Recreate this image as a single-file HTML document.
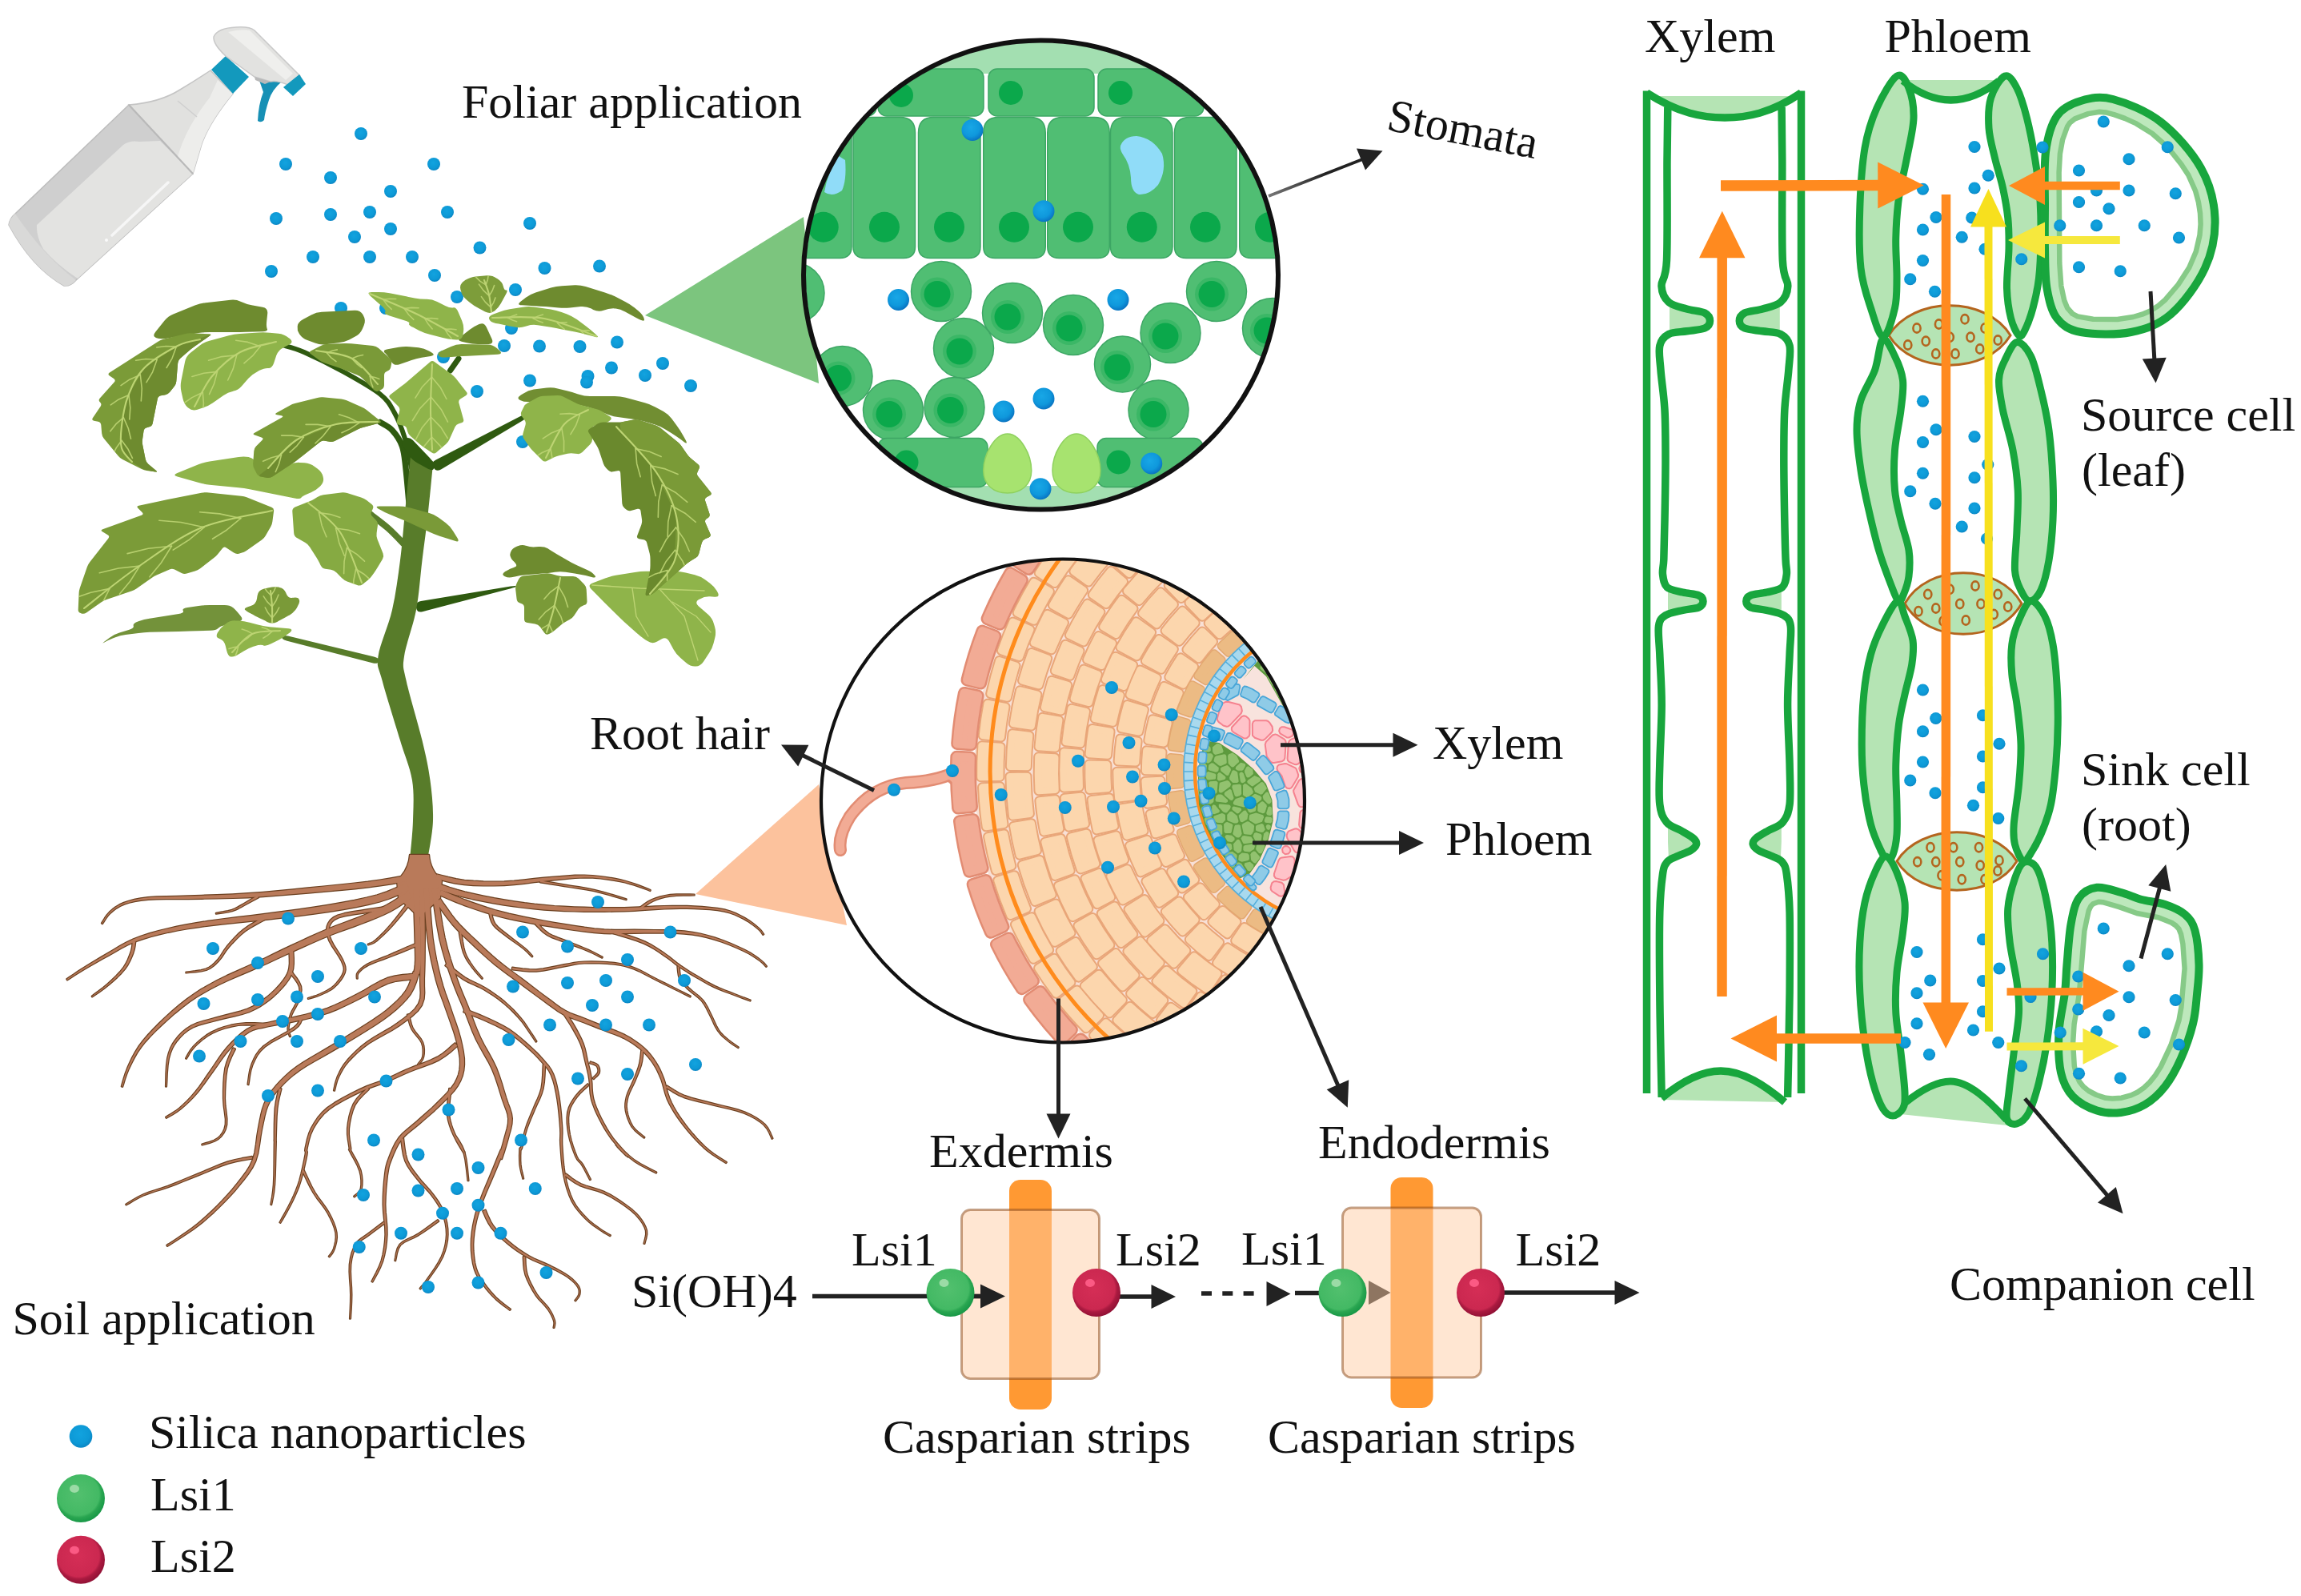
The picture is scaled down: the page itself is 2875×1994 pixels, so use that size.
<!DOCTYPE html>
<html><head><meta charset="utf-8"><title>Silica nanoparticles uptake</title>
<style>
html,body{margin:0;padding:0;background:#fff;}
body{width:2875px;height:1994px;overflow:hidden;}
svg{display:block;}
text{font-family:"Liberation Serif",serif;fill:#111;}
</style></head><body>
<svg width="2875" height="1994" viewBox="0 0 2875 1994">
<!-- defs -->
<defs>
<radialGradient id="gdot" cx="0.45" cy="0.4" r="0.6"><stop offset="0" stop-color="#12a3df"/><stop offset="0.7" stop-color="#0d99d6"/><stop offset="1" stop-color="#0b86c4"/></radialGradient>
<radialGradient id="gdotb" cx="0.42" cy="0.38" r="0.62"><stop offset="0" stop-color="#18a7e6"/><stop offset="0.65" stop-color="#0f98dc"/><stop offset="0.9" stop-color="#0b7fcb"/><stop offset="1" stop-color="#0a74c0"/></radialGradient>
<radialGradient id="ggreen" cx="0.45" cy="0.42" r="0.6"><stop offset="0" stop-color="#52c06e"/><stop offset="0.72" stop-color="#43b964"/><stop offset="0.8" stop-color="#2aa651"/><stop offset="1" stop-color="#159645"/></radialGradient>
<radialGradient id="gred" cx="0.45" cy="0.42" r="0.6"><stop offset="0" stop-color="#d52e56"/><stop offset="0.72" stop-color="#cb2850"/><stop offset="0.8" stop-color="#aa1a40"/><stop offset="1" stop-color="#8e1034"/></radialGradient>
<linearGradient id="gstom" x1="0" y1="1" x2="1" y2="0"><stop offset="0" stop-color="#777"/><stop offset="0.6" stop-color="#222"/></linearGradient>
<g id="ballg"><circle r="30" fill="url(#ggreen)"/><ellipse cx="-8" cy="-12" rx="6" ry="5" fill="#a9e0b0" opacity="0.85"/></g>
<g id="ballr"><circle r="30" fill="url(#gred)"/><ellipse cx="-8" cy="-12" rx="6" ry="5" fill="#ff5f8a" opacity="0.9"/></g>
<clipPath id="cleaf"><circle cx="1300" cy="344" r="295"/></clipPath>
<clipPath id="croot"><circle cx="1328" cy="1002" r="302"/></clipPath>
</defs>

<!-- bottle -->
<g id="bottle">
<!-- body -->
<path d="M161,131 L241,217 L95,350 Q88,358 80,357 Q40,335 11,281 Q12,273 19,267 Z" fill="#cfcfcf" stroke="#bdbdbd" stroke-width="1.5"/>
<!-- foot band -->
<path d="M19,267 Q12,273 11,281 Q40,335 80,357 Q88,358 95,350 Q55,320 19,267Z" fill="#d9d9d8"/>
<!-- lighter label/front -->
<path d="M46,281 L154,181 Q162,175 174,177 L200,176 L241,217 L97,348 Q70,330 54,311 Q45,295 46,281Z" fill="#e3e3e1"/>
<!-- neck -->
<path d="M161,131 Q200,128 225,112 Q245,100 263,88 L291,117 Q262,152 252,180 Q246,200 241,217 Z" fill="#e1e1df" stroke="#c4c4c4" stroke-width="1.5"/>
<path d="M222,196 Q232,160 262,122 L272,100 L291,117 Q262,152 252,180 Q246,200 241,217Z" fill="#ededeb"/>
<path d="M161,131 L241,217" stroke="#b9b9b9" stroke-width="2" fill="none"/>
<path d="M222,126 L246,146" stroke="#cfcfcf" stroke-width="1.5" fill="none"/>
<!-- highlight -->
<path d="M140,294 L210,228" stroke="#f6f6f6" stroke-width="3.5" stroke-linecap="round" fill="none"/>
<circle cx="133" cy="300" r="2" fill="#fafafa"/>
<!-- collar -->
<path d="M264,87 L282,70 L311,96 L291,117Z" fill="#1399bd"/>
<!-- trigger -->
<path d="M323,98 L352,102 Q340,112 336,125 Q331,140 330,150 Q326,154 322,151 Q323,130 329,115 Q326,106 323,98Z" fill="#1790b5"/>
<!-- head -->
<path d="M282,70 Q266,55 267,46 Q272,35 295,34 Q312,33 318,38 L375,95 L360,106 Q345,100 338,102 L318,96 Z" fill="#e2e2e0" stroke="#c9c9c9" stroke-width="1.5"/>
<path d="M285,40 Q300,36 312,38 L366,92 L357,100 Z" fill="#efefed"/>
<path d="M318,96 L338,102 L331,105 L319,100Z" fill="#b9b9b9"/>
<!-- nozzle -->
<path d="M374,93 L382,105 L366,120 L354,109Z" fill="#1399bd"/>
</g>

<!-- spraydots -->
<g id="spraydots">
<circle cx="451" cy="167" r="8" fill="url(#gdot)"/>
<circle cx="357" cy="205" r="8" fill="url(#gdot)"/>
<circle cx="542" cy="205" r="8" fill="url(#gdot)"/>
<circle cx="413" cy="222" r="8" fill="url(#gdot)"/>
<circle cx="488" cy="239" r="8" fill="url(#gdot)"/>
<circle cx="345" cy="273" r="8" fill="url(#gdot)"/>
<circle cx="413" cy="268" r="8" fill="url(#gdot)"/>
<circle cx="462" cy="265" r="8" fill="url(#gdot)"/>
<circle cx="559" cy="265" r="8" fill="url(#gdot)"/>
<circle cx="488" cy="286" r="8" fill="url(#gdot)"/>
<circle cx="443" cy="296" r="8" fill="url(#gdot)"/>
<circle cx="391" cy="321" r="8" fill="url(#gdot)"/>
<circle cx="462" cy="321" r="8" fill="url(#gdot)"/>
<circle cx="515" cy="321" r="8" fill="url(#gdot)"/>
<circle cx="339" cy="339" r="8" fill="url(#gdot)"/>
<circle cx="543" cy="344" r="8" fill="url(#gdot)"/>
<circle cx="426" cy="385" r="8" fill="url(#gdot)"/>
<circle cx="571" cy="371" r="8" fill="url(#gdot)"/>
<circle cx="662" cy="279" r="8" fill="url(#gdot)"/>
<circle cx="599.5" cy="309.5" r="8" fill="url(#gdot)"/>
<circle cx="680.5" cy="335" r="8" fill="url(#gdot)"/>
<circle cx="749" cy="332.5" r="8" fill="url(#gdot)"/>
<circle cx="644" cy="362" r="8" fill="url(#gdot)"/>
<circle cx="630" cy="432" r="8" fill="url(#gdot)"/>
<circle cx="674" cy="432.5" r="8" fill="url(#gdot)"/>
<circle cx="724.5" cy="433" r="8" fill="url(#gdot)"/>
<circle cx="771" cy="427.5" r="8" fill="url(#gdot)"/>
<circle cx="828" cy="454" r="8" fill="url(#gdot)"/>
<circle cx="764" cy="459.5" r="8" fill="url(#gdot)"/>
<circle cx="734.5" cy="470" r="8" fill="url(#gdot)"/>
<circle cx="733" cy="477.5" r="8" fill="url(#gdot)"/>
<circle cx="806" cy="469" r="8" fill="url(#gdot)"/>
<circle cx="662" cy="475.5" r="8" fill="url(#gdot)"/>
<circle cx="863" cy="482" r="8" fill="url(#gdot)"/>
<circle cx="596" cy="489" r="8" fill="url(#gdot)"/>
<circle cx="554" cy="446" r="8" fill="url(#gdot)"/>
<circle cx="639" cy="410" r="8" fill="url(#gdot)"/>
<circle cx="482" cy="385" r="8" fill="url(#gdot)"/>
<circle cx="653" cy="552" r="8" fill="url(#gdot)"/>
</g>
<path d="M806,394 L1004,271 L1023,479 Z" fill="#7cc57e"/>
<path d="M869,1117 L1023,980 L1058,1156 Z" fill="#fcc29d"/>

<!-- plant -->
<g id="plant">
<path d="M514.0,585.0 C512.7,578.8 509.6,559.7 506.0,548.0 C502.4,536.3 497.7,524.2 492.5,515.0 C487.3,505.8 485.4,500.8 475.0,492.5 C464.6,484.2 445.8,473.8 430.0,465.0 C414.2,456.2 392.9,445.7 380.0,440.0 C367.1,434.3 357.1,432.5 352.5,431.0" fill="none" stroke="#2f5a10" stroke-width="6" stroke-linecap="round" />
<path d="M511.0,628.0 C510.3,620.8 508.4,596.8 507.0,585.0 C505.6,573.2 505.3,565.4 502.5,557.5 C499.7,549.6 494.6,542.5 490.0,537.5 C485.4,532.5 477.5,529.2 475.0,527.5" fill="none" stroke="#2f5a10" stroke-width="7.5" stroke-linecap="round" />
<path d="M541.1,583.4 Q538.0,578.0 544.2,574.8 L649.8,520.2 Q656.0,517.0 657.4,519.2 L657.6,519.8 Q659.0,522.0 653.0,525.6 L551.0,586.4 Q545.0,590.0 541.9,584.6 Z" fill="#2f5a10" />
<path d="M562.5,463.0 L573.0,448.0" fill="none" stroke="#2f5a10" stroke-width="7" stroke-linecap="round" stroke-linejoin="round" />
<path d="M519.9,758.3 Q519.0,752.0 525.9,750.9 L638.1,732.6 Q645.0,731.5 645.0,732.4 L645.0,732.6 Q645.0,733.5 638.2,735.3 L527.8,764.2 Q521.0,766.0 520.1,759.7 Z" fill="#2f5a10" />
<path d="M473.1,825.6 Q474.0,822.0 467.2,820.4 L359.8,794.6 Q353.0,793.0 352.6,795.7 L352.4,796.3 Q352.0,799.0 358.8,800.8 L465.2,828.2 Q472.0,830.0 472.9,826.4 Z" fill="#587c2a" />
<path d="M462.0,642.0 C465.8,645.0 477.8,653.7 485.0,660.0 C492.2,666.3 501.7,676.7 505.0,680.0" fill="none" stroke="#587c2a" stroke-width="8" stroke-linecap="round" />
<path d="M513,570 C511.8,581.7 508.2,618.3 506.0,640.0 C503.8,661.7 502.7,679.7 500.0,700.0 C497.3,720.3 494.6,742.0 490.0,762.0 C485.4,782.0 474.6,805.3 472.5,820.0 C470.4,834.7 472.9,832.5 477.5,850.0 C482.1,867.5 493.8,904.2 500.0,925.0 C506.2,945.8 512.3,958.3 515.0,975.0 C517.7,991.7 516.4,1009.2 516.0,1025.0 C515.6,1040.8 513.1,1062.5 512.5,1070.0 L535,1070 C536.0,1062.5 540.6,1040.8 541.0,1025.0 C541.4,1009.2 539.8,991.7 537.5,975.0 C535.2,958.3 532.5,945.8 527.5,925.0 C522.5,904.2 511.2,867.5 507.5,850.0 C503.8,832.5 502.9,834.7 505.0,820.0 C507.1,805.3 516.2,782.0 520.0,762.0 C523.8,742.0 525.0,720.3 527.5,700.0 C530.0,679.7 532.8,660.0 535.0,640.0 C537.2,620.0 540.0,590.0 541.0,580.0Z" fill="#587c2a"/>
<path d="M503.8,557.9 Q500.0,552.0 504.9,548.9 L506.1,548.1 Q511.0,545.0 515.9,550.0 L532.6,567.5 Q537.5,572.5 540.3,575.9 L540.9,576.6 Q543.8,580.0 542.5,584.0 L542.2,585.0 Q541.0,589.0 534.8,585.7 L521.2,578.3 Q515.0,575.0 511.2,569.1 Z" fill="#2f5a10" />
<path d="M194.5,421.8 Q190.0,420.0 194.4,414.5 L205.6,400.5 Q210.0,395.0 216.5,392.4 L243.5,381.6 Q250.0,379.0 257.0,378.2 L288.0,374.8 Q295.0,374.0 300.6,376.7 L301.9,377.3 Q307.5,380.0 314.4,381.3 L328.1,383.7 Q335.0,385.0 334.2,392.0 L333.3,400.5 Q332.5,407.5 333.6,410.4 L333.9,411.1 Q335.0,414.0 328.0,414.2 L307.0,414.8 Q300.0,415.0 293.0,415.0 L262.0,415.0 Q255.0,415.0 248.1,416.1 L206.9,422.9 Q200.0,424.0 195.5,422.2 Z" fill="#6e8b2f" />
<path d="M371.8,407.0 Q372.5,402.5 378.6,399.1 L388.9,393.4 Q395.0,390.0 402.0,389.7 L443.0,387.8 Q450.0,387.5 453.4,393.1 L454.1,394.4 Q457.5,400.0 454.7,406.4 L452.8,411.1 Q450.0,417.5 443.7,420.6 L436.3,424.4 Q430.0,427.5 423.0,428.3 L407.0,430.2 Q400.0,431.0 393.5,428.5 L384.0,425.0 Q377.5,422.5 374.6,418.0 L373.9,417.0 Q371.0,412.5 371.7,408.0 Z" fill="#6e8b2f" />
<path d="M652.0,381.3 Q645.0,381.0 650.5,376.7 L657.0,371.8 Q662.5,367.5 669.2,365.4 L688.3,359.6 Q695.0,357.5 702.0,357.2 L718.0,356.3 Q725.0,356.0 731.7,358.1 L755.8,365.4 Q762.5,367.5 768.8,370.6 L781.2,376.9 Q787.5,380.0 792.9,384.5 L797.1,388.0 Q802.5,392.5 804.1,396.3 L804.4,397.2 Q806.0,401.0 803.3,400.6 L802.7,400.4 Q800.0,400.0 793.9,396.6 L781.1,389.4 Q775.0,386.0 769.4,385.6 L768.1,385.4 Q762.5,385.0 755.9,387.2 L754.1,387.8 Q747.5,390.0 741.2,386.9 L738.8,385.6 Q732.5,382.5 725.5,383.1 L712.0,384.4 Q705.0,385.0 698.0,384.4 L682.0,383.1 Q675.0,382.5 668.0,382.2 Z" fill="#6e8b2f" />
<path d="M649.5,499.8 Q645.0,497.5 650.8,493.6 L654.2,491.4 Q660.0,487.5 666.9,486.6 L683.1,484.6 Q690.0,483.8 696.8,485.4 L708.2,488.3 Q715.0,490.0 721.6,492.2 L723.4,492.8 Q730.0,495.0 737.0,495.0 L768.0,495.0 Q775.0,495.0 781.8,496.8 L805.7,503.2 Q812.5,505.0 818.6,508.4 L828.9,514.1 Q835.0,517.5 839.2,523.1 L845.8,531.9 Q850.0,537.5 853.3,543.7 L856.7,549.8 Q860.0,556.0 854.4,551.9 L850.6,549.1 Q845.0,545.0 839.1,541.3 L830.9,536.2 Q825.0,532.5 818.3,530.5 L806.7,527.0 Q800.0,525.0 793.1,524.0 L771.9,521.0 Q765.0,520.0 758.5,517.4 L746.5,512.6 Q740.0,510.0 733.2,508.3 L726.8,506.7 Q720.0,505.0 713.1,503.8 L696.9,501.2 Q690.0,500.0 683.0,500.5 L662.0,502.0 Q655.0,502.5 650.5,500.2 Z" fill="#718e32" />
<path d="M630.0,719.8 Q626.0,717.5 631.2,714.1 L632.3,713.4 Q637.5,710.0 642.0,708.9 L643.0,708.6 Q647.5,707.5 642.8,702.3 L640.7,700.2 Q636.0,695.0 637.8,690.5 L638.2,689.5 Q640.0,685.0 645.6,682.8 L646.9,682.2 Q652.5,680.0 657.0,681.7 L658.0,682.1 Q662.5,683.8 669.5,683.3 L673.0,683.0 Q680.0,682.5 684.5,685.3 L685.5,685.9 Q690.0,688.8 696.0,692.4 L709.0,700.1 Q715.0,703.8 721.4,706.6 L733.6,712.1 Q740.0,715.0 742.7,718.4 L743.3,719.1 Q746.0,722.5 739.2,720.9 L731.8,719.1 Q725.0,717.5 718.1,716.5 L706.9,714.8 Q700.0,713.8 693.2,714.8 L691.8,715.0 Q685.0,716.0 678.0,716.5 L657.0,718.2 Q650.0,718.8 643.2,720.4 L641.8,720.8 Q635.0,722.5 631.0,720.2 Z" fill="#6e8b2f" />
<path d="M480.9,440.9 Q477.5,437.5 484.4,436.2 L498.1,433.8 Q505.0,432.5 512.0,433.2 L523.0,434.3 Q530.0,435.0 536.0,438.5 L539.0,440.2 Q545.0,443.8 538.1,444.9 L526.9,446.8 Q520.0,448.0 513.4,450.3 L499.1,455.2 Q492.5,457.5 489.1,451.9 L488.4,450.6 Q485.0,445.0 481.6,441.6 Z" fill="#6e8b2f" />
<path d="M576.8,426.7 Q570.0,425.0 575.5,420.7 L587.0,411.8 Q592.5,407.5 598.1,405.2 L599.4,404.8 Q605.0,402.5 607.9,408.9 L614.6,423.6 Q617.5,430.0 610.5,430.0 L597.0,430.0 Q590.0,430.0 583.2,428.3 Z" fill="#6e8b2f" />
<path d="M130.1,802.8 Q126.0,805.0 131.6,800.8 L136.9,796.7 Q142.5,792.5 149.2,790.5 L160.8,787.0 Q167.5,785.0 166.8,782.2 L166.7,781.6 Q166.0,778.8 172.3,776.5 L173.7,776.0 Q180.0,773.8 186.9,772.7 L223.1,767.1 Q230.0,766.0 228.9,763.3 L228.6,762.7 Q227.5,760.0 234.4,759.0 L248.1,757.0 Q255.0,756.0 262.0,756.0 L280.5,756.0 Q287.5,756.0 290.9,758.9 L291.6,759.6 Q295.0,762.5 299.4,768.0 L300.6,769.5 Q305.0,775.0 298.2,776.7 L281.8,780.8 Q275.0,782.5 272.8,784.8 L272.2,785.2 Q270.0,787.5 263.0,787.7 L237.0,788.5 Q230.0,788.8 223.0,788.9 L187.0,789.8 Q180.0,790.0 173.1,790.9 L156.9,792.9 Q150.0,793.8 143.5,796.4 L141.5,797.3 Q135.0,800.0 130.9,802.2 Z" fill="#73923a" />
<path d="M221.7,595.6 Q215.0,593.8 221.5,591.1 L248.5,580.1 Q255.0,577.5 261.9,576.5 L298.1,571.0 Q305.0,570.0 310.6,571.1 L311.9,571.4 Q317.5,572.5 320.6,578.8 L326.9,591.2 Q330.0,597.5 336.2,594.2 L361.3,580.8 Q367.5,577.5 374.5,577.9 L380.5,578.3 Q387.5,578.8 393.1,583.0 L396.9,585.8 Q402.5,590.0 403.6,595.6 L403.9,596.9 Q405.0,602.5 400.5,607.0 L399.5,608.0 Q395.0,612.5 388.6,615.3 L383.9,617.2 Q377.5,620.0 376.4,621.7 L376.1,622.1 Q375.0,623.8 368.1,622.4 L311.9,611.3 Q305.0,610.0 298.0,609.3 L262.0,605.7 Q255.0,605.0 248.3,603.1 Z" fill="#8fb44a" />
<path d="M262.1,419.5 Q265.0,417.5 261.5,417.3 L238.5,416.2 Q235.0,416.0 231.6,416.9 L203.4,424.1 Q200.0,425.0 197.1,426.9 L136.9,465.6 Q134.0,467.5 136.9,469.5 L142.1,473.0 Q145.0,475.0 142.7,477.6 L124.8,497.4 Q122.5,500.0 124.8,502.2 L125.2,502.8 Q127.5,505.0 125.5,507.9 L116.0,522.1 Q114.0,525.0 117.4,525.7 L122.6,526.8 Q126.0,527.5 126.3,531.0 L127.2,541.5 Q127.5,545.0 129.7,547.7 L147.8,569.8 Q150.0,572.5 153.1,574.1 L176.9,585.9 Q180.0,587.5 183.5,588.0 L194.0,589.5 Q197.5,590.0 194.8,587.8 L185.2,579.7 Q182.5,577.5 181.8,574.1 L178.2,555.9 Q177.5,552.5 178.0,549.0 L179.5,538.5 Q180.0,535.0 183.4,534.2 L186.6,533.3 Q190.0,532.5 190.7,529.1 L196.8,498.4 Q197.5,495.0 200.9,494.3 L206.6,493.2 Q210.0,492.5 212.2,489.8 L217.8,482.7 Q220.0,480.0 220.3,476.5 L222.2,453.5 Q222.5,450.0 225.2,447.7 L237.3,437.3 Q240.0,435.0 242.9,433.0 Z" fill="#7b9b38" />
<path d="M261.7,418.6 Q265.0,417.5 262.1,419.5 L242.9,433.0 Q240.0,435.0 237.3,437.3 L225.2,447.7 Q222.5,450.0 222.2,453.5 L220.3,476.5 Q220.0,480.0 217.8,482.7 L212.2,489.8 Q210.0,492.5 206.6,493.2 L200.9,494.3 Q197.5,495.0 196.8,498.4 L190.7,529.1 Q190.0,532.5 186.6,533.3 L183.4,534.2 Q180.0,535.0 179.5,538.5 L178.0,549.0 Q177.5,552.5 178.2,555.9 L181.8,574.1 Q182.5,577.5 185.2,579.7 L194.8,587.8 Q197.5,590.0 194.1,589.4 L183.4,587.6 Q180.0,587.0 177.1,585.1 L167.9,578.9 Q165.0,577.0 162.9,574.2 L154.1,562.8 Q152.0,560.0 152.0,556.5 L152.0,535.5 Q152.0,532.0 152.7,528.6 L159.3,498.4 Q160.0,495.0 161.7,492.0 L178.3,463.0 Q180.0,460.0 182.9,458.1 L219.1,433.9 Q222.0,432.0 225.3,430.9 Z" fill="#6e8b2f" />
<clipPath id="lc1"><path d="M262.1,419.5 Q265.0,417.5 261.5,417.3 L238.5,416.2 Q235.0,416.0 231.6,416.9 L203.4,424.1 Q200.0,425.0 197.1,426.9 L136.9,465.6 Q134.0,467.5 136.9,469.5 L142.1,473.0 Q145.0,475.0 142.7,477.6 L124.8,497.4 Q122.5,500.0 124.8,502.2 L125.2,502.8 Q127.5,505.0 125.5,507.9 L116.0,522.1 Q114.0,525.0 117.4,525.7 L122.6,526.8 Q126.0,527.5 126.3,531.0 L127.2,541.5 Q127.5,545.0 129.7,547.7 L147.8,569.8 Q150.0,572.5 153.1,574.1 L176.9,585.9 Q180.0,587.5 183.5,588.0 L194.0,589.5 Q197.5,590.0 194.8,587.8 L185.2,579.7 Q182.5,577.5 181.8,574.1 L178.2,555.9 Q177.5,552.5 178.0,549.0 L179.5,538.5 Q180.0,535.0 183.4,534.2 L186.6,533.3 Q190.0,532.5 190.7,529.1 L196.8,498.4 Q197.5,495.0 200.9,494.3 L206.6,493.2 Q210.0,492.5 212.2,489.8 L217.8,482.7 Q220.0,480.0 220.3,476.5 L222.2,453.5 Q222.5,450.0 225.2,447.7 L237.3,437.3 Q240.0,435.0 242.9,433.0 Z"/></clipPath><g clip-path="url(#lc1)"><path d="M250.0,424.0 C245.3,425.3 233.7,426.0 222.0,432.0 C210.3,438.0 190.3,449.5 180.0,460.0 C169.7,470.5 164.7,483.0 160.0,495.0 C155.3,507.0 153.3,521.2 152.0,532.0 C150.7,542.8 149.8,552.5 152.0,560.0 C154.2,567.5 162.8,574.2 165.0,577.0" fill="none" stroke="#bdd473" stroke-width="2.1" stroke-linecap="round" />
<path d="M220.4,433.1 L207.3,432.5 L195.7,434.0" fill="none" stroke="#bdd473" stroke-width="1.6" stroke-linecap="round" stroke-linejoin="round" opacity="0.9"/>
<path d="M220.4,433.1 L215.1,447.6 L208.1,459.5" fill="none" stroke="#bdd473" stroke-width="1.6" stroke-linecap="round" stroke-linejoin="round" opacity="0.9"/>
<path d="M196.2,449.2 L182.2,448.5 L169.6,450.2" fill="none" stroke="#bdd473" stroke-width="1.6" stroke-linecap="round" stroke-linejoin="round" opacity="0.9"/>
<path d="M196.2,449.2 L190.6,464.8 L183.0,477.7" fill="none" stroke="#bdd473" stroke-width="1.6" stroke-linecap="round" stroke-linejoin="round" opacity="0.9"/>
<path d="M175.3,468.2 L161.9,474.2 L151.0,481.6" fill="none" stroke="#bdd473" stroke-width="1.6" stroke-linecap="round" stroke-linejoin="round" opacity="0.9"/>
<path d="M175.3,468.2 L177.3,485.5 L176.3,501.0" fill="none" stroke="#bdd473" stroke-width="1.6" stroke-linecap="round" stroke-linejoin="round" opacity="0.9"/>
<path d="M160.9,493.4 L148.4,498.9 L138.3,505.8" fill="none" stroke="#bdd473" stroke-width="1.6" stroke-linecap="round" stroke-linejoin="round" opacity="0.9"/>
<path d="M160.9,493.4 L162.8,509.4 L161.8,523.9" fill="none" stroke="#bdd473" stroke-width="1.6" stroke-linecap="round" stroke-linejoin="round" opacity="0.9"/>
<path d="M154.3,521.6 L144.8,529.9 L137.8,538.8" fill="none" stroke="#bdd473" stroke-width="1.6" stroke-linecap="round" stroke-linejoin="round" opacity="0.9"/>
<path d="M154.3,521.6 L160.3,535.2 L163.5,548.1" fill="none" stroke="#bdd473" stroke-width="1.6" stroke-linecap="round" stroke-linejoin="round" opacity="0.9"/>
<path d="M152.0,550.3 L145.2,559.6 L140.6,569.0" fill="none" stroke="#bdd473" stroke-width="1.6" stroke-linecap="round" stroke-linejoin="round" opacity="0.9"/>
<path d="M152.0,550.3 L160.1,561.3 L165.5,572.4" fill="none" stroke="#bdd473" stroke-width="1.6" stroke-linecap="round" stroke-linejoin="round" opacity="0.9"/></g>
<path d="M361.2,430.6 Q367.5,427.5 362.0,423.1 L360.5,421.9 Q355.0,417.5 348.0,416.8 L337.0,415.7 Q330.0,415.0 323.0,415.5 L299.5,417.0 Q292.5,417.5 285.7,419.3 L261.8,425.7 Q255.0,427.5 249.5,431.8 L238.0,440.7 Q232.5,445.0 231.1,451.9 L226.4,475.6 Q225.0,482.5 226.5,489.3 L228.5,498.2 Q230.0,505.0 234.5,508.9 L235.5,509.8 Q240.0,513.8 246.7,511.7 L253.3,509.6 Q260.0,507.5 265.7,503.5 L279.3,494.0 Q285.0,490.0 290.6,488.9 L291.9,488.6 Q297.5,487.5 302.1,482.2 L310.4,472.8 Q315.0,467.5 321.3,464.4 L323.7,463.1 Q330.0,460.0 334.5,460.0 L335.5,460.0 Q340.0,460.0 342.2,453.4 L345.3,444.1 Q347.5,437.5 353.8,434.4 Z" fill="#8fb44a" />
<clipPath id="lc2"><path d="M361.2,430.6 Q367.5,427.5 362.0,423.1 L360.5,421.9 Q355.0,417.5 348.0,416.8 L337.0,415.7 Q330.0,415.0 323.0,415.5 L299.5,417.0 Q292.5,417.5 285.7,419.3 L261.8,425.7 Q255.0,427.5 249.5,431.8 L238.0,440.7 Q232.5,445.0 231.1,451.9 L226.4,475.6 Q225.0,482.5 226.5,489.3 L228.5,498.2 Q230.0,505.0 234.5,508.9 L235.5,509.8 Q240.0,513.8 246.7,511.7 L253.3,509.6 Q260.0,507.5 265.7,503.5 L279.3,494.0 Q285.0,490.0 290.6,488.9 L291.9,488.6 Q297.5,487.5 302.1,482.2 L310.4,472.8 Q315.0,467.5 321.3,464.4 L323.7,463.1 Q330.0,460.0 334.5,460.0 L335.5,460.0 Q340.0,460.0 342.2,453.4 L345.3,444.1 Q347.5,437.5 353.8,434.4 Z"/></clipPath><g clip-path="url(#lc2)"><path d="M345.0,427.0 C337.5,429.2 313.3,432.8 300.0,440.0 C286.7,447.2 274.5,458.7 265.0,470.0 C255.5,481.3 246.7,501.7 243.0,508.0" fill="none" stroke="#bdd473" stroke-width="2.1" stroke-linecap="round" />
<path d="M325.3,432.7 L309.5,427.4 L294.6,425.2" fill="none" stroke="#bdd473" stroke-width="1.6" stroke-linecap="round" stroke-linejoin="round" opacity="0.9"/>
<path d="M325.3,432.7 L315.5,444.7 L304.9,453.8" fill="none" stroke="#bdd473" stroke-width="1.6" stroke-linecap="round" stroke-linejoin="round" opacity="0.9"/>
<path d="M295.7,443.7 L277.0,445.6 L260.6,450.3" fill="none" stroke="#bdd473" stroke-width="1.6" stroke-linecap="round" stroke-linejoin="round" opacity="0.9"/>
<path d="M295.7,443.7 L291.3,460.6 L284.7,475.0" fill="none" stroke="#bdd473" stroke-width="1.6" stroke-linecap="round" stroke-linejoin="round" opacity="0.9"/>
<path d="M271.5,464.4 L254.6,466.2 L239.9,470.4" fill="none" stroke="#bdd473" stroke-width="1.6" stroke-linecap="round" stroke-linejoin="round" opacity="0.9"/>
<path d="M271.5,464.4 L267.5,479.7 L261.5,492.6" fill="none" stroke="#bdd473" stroke-width="1.6" stroke-linecap="round" stroke-linejoin="round" opacity="0.9"/>
<path d="M253.3,490.2 L240.0,496.6 L229.1,504.2" fill="none" stroke="#bdd473" stroke-width="1.6" stroke-linecap="round" stroke-linejoin="round" opacity="0.9"/>
<path d="M253.3,490.2 L254.4,503.9 L253.2,516.2" fill="none" stroke="#bdd473" stroke-width="1.6" stroke-linecap="round" stroke-linejoin="round" opacity="0.9"/></g>
<path d="M388.3,442.3 Q385.0,440.0 388.6,438.2 L401.4,431.8 Q405.0,430.0 409.0,429.8 L431.0,428.9 Q435.0,428.8 439.0,429.2 L466.0,432.1 Q470.0,432.5 473.0,435.1 L487.0,447.4 Q490.0,450.0 489.2,453.9 L488.3,458.6 Q487.5,462.5 484.1,463.6 L483.4,463.9 Q480.0,465.0 480.0,469.0 L480.0,481.0 Q480.0,485.0 476.4,486.8 L473.6,488.2 Q470.0,490.0 467.2,487.2 L452.8,472.8 Q450.0,470.0 446.3,468.5 L428.7,461.5 Q425.0,460.0 421.2,458.7 L406.3,453.8 Q402.5,452.5 399.2,450.2 Z" fill="#7a9a38" />
<clipPath id="lc3"><path d="M388.3,442.3 Q385.0,440.0 388.6,438.2 L401.4,431.8 Q405.0,430.0 409.0,429.8 L431.0,428.9 Q435.0,428.8 439.0,429.2 L466.0,432.1 Q470.0,432.5 473.0,435.1 L487.0,447.4 Q490.0,450.0 489.2,453.9 L488.3,458.6 Q487.5,462.5 484.1,463.6 L483.4,463.9 Q480.0,465.0 480.0,469.0 L480.0,481.0 Q480.0,485.0 476.4,486.8 L473.6,488.2 Q470.0,490.0 467.2,487.2 L452.8,472.8 Q450.0,470.0 446.3,468.5 L428.7,461.5 Q425.0,460.0 421.2,458.7 L406.3,453.8 Q402.5,452.5 399.2,450.2 Z"/></clipPath><g clip-path="url(#lc3)"><path d="M395.0,438.0 C402.5,439.7 427.2,441.0 440.0,448.0 C452.8,455.0 466.7,474.7 472.0,480.0" fill="none" stroke="#bdd473" stroke-width="2.1" stroke-linecap="round" />
<path d="M408.4,441.0 L414.0,447.1 L420.0,451.6" fill="none" stroke="#bdd473" stroke-width="1.6" stroke-linecap="round" stroke-linejoin="round" opacity="0.9"/>
<path d="M408.4,441.0 L415.0,438.3 L421.3,436.9" fill="none" stroke="#bdd473" stroke-width="1.6" stroke-linecap="round" stroke-linejoin="round" opacity="0.9"/>
<path d="M439.6,447.9 L445.7,454.5 L452.2,459.5" fill="none" stroke="#bdd473" stroke-width="1.6" stroke-linecap="round" stroke-linejoin="round" opacity="0.9"/>
<path d="M439.6,447.9 L446.8,445.0 L453.6,443.5" fill="none" stroke="#bdd473" stroke-width="1.6" stroke-linecap="round" stroke-linejoin="round" opacity="0.9"/>
<path d="M462.3,470.3 L463.6,477.6 L465.9,483.8" fill="none" stroke="#bdd473" stroke-width="1.6" stroke-linecap="round" stroke-linejoin="round" opacity="0.9"/>
<path d="M462.3,470.3 L468.5,471.5 L473.9,473.4" fill="none" stroke="#bdd473" stroke-width="1.6" stroke-linecap="round" stroke-linejoin="round" opacity="0.9"/></g>
<path d="M462.7,369.7 Q457.5,365.0 464.5,365.0 L473.0,365.0 Q480.0,365.0 486.9,366.3 L518.1,372.4 Q525.0,373.8 531.8,373.8 L533.2,373.8 Q540.0,373.8 546.3,376.9 L556.2,381.9 Q562.5,385.0 565.9,384.4 L566.6,384.3 Q570.0,383.8 572.7,390.2 L577.3,401.0 Q580.0,407.5 579.0,414.4 L578.5,418.1 Q577.5,425.0 570.5,424.5 L567.0,424.2 Q560.0,423.8 553.2,422.0 L536.8,417.8 Q530.0,416.0 523.7,412.9 L516.3,409.1 Q510.0,406.0 511.1,404.4 L511.4,404.1 Q512.5,402.5 505.8,400.4 L486.7,394.6 Q480.0,392.5 481.1,390.2 L481.4,389.8 Q482.5,387.5 477.3,382.8 Z" fill="#8fb44a" />
<clipPath id="lc4"><path d="M462.7,369.7 Q457.5,365.0 464.5,365.0 L473.0,365.0 Q480.0,365.0 486.9,366.3 L518.1,372.4 Q525.0,373.8 531.8,373.8 L533.2,373.8 Q540.0,373.8 546.3,376.9 L556.2,381.9 Q562.5,385.0 565.9,384.4 L566.6,384.3 Q570.0,383.8 572.7,390.2 L577.3,401.0 Q580.0,407.5 579.0,414.4 L578.5,418.1 Q577.5,425.0 570.5,424.5 L567.0,424.2 Q560.0,423.8 553.2,422.0 L536.8,417.8 Q530.0,416.0 523.7,412.9 L516.3,409.1 Q510.0,406.0 511.1,404.4 L511.4,404.1 Q512.5,402.5 505.8,400.4 L486.7,394.6 Q480.0,392.5 481.1,390.2 L481.4,389.8 Q482.5,387.5 477.3,382.8 Z"/></clipPath><g clip-path="url(#lc4)"><path d="M462.0,367.0 C471.7,371.2 501.7,383.2 520.0,392.0 C538.3,400.8 563.3,415.3 572.0,420.0" fill="none" stroke="#bdd473" stroke-width="2.1" stroke-linecap="round" />
<path d="M478.8,374.3 L483.8,381.0 L489.2,386.4" fill="none" stroke="#bdd473" stroke-width="1.6" stroke-linecap="round" stroke-linejoin="round" opacity="0.9"/>
<path d="M478.8,374.3 L487.2,373.3 L494.8,373.5" fill="none" stroke="#bdd473" stroke-width="1.6" stroke-linecap="round" stroke-linejoin="round" opacity="0.9"/>
<path d="M505.0,385.5 L510.7,393.2 L516.8,399.3" fill="none" stroke="#bdd473" stroke-width="1.6" stroke-linecap="round" stroke-linejoin="round" opacity="0.9"/>
<path d="M505.0,385.5 L514.5,384.4 L523.1,384.7" fill="none" stroke="#bdd473" stroke-width="1.6" stroke-linecap="round" stroke-linejoin="round" opacity="0.9"/>
<path d="M530.7,397.8 L535.2,405.1 L540.2,411.0" fill="none" stroke="#bdd473" stroke-width="1.6" stroke-linecap="round" stroke-linejoin="round" opacity="0.9"/>
<path d="M530.7,397.8 L539.3,397.5 L547.0,398.4" fill="none" stroke="#bdd473" stroke-width="1.6" stroke-linecap="round" stroke-linejoin="round" opacity="0.9"/>
<path d="M555.9,411.3 L559.7,417.6 L564.1,422.8" fill="none" stroke="#bdd473" stroke-width="1.6" stroke-linecap="round" stroke-linejoin="round" opacity="0.9"/>
<path d="M555.9,411.3 L563.3,411.1 L570.0,411.8" fill="none" stroke="#bdd473" stroke-width="1.6" stroke-linecap="round" stroke-linejoin="round" opacity="0.9"/></g>
<path d="M611.1,398.4 Q610.0,395.0 616.6,392.5 L623.4,390.0 Q630.0,387.5 636.9,386.3 L653.1,383.7 Q660.0,382.5 666.9,383.5 L688.1,386.5 Q695.0,387.5 701.6,390.0 L708.4,392.5 Q715.0,395.0 720.7,399.1 L726.8,403.4 Q732.5,407.5 737.8,412.1 L744.7,417.9 Q750.0,422.5 743.2,420.7 L731.8,417.8 Q725.0,416.0 718.1,414.6 L701.9,411.4 Q695.0,410.0 688.1,408.8 L671.9,406.2 Q665.0,405.0 658.4,407.2 L656.6,407.8 Q650.0,410.0 643.1,408.6 L636.9,407.4 Q630.0,406.0 623.1,404.6 L619.4,403.9 Q612.5,402.5 611.4,399.1 Z" fill="#8fb44a" />
<clipPath id="lc5"><path d="M611.1,398.4 Q610.0,395.0 616.6,392.5 L623.4,390.0 Q630.0,387.5 636.9,386.3 L653.1,383.7 Q660.0,382.5 666.9,383.5 L688.1,386.5 Q695.0,387.5 701.6,390.0 L708.4,392.5 Q715.0,395.0 720.7,399.1 L726.8,403.4 Q732.5,407.5 737.8,412.1 L744.7,417.9 Q750.0,422.5 743.2,420.7 L731.8,417.8 Q725.0,416.0 718.1,414.6 L701.9,411.4 Q695.0,410.0 688.1,408.8 L671.9,406.2 Q665.0,405.0 658.4,407.2 L656.6,407.8 Q650.0,410.0 643.1,408.6 L636.9,407.4 Q630.0,406.0 623.1,404.6 L619.4,403.9 Q612.5,402.5 611.4,399.1 Z"/></clipPath><g clip-path="url(#lc5)"><path d="M615.0,397.0 C625.8,397.2 658.3,394.2 680.0,398.0 C701.7,401.8 734.2,416.3 745.0,420.0" fill="none" stroke="#bdd473" stroke-width="2.1" stroke-linecap="round" />
<path d="M635.0,397.3 L640.4,400.0 L645.6,401.8" fill="none" stroke="#bdd473" stroke-width="1.6" stroke-linecap="round" stroke-linejoin="round" opacity="0.9"/>
<path d="M635.0,397.3 L640.5,394.8 L645.7,393.1" fill="none" stroke="#bdd473" stroke-width="1.6" stroke-linecap="round" stroke-linejoin="round" opacity="0.9"/>
<path d="M666.2,397.8 L672.3,400.9 L678.2,402.9" fill="none" stroke="#bdd473" stroke-width="1.6" stroke-linecap="round" stroke-linejoin="round" opacity="0.9"/>
<path d="M666.2,397.8 L672.4,394.9 L678.4,393.0" fill="none" stroke="#bdd473" stroke-width="1.6" stroke-linecap="round" stroke-linejoin="round" opacity="0.9"/>
<path d="M696.5,403.6 L700.9,407.9 L705.3,411.3" fill="none" stroke="#bdd473" stroke-width="1.6" stroke-linecap="round" stroke-linejoin="round" opacity="0.9"/>
<path d="M696.5,403.6 L702.6,402.8 L708.2,402.8" fill="none" stroke="#bdd473" stroke-width="1.6" stroke-linecap="round" stroke-linejoin="round" opacity="0.9"/>
<path d="M726.0,413.6 L729.8,417.3 L733.7,420.3" fill="none" stroke="#bdd473" stroke-width="1.6" stroke-linecap="round" stroke-linejoin="round" opacity="0.9"/>
<path d="M726.0,413.6 L731.3,412.9 L736.2,412.9" fill="none" stroke="#bdd473" stroke-width="1.6" stroke-linecap="round" stroke-linejoin="round" opacity="0.9"/></g>
<path d="M575.4,361.8 Q573.8,355.0 579.6,351.2 L581.6,349.8 Q587.5,346.0 594.5,345.4 L608.0,344.3 Q615.0,343.8 620.6,347.7 L621.9,348.6 Q627.5,352.5 628.6,357.0 L628.9,358.0 Q630.0,362.5 632.2,362.5 L632.8,362.5 Q635.0,362.5 631.6,368.6 L625.9,378.9 Q622.5,385.0 618.0,388.4 L617.0,389.1 Q612.5,392.5 606.2,389.4 L598.8,385.6 Q592.5,382.5 587.1,378.0 L582.9,374.5 Q577.5,370.0 575.8,363.2 Z" fill="#7d9d3a" />
<clipPath id="lc6"><path d="M575.4,361.8 Q573.8,355.0 579.6,351.2 L581.6,349.8 Q587.5,346.0 594.5,345.4 L608.0,344.3 Q615.0,343.8 620.6,347.7 L621.9,348.6 Q627.5,352.5 628.6,357.0 L628.9,358.0 Q630.0,362.5 632.2,362.5 L632.8,362.5 Q635.0,362.5 631.6,368.6 L625.9,378.9 Q622.5,385.0 618.0,388.4 L617.0,389.1 Q612.5,392.5 606.2,389.4 L598.8,385.6 Q592.5,382.5 587.1,378.0 L582.9,374.5 Q577.5,370.0 575.8,363.2 Z"/></clipPath><g clip-path="url(#lc6)"><path d="M614.0,390.0 C613.5,386.3 612.5,374.7 611.0,368.0 C609.5,361.3 606.0,353.0 605.0,350.0" fill="none" stroke="#bdd473" stroke-width="2.1" stroke-linecap="round" />
<path d="M613.2,383.9 L606.3,377.4 L601.4,370.6" fill="none" stroke="#bdd473" stroke-width="1.6" stroke-linecap="round" stroke-linejoin="round" opacity="0.9"/>
<path d="M613.2,383.9 L616.8,377.8 L619.0,371.9" fill="none" stroke="#bdd473" stroke-width="1.6" stroke-linecap="round" stroke-linejoin="round" opacity="0.9"/>
<path d="M611.2,369.6 L603.8,362.6 L598.4,355.1" fill="none" stroke="#bdd473" stroke-width="1.6" stroke-linecap="round" stroke-linejoin="round" opacity="0.9"/>
<path d="M611.2,369.6 L615.2,363.0 L617.6,356.6" fill="none" stroke="#bdd473" stroke-width="1.6" stroke-linecap="round" stroke-linejoin="round" opacity="0.9"/>
<path d="M607.0,355.9 L599.9,351.4 L594.5,346.2" fill="none" stroke="#bdd473" stroke-width="1.6" stroke-linecap="round" stroke-linejoin="round" opacity="0.9"/>
<path d="M607.0,355.9 L609.2,350.0 L610.1,344.5" fill="none" stroke="#bdd473" stroke-width="1.6" stroke-linecap="round" stroke-linejoin="round" opacity="0.9"/></g>
<path d="M547.8,443.7 Q546.0,441.0 552.4,438.1 L563.6,432.9 Q570.0,430.0 577.0,430.1 L609.0,430.4 Q616.0,430.5 621.1,435.2 L623.9,437.8 Q629.0,442.5 622.0,442.8 L584.5,444.7 Q577.5,445.0 570.5,445.5 L557.0,446.5 Q550.0,447.0 548.2,444.3 Z" fill="#7d9d3a" />
<path d="M537.3,452.3 Q540.0,450.0 542.8,452.1 L564.7,467.9 Q567.5,470.0 569.6,472.8 L582.9,489.7 Q585.0,492.5 582.0,494.3 L575.5,498.2 Q572.5,500.0 573.4,503.4 L579.1,524.1 Q580.0,527.5 576.6,528.3 L573.4,529.2 Q570.0,530.0 568.6,533.2 L561.4,549.3 Q560.0,552.5 557.3,554.8 L545.2,565.2 Q542.5,567.5 539.6,565.6 L530.4,559.4 Q527.5,557.5 524.8,555.2 L512.7,544.8 Q510.0,542.5 509.2,539.1 L508.3,535.9 Q507.5,532.5 504.1,531.8 L498.4,530.7 Q495.0,530.0 495.8,526.6 L499.2,513.4 Q500.0,510.0 497.5,507.5 L487.5,497.5 Q485.0,495.0 487.8,492.9 L502.2,482.1 Q505.0,480.0 507.7,477.7 Z" fill="#8fb44a" />
<clipPath id="lc7"><path d="M537.3,452.3 Q540.0,450.0 542.8,452.1 L564.7,467.9 Q567.5,470.0 569.6,472.8 L582.9,489.7 Q585.0,492.5 582.0,494.3 L575.5,498.2 Q572.5,500.0 573.4,503.4 L579.1,524.1 Q580.0,527.5 576.6,528.3 L573.4,529.2 Q570.0,530.0 568.6,533.2 L561.4,549.3 Q560.0,552.5 557.3,554.8 L545.2,565.2 Q542.5,567.5 539.6,565.6 L530.4,559.4 Q527.5,557.5 524.8,555.2 L512.7,544.8 Q510.0,542.5 509.2,539.1 L508.3,535.9 Q507.5,532.5 504.1,531.8 L498.4,530.7 Q495.0,530.0 495.8,526.6 L499.2,513.4 Q500.0,510.0 497.5,507.5 L487.5,497.5 Q485.0,495.0 487.8,492.9 L502.2,482.1 Q505.0,480.0 507.7,477.7 Z"/></clipPath><g clip-path="url(#lc7)"><path d="M540.0,455.0 C539.7,464.2 538.0,492.2 538.0,510.0 C538.0,527.8 539.7,553.3 540.0,562.0" fill="none" stroke="#bdd473" stroke-width="2.1" stroke-linecap="round" />
<path d="M539.4,471.1 L550.6,484.6 L557.9,498.5" fill="none" stroke="#bdd473" stroke-width="1.6" stroke-linecap="round" stroke-linejoin="round" opacity="0.9"/>
<path d="M539.4,471.1 L527.2,483.8 L518.9,497.1" fill="none" stroke="#bdd473" stroke-width="1.6" stroke-linecap="round" stroke-linejoin="round" opacity="0.9"/>
<path d="M538.5,496.0 L551.2,511.4 L559.5,527.1" fill="none" stroke="#bdd473" stroke-width="1.6" stroke-linecap="round" stroke-linejoin="round" opacity="0.9"/>
<path d="M538.5,496.0 L524.7,510.4 L515.3,525.5" fill="none" stroke="#bdd473" stroke-width="1.6" stroke-linecap="round" stroke-linejoin="round" opacity="0.9"/>
<path d="M538.4,521.0 L550.9,533.9 L559.3,547.5" fill="none" stroke="#bdd473" stroke-width="1.6" stroke-linecap="round" stroke-linejoin="round" opacity="0.9"/>
<path d="M538.4,521.0 L527.0,534.8 L519.6,549.0" fill="none" stroke="#bdd473" stroke-width="1.6" stroke-linecap="round" stroke-linejoin="round" opacity="0.9"/>
<path d="M539.4,546.0 L550.2,557.2 L557.6,569.0" fill="none" stroke="#bdd473" stroke-width="1.6" stroke-linecap="round" stroke-linejoin="round" opacity="0.9"/>
<path d="M539.4,546.0 L529.5,558.0 L523.0,570.3" fill="none" stroke="#bdd473" stroke-width="1.6" stroke-linecap="round" stroke-linejoin="round" opacity="0.9"/></g>
<path d="M474.1,528.4 Q477.5,527.5 474.7,525.4 L457.8,512.1 Q455.0,510.0 451.8,508.6 L433.2,500.2 Q430.0,498.8 426.5,498.4 L403.5,496.3 Q400.0,496.0 396.6,496.9 L368.4,504.1 Q365.0,505.0 361.9,506.7 L345.6,515.8 Q342.5,517.5 345.9,518.2 L351.6,519.3 Q355.0,520.0 351.9,521.7 L318.1,540.8 Q315.0,542.5 318.3,543.6 L326.7,546.4 Q330.0,547.5 327.5,550.0 L320.0,557.5 Q317.5,560.0 317.3,563.5 L316.2,579.0 Q316.0,582.5 317.6,585.6 L320.9,591.9 Q322.5,595.0 326.0,595.6 L334.0,596.9 Q337.5,597.5 340.4,595.6 L364.6,579.4 Q367.5,577.5 370.3,575.4 L374.7,572.1 Q377.5,570.0 380.2,567.8 L399.8,552.2 Q402.5,550.0 405.9,550.7 L411.6,551.8 Q415.0,552.5 418.1,550.9 L446.9,536.6 Q450.0,535.0 453.4,534.1 Z" fill="#7b9b38" />
<path d="M474.0,527.7 Q477.5,527.5 474.1,528.4 L453.4,534.1 Q450.0,535.0 446.9,536.6 L418.1,550.9 Q415.0,552.5 411.6,551.8 L405.9,550.7 Q402.5,550.0 399.8,552.2 L380.2,567.8 Q377.5,570.0 374.7,572.1 L370.3,575.4 Q367.5,577.5 364.6,579.4 L340.4,595.6 Q337.5,597.5 334.0,596.9 L326.0,595.6 Q322.5,595.0 325.2,592.8 L332.3,587.2 Q335.0,585.0 337.5,582.5 L367.5,552.5 Q370.0,550.0 373.2,548.7 L416.8,531.3 Q420.0,530.0 423.5,529.8 Z" fill="#6e8b2f" />
<clipPath id="lc8"><path d="M474.1,528.4 Q477.5,527.5 474.7,525.4 L457.8,512.1 Q455.0,510.0 451.8,508.6 L433.2,500.2 Q430.0,498.8 426.5,498.4 L403.5,496.3 Q400.0,496.0 396.6,496.9 L368.4,504.1 Q365.0,505.0 361.9,506.7 L345.6,515.8 Q342.5,517.5 345.9,518.2 L351.6,519.3 Q355.0,520.0 351.9,521.7 L318.1,540.8 Q315.0,542.5 318.3,543.6 L326.7,546.4 Q330.0,547.5 327.5,550.0 L320.0,557.5 Q317.5,560.0 317.3,563.5 L316.2,579.0 Q316.0,582.5 317.6,585.6 L320.9,591.9 Q322.5,595.0 326.0,595.6 L334.0,596.9 Q337.5,597.5 340.4,595.6 L364.6,579.4 Q367.5,577.5 370.3,575.4 L374.7,572.1 Q377.5,570.0 380.2,567.8 L399.8,552.2 Q402.5,550.0 405.9,550.7 L411.6,551.8 Q415.0,552.5 418.1,550.9 L446.9,536.6 Q450.0,535.0 453.4,534.1 Z"/></clipPath><g clip-path="url(#lc8)"><path d="M472.0,527.0 C463.3,527.5 437.0,526.2 420.0,530.0 C403.0,533.8 384.2,540.8 370.0,550.0 C355.8,559.2 340.8,579.2 335.0,585.0" fill="none" stroke="#bdd473" stroke-width="2.1" stroke-linecap="round" />
<path d="M448.7,528.3 L435.9,521.8 L423.5,517.7" fill="none" stroke="#bdd473" stroke-width="1.6" stroke-linecap="round" stroke-linejoin="round" opacity="0.9"/>
<path d="M448.7,528.3 L437.7,535.6 L426.9,540.7" fill="none" stroke="#bdd473" stroke-width="1.6" stroke-linecap="round" stroke-linejoin="round" opacity="0.9"/>
<path d="M413.0,532.8 L396.9,530.4 L382.1,530.4" fill="none" stroke="#bdd473" stroke-width="1.6" stroke-linecap="round" stroke-linejoin="round" opacity="0.9"/>
<path d="M413.0,532.8 L403.8,544.5 L394.0,553.9" fill="none" stroke="#bdd473" stroke-width="1.6" stroke-linecap="round" stroke-linejoin="round" opacity="0.9"/>
<path d="M379.4,546.3 L364.9,544.1 L351.6,544.1" fill="none" stroke="#bdd473" stroke-width="1.6" stroke-linecap="round" stroke-linejoin="round" opacity="0.9"/>
<path d="M379.4,546.3 L371.1,556.8 L362.2,565.2" fill="none" stroke="#bdd473" stroke-width="1.6" stroke-linecap="round" stroke-linejoin="round" opacity="0.9"/>
<path d="M351.5,568.5 L339.2,571.8 L328.6,576.3" fill="none" stroke="#bdd473" stroke-width="1.6" stroke-linecap="round" stroke-linejoin="round" opacity="0.9"/>
<path d="M351.5,568.5 L348.5,579.8 L344.3,589.5" fill="none" stroke="#bdd473" stroke-width="1.6" stroke-linecap="round" stroke-linejoin="round" opacity="0.9"/></g>
<path d="M342.1,638.5 Q342.5,635.0 339.3,633.7 L308.2,621.3 Q305.0,620.0 301.5,619.7 L258.5,615.3 Q255.0,615.0 251.6,615.7 L208.4,624.3 Q205.0,625.0 201.6,625.7 L173.4,631.8 Q170.0,632.5 172.5,635.0 L177.5,640.0 Q180.0,642.5 176.7,643.7 L128.3,661.3 Q125.0,662.5 128.0,664.3 L134.5,668.2 Q137.5,670.0 135.3,672.8 L112.2,702.2 Q110.0,705.0 108.9,708.3 L99.9,734.2 Q98.8,737.5 98.6,741.0 L97.7,761.5 Q97.5,765.0 100.8,766.1 L101.7,766.4 Q105.0,767.5 107.9,765.5 L127.1,752.0 Q130.0,750.0 133.3,748.9 L164.2,738.6 Q167.5,737.5 170.4,735.5 L189.6,722.0 Q192.5,720.0 195.7,718.6 L211.8,711.4 Q215.0,710.0 218.1,711.6 L226.9,715.9 Q230.0,717.5 233.4,716.5 L243.6,713.5 Q247.0,712.5 249.8,710.4 L267.2,697.1 Q270.0,695.0 272.2,692.3 L277.8,685.2 Q280.0,682.5 282.9,684.4 L292.1,690.6 Q295.0,692.5 298.4,691.7 L301.6,690.8 Q305.0,690.0 307.9,688.0 L327.1,674.5 Q330.0,672.5 331.7,669.5 L338.3,658.0 Q340.0,655.0 340.4,651.5 Z" fill="#7b9b38" />
<clipPath id="lc9"><path d="M342.1,638.5 Q342.5,635.0 339.3,633.7 L308.2,621.3 Q305.0,620.0 301.5,619.7 L258.5,615.3 Q255.0,615.0 251.6,615.7 L208.4,624.3 Q205.0,625.0 201.6,625.7 L173.4,631.8 Q170.0,632.5 172.5,635.0 L177.5,640.0 Q180.0,642.5 176.7,643.7 L128.3,661.3 Q125.0,662.5 128.0,664.3 L134.5,668.2 Q137.5,670.0 135.3,672.8 L112.2,702.2 Q110.0,705.0 108.9,708.3 L99.9,734.2 Q98.8,737.5 98.6,741.0 L97.7,761.5 Q97.5,765.0 100.8,766.1 L101.7,766.4 Q105.0,767.5 107.9,765.5 L127.1,752.0 Q130.0,750.0 133.3,748.9 L164.2,738.6 Q167.5,737.5 170.4,735.5 L189.6,722.0 Q192.5,720.0 195.7,718.6 L211.8,711.4 Q215.0,710.0 218.1,711.6 L226.9,715.9 Q230.0,717.5 233.4,716.5 L243.6,713.5 Q247.0,712.5 249.8,710.4 L267.2,697.1 Q270.0,695.0 272.2,692.3 L277.8,685.2 Q280.0,682.5 282.9,684.4 L292.1,690.6 Q295.0,692.5 298.4,691.7 L301.6,690.8 Q305.0,690.0 307.9,688.0 L327.1,674.5 Q330.0,672.5 331.7,669.5 L338.3,658.0 Q340.0,655.0 340.4,651.5 Z"/></clipPath><g clip-path="url(#lc9)"><path d="M340.0,638.0 C325.0,641.7 278.3,648.0 250.0,660.0 C221.7,672.0 194.2,693.3 170.0,710.0 C145.8,726.7 115.8,751.7 105.0,760.0" fill="none" stroke="#bdd473" stroke-width="2.1" stroke-linecap="round" />
<path d="M300.8,647.6 L274.3,641.9 L249.6,639.8" fill="none" stroke="#bdd473" stroke-width="1.6" stroke-linecap="round" stroke-linejoin="round" opacity="0.9"/>
<path d="M300.8,647.6 L283.2,662.2 L265.5,673.3" fill="none" stroke="#bdd473" stroke-width="1.6" stroke-linecap="round" stroke-linejoin="round" opacity="0.9"/>
<path d="M255.1,658.8 L225.9,652.5 L198.8,650.2" fill="none" stroke="#bdd473" stroke-width="1.6" stroke-linecap="round" stroke-linejoin="round" opacity="0.9"/>
<path d="M255.1,658.8 L235.7,674.8 L216.2,687.1" fill="none" stroke="#bdd473" stroke-width="1.6" stroke-linecap="round" stroke-linejoin="round" opacity="0.9"/>
<path d="M214.5,682.2 L185.3,685.3 L159.1,691.6" fill="none" stroke="#bdd473" stroke-width="1.6" stroke-linecap="round" stroke-linejoin="round" opacity="0.9"/>
<path d="M214.5,682.2 L201.3,703.2 L186.9,720.8" fill="none" stroke="#bdd473" stroke-width="1.6" stroke-linecap="round" stroke-linejoin="round" opacity="0.9"/>
<path d="M174.6,707.1 L148.0,710.0 L124.3,715.7" fill="none" stroke="#bdd473" stroke-width="1.6" stroke-linecap="round" stroke-linejoin="round" opacity="0.9"/>
<path d="M174.6,707.1 L162.6,726.2 L149.5,742.1" fill="none" stroke="#bdd473" stroke-width="1.6" stroke-linecap="round" stroke-linejoin="round" opacity="0.9"/>
<path d="M137.0,735.4 L113.5,740.3 L92.7,747.4" fill="none" stroke="#bdd473" stroke-width="1.6" stroke-linecap="round" stroke-linejoin="round" opacity="0.9"/>
<path d="M137.0,735.4 L127.9,753.5 L117.6,768.9" fill="none" stroke="#bdd473" stroke-width="1.6" stroke-linecap="round" stroke-linejoin="round" opacity="0.9"/></g>
<path d="M365.3,639.0 Q365.0,635.0 368.7,633.5 L386.3,626.5 Q390.0,625.0 393.4,622.9 L396.6,620.9 Q400.0,618.8 404.0,618.3 L426.0,615.5 Q430.0,615.0 433.8,616.1 L451.2,621.4 Q455.0,622.5 458.1,625.0 L464.4,630.0 Q467.5,632.5 465.7,636.1 L464.3,638.9 Q462.5,642.5 465.3,645.3 L469.7,649.7 Q472.5,652.5 471.9,656.5 L470.6,666.0 Q470.0,670.0 471.5,673.7 L478.5,691.3 Q480.0,695.0 478.0,698.4 L472.0,708.6 Q470.0,712.0 467.7,715.3 L464.8,719.2 Q462.5,722.5 459.4,725.0 L453.1,730.0 Q450.0,732.5 446.3,731.1 L433.7,726.4 Q430.0,725.0 427.2,722.2 L420.3,715.3 Q417.5,712.5 413.6,711.8 L406.4,710.7 Q402.5,710.0 400.7,706.4 L399.3,703.6 Q397.5,700.0 395.4,696.6 L387.1,683.4 Q385.0,680.0 381.5,678.0 L371.0,672.0 Q367.5,670.0 367.2,666.0 Z" fill="#86aa42" />
<clipPath id="lc10"><path d="M365.3,639.0 Q365.0,635.0 368.7,633.5 L386.3,626.5 Q390.0,625.0 393.4,622.9 L396.6,620.9 Q400.0,618.8 404.0,618.3 L426.0,615.5 Q430.0,615.0 433.8,616.1 L451.2,621.4 Q455.0,622.5 458.1,625.0 L464.4,630.0 Q467.5,632.5 465.7,636.1 L464.3,638.9 Q462.5,642.5 465.3,645.3 L469.7,649.7 Q472.5,652.5 471.9,656.5 L470.6,666.0 Q470.0,670.0 471.5,673.7 L478.5,691.3 Q480.0,695.0 478.0,698.4 L472.0,708.6 Q470.0,712.0 467.7,715.3 L464.8,719.2 Q462.5,722.5 459.4,725.0 L453.1,730.0 Q450.0,732.5 446.3,731.1 L433.7,726.4 Q430.0,725.0 427.2,722.2 L420.3,715.3 Q417.5,712.5 413.6,711.8 L406.4,710.7 Q402.5,710.0 400.7,706.4 L399.3,703.6 Q397.5,700.0 395.4,696.6 L387.1,683.4 Q385.0,680.0 381.5,678.0 L371.0,672.0 Q367.5,670.0 367.2,666.0 Z"/></clipPath><g clip-path="url(#lc10)"><path d="M385.0,628.0 C391.7,634.2 413.8,648.3 425.0,665.0 C436.2,681.7 447.5,717.5 452.0,728.0" fill="none" stroke="#bdd473" stroke-width="2.1" stroke-linecap="round" />
<path d="M398.5,640.5 L402.2,656.8 L407.9,670.7" fill="none" stroke="#bdd473" stroke-width="1.6" stroke-linecap="round" stroke-linejoin="round" opacity="0.9"/>
<path d="M398.5,640.5 L412.7,642.6 L424.9,646.5" fill="none" stroke="#bdd473" stroke-width="1.6" stroke-linecap="round" stroke-linejoin="round" opacity="0.9"/>
<path d="M419.6,660.0 L423.8,678.4 L430.3,694.2" fill="none" stroke="#bdd473" stroke-width="1.6" stroke-linecap="round" stroke-linejoin="round" opacity="0.9"/>
<path d="M419.6,660.0 L435.6,662.3 L449.5,666.8" fill="none" stroke="#bdd473" stroke-width="1.6" stroke-linecap="round" stroke-linejoin="round" opacity="0.9"/>
<path d="M433.4,684.7 L430.1,701.3 L429.6,716.6" fill="none" stroke="#bdd473" stroke-width="1.6" stroke-linecap="round" stroke-linejoin="round" opacity="0.9"/>
<path d="M433.4,684.7 L445.7,692.4 L455.5,701.2" fill="none" stroke="#bdd473" stroke-width="1.6" stroke-linecap="round" stroke-linejoin="round" opacity="0.9"/>
<path d="M444.7,711.0 L441.8,725.5 L441.4,738.8" fill="none" stroke="#bdd473" stroke-width="1.6" stroke-linecap="round" stroke-linejoin="round" opacity="0.9"/>
<path d="M444.7,711.0 L455.4,717.8 L463.9,725.4" fill="none" stroke="#bdd473" stroke-width="1.6" stroke-linecap="round" stroke-linejoin="round" opacity="0.9"/></g>
<path d="M473.1,635.9 Q467.5,632.5 474.5,632.5 L498.0,632.5 Q505.0,632.5 511.8,634.3 L535.7,640.7 Q542.5,642.5 548.1,646.7 L556.9,653.3 Q562.5,657.5 566.1,663.5 L571.4,672.0 Q575.0,678.0 568.3,675.8 L549.2,669.7 Q542.5,667.5 536.2,664.5 L511.3,653.0 Q505.0,650.0 498.5,647.4 L486.5,642.6 Q480.0,640.0 474.4,636.6 Z" fill="#7a9a38" />
<path d="M654.5,508.2 Q656.0,505.0 659.1,503.4 L671.9,496.6 Q675.0,495.0 678.5,494.8 L696.5,493.9 Q700.0,493.8 703.1,495.3 L719.4,503.4 Q722.5,505.0 725.9,505.9 L746.6,511.6 Q750.0,512.5 752.9,514.4 L762.1,520.6 Q765.0,522.5 762.8,524.8 L762.2,525.2 Q760.0,527.5 756.6,528.3 L743.4,531.7 Q740.0,532.5 740.0,536.0 L740.0,549.0 Q740.0,552.5 737.5,555.0 L727.5,565.0 Q725.0,567.5 721.5,567.1 L716.0,566.4 Q712.5,566.0 709.1,566.8 L698.4,569.2 Q695.0,570.0 691.9,571.6 L683.1,575.9 Q680.0,577.5 677.5,575.0 L665.0,562.5 Q662.5,560.0 660.6,557.1 L654.4,547.9 Q652.5,545.0 653.5,541.6 L656.5,530.9 Q657.5,527.5 655.4,524.7 L652.1,520.3 Q650.0,517.5 651.5,514.3 Z" fill="#8fb44a" />
<clipPath id="lc11"><path d="M654.5,508.2 Q656.0,505.0 659.1,503.4 L671.9,496.6 Q675.0,495.0 678.5,494.8 L696.5,493.9 Q700.0,493.8 703.1,495.3 L719.4,503.4 Q722.5,505.0 725.9,505.9 L746.6,511.6 Q750.0,512.5 752.9,514.4 L762.1,520.6 Q765.0,522.5 762.8,524.8 L762.2,525.2 Q760.0,527.5 756.6,528.3 L743.4,531.7 Q740.0,532.5 740.0,536.0 L740.0,549.0 Q740.0,552.5 737.5,555.0 L727.5,565.0 Q725.0,567.5 721.5,567.1 L716.0,566.4 Q712.5,566.0 709.1,566.8 L698.4,569.2 Q695.0,570.0 691.9,571.6 L683.1,575.9 Q680.0,577.5 677.5,575.0 L665.0,562.5 Q662.5,560.0 660.6,557.1 L654.4,547.9 Q652.5,545.0 653.5,541.6 L656.5,530.9 Q657.5,527.5 655.4,524.7 L652.1,520.3 Q650.0,517.5 651.5,514.3 Z"/></clipPath><g clip-path="url(#lc11)"><path d="M735.0,512.0 C730.0,515.0 713.8,520.0 705.0,530.0 C696.2,540.0 685.8,565.0 682.0,572.0" fill="none" stroke="#bdd473" stroke-width="2.1" stroke-linecap="round" />
<path d="M724.3,518.4 L711.5,516.6 L699.9,517.2" fill="none" stroke="#bdd473" stroke-width="1.6" stroke-linecap="round" stroke-linejoin="round" opacity="0.9"/>
<path d="M724.3,518.4 L719.5,531.7 L712.9,542.6" fill="none" stroke="#bdd473" stroke-width="1.6" stroke-linecap="round" stroke-linejoin="round" opacity="0.9"/>
<path d="M701.9,535.7 L688.9,541.0 L678.3,547.9" fill="none" stroke="#bdd473" stroke-width="1.6" stroke-linecap="round" stroke-linejoin="round" opacity="0.9"/>
<path d="M701.9,535.7 L704.6,550.8 L704.5,564.5" fill="none" stroke="#bdd473" stroke-width="1.6" stroke-linecap="round" stroke-linejoin="round" opacity="0.9"/>
<path d="M688.0,561.1 L677.3,565.5 L668.7,571.1" fill="none" stroke="#bdd473" stroke-width="1.6" stroke-linecap="round" stroke-linejoin="round" opacity="0.9"/>
<path d="M688.0,561.1 L690.2,573.4 L690.1,584.7" fill="none" stroke="#bdd473" stroke-width="1.6" stroke-linecap="round" stroke-linejoin="round" opacity="0.9"/></g>
<path d="M738.7,736.0 Q733.8,731.0 740.3,728.5 L756.0,722.5 Q762.5,720.0 769.4,718.8 L793.1,714.9 Q800.0,713.8 807.0,713.8 L843.0,713.8 Q850.0,713.8 856.8,715.4 L868.2,718.3 Q875.0,720.0 880.7,724.1 L886.8,728.4 Q892.5,732.5 895.9,738.6 L896.6,739.9 Q900.0,746.0 893.0,745.7 L887.0,745.3 Q880.0,745.0 874.4,748.4 L873.1,749.1 Q867.5,752.5 872.7,757.2 L884.8,767.8 Q890.0,772.5 891.9,779.2 L893.1,783.3 Q895.0,790.0 893.3,796.8 L891.7,803.2 Q890.0,810.0 886.1,815.8 L878.9,826.7 Q875.0,832.5 869.4,832.5 L868.1,832.5 Q862.5,832.5 857.2,827.9 L850.3,822.1 Q845.0,817.5 841.6,811.4 L835.9,801.1 Q832.5,795.0 826.4,798.5 L821.1,801.5 Q815.0,805.0 809.2,801.1 L805.8,798.9 Q800.0,795.0 794.8,790.3 L780.2,777.2 Q775.0,772.5 770.1,767.6 L754.9,752.4 Q750.0,747.5 745.1,742.5 Z" fill="#8fb44a" />
<path d="M740.0,731.0 L800.0,735.0 L880.0,738.0" fill="none" stroke="#bdd473" stroke-width="1.6" stroke-linecap="round" stroke-linejoin="round" />
<path d="M790.0,735.0 L795.0,770.0 L810.0,795.0" fill="none" stroke="#bdd473" stroke-width="1.4" stroke-linecap="round" stroke-linejoin="round" />
<path d="M825.0,737.0 L855.0,770.0 L872.0,825.0" fill="none" stroke="#bdd473" stroke-width="1.4" stroke-linecap="round" stroke-linejoin="round" />
<path d="M840.0,752.0 L870.0,770.0 L888.0,790.0" fill="none" stroke="#bdd473" stroke-width="1.2" stroke-linecap="round" stroke-linejoin="round" />
<path d="M735.6,540.5 Q733.8,537.5 736.7,535.7 L747.0,529.3 Q750.0,527.5 753.5,527.5 L771.5,527.5 Q775.0,527.5 778.4,526.9 L791.6,524.4 Q795.0,523.8 798.3,524.8 L819.2,531.4 Q822.5,532.5 825.2,534.7 L847.3,552.8 Q850.0,555.0 851.9,557.9 L858.1,567.1 Q860.0,570.0 862.7,572.2 L872.3,580.3 Q875.0,582.5 873.4,585.6 L871.6,589.4 Q870.0,592.5 872.2,595.2 L887.8,614.8 Q890.0,617.5 886.9,619.1 L883.1,620.9 Q880.0,622.5 881.1,625.8 L886.4,641.7 Q887.5,645.0 884.6,646.9 L882.9,648.1 Q880.0,650.0 881.4,653.2 L887.3,666.8 Q888.8,670.0 885.6,671.4 L880.7,673.6 Q877.5,675.0 876.7,678.4 L873.3,691.6 Q872.5,695.0 869.5,696.8 L863.0,700.7 Q860.0,702.5 857.4,704.8 L840.1,720.2 Q837.5,722.5 834.9,724.8 L817.6,740.2 Q815.0,742.5 811.6,743.4 L809.4,744.1 Q806.0,745.0 806.6,741.6 L811.9,713.4 Q812.5,710.0 812.5,706.5 L812.5,698.5 Q812.5,695.0 811.7,691.6 L808.3,678.4 Q807.5,675.0 804.1,674.3 L798.4,673.2 Q795.0,672.5 796.2,669.2 L801.3,655.8 Q802.5,652.5 802.0,649.0 L800.5,638.5 Q800.0,635.0 796.6,635.8 L788.4,637.9 Q785.0,638.8 782.3,636.5 L780.2,634.7 Q777.5,632.5 777.3,629.0 L775.2,591.0 Q775.0,587.5 771.6,588.2 L765.9,589.3 Q762.5,590.0 760.0,587.5 L757.5,585.0 Q755.0,582.5 753.9,579.2 L748.6,563.3 Q747.5,560.0 745.7,557.0 Z" fill="#6a892d" />
<path d="M775.0,531.0 Q775.0,527.5 778.4,526.9 L791.6,524.4 Q795.0,523.8 798.3,524.8 L819.2,531.4 Q822.5,532.5 825.2,534.7 L847.3,552.8 Q850.0,555.0 851.9,557.9 L858.1,567.1 Q860.0,570.0 862.7,572.2 L872.3,580.3 Q875.0,582.5 873.4,585.6 L871.6,589.4 Q870.0,592.5 872.2,595.2 L887.8,614.8 Q890.0,617.5 886.9,619.1 L883.1,620.9 Q880.0,622.5 881.1,625.8 L886.4,641.7 Q887.5,645.0 884.6,646.9 L882.9,648.1 Q880.0,650.0 881.4,653.2 L887.3,666.8 Q888.8,670.0 885.6,671.4 L880.7,673.6 Q877.5,675.0 876.7,678.4 L873.3,691.6 Q872.5,695.0 869.5,696.8 L863.0,700.7 Q860.0,702.5 857.4,704.8 L840.1,720.2 Q837.5,722.5 834.9,724.8 L817.6,740.2 Q815.0,742.5 813.6,742.3 L813.4,742.2 Q812.0,742.0 814.1,739.2 L840.9,702.8 Q843.0,700.0 843.1,696.5 L844.9,648.5 Q845.0,645.0 843.6,641.8 L821.4,593.2 Q820.0,590.0 817.7,587.3 L777.3,539.7 Q775.0,537.0 775.0,533.5 Z" fill="#7a9a37" />
<clipPath id="lc12"><path d="M735.6,540.5 Q733.8,537.5 736.7,535.7 L747.0,529.3 Q750.0,527.5 753.5,527.5 L771.5,527.5 Q775.0,527.5 778.4,526.9 L791.6,524.4 Q795.0,523.8 798.3,524.8 L819.2,531.4 Q822.5,532.5 825.2,534.7 L847.3,552.8 Q850.0,555.0 851.9,557.9 L858.1,567.1 Q860.0,570.0 862.7,572.2 L872.3,580.3 Q875.0,582.5 873.4,585.6 L871.6,589.4 Q870.0,592.5 872.2,595.2 L887.8,614.8 Q890.0,617.5 886.9,619.1 L883.1,620.9 Q880.0,622.5 881.1,625.8 L886.4,641.7 Q887.5,645.0 884.6,646.9 L882.9,648.1 Q880.0,650.0 881.4,653.2 L887.3,666.8 Q888.8,670.0 885.6,671.4 L880.7,673.6 Q877.5,675.0 876.7,678.4 L873.3,691.6 Q872.5,695.0 869.5,696.8 L863.0,700.7 Q860.0,702.5 857.4,704.8 L840.1,720.2 Q837.5,722.5 834.9,724.8 L817.6,740.2 Q815.0,742.5 811.6,743.4 L809.4,744.1 Q806.0,745.0 806.6,741.6 L811.9,713.4 Q812.5,710.0 812.5,706.5 L812.5,698.5 Q812.5,695.0 811.7,691.6 L808.3,678.4 Q807.5,675.0 804.1,674.3 L798.4,673.2 Q795.0,672.5 796.2,669.2 L801.3,655.8 Q802.5,652.5 802.0,649.0 L800.5,638.5 Q800.0,635.0 796.6,635.8 L788.4,637.9 Q785.0,638.8 782.3,636.5 L780.2,634.7 Q777.5,632.5 777.3,629.0 L775.2,591.0 Q775.0,587.5 771.6,588.2 L765.9,589.3 Q762.5,590.0 760.0,587.5 L757.5,585.0 Q755.0,582.5 753.9,579.2 L748.6,563.3 Q747.5,560.0 745.7,557.0 Z"/></clipPath><g clip-path="url(#lc12)"><path d="M770.0,533.0 C778.3,542.5 807.5,571.3 820.0,590.0 C832.5,608.7 841.2,626.7 845.0,645.0 C848.8,663.3 848.5,683.8 843.0,700.0 C837.5,716.2 817.2,735.0 812.0,742.0" fill="none" stroke="#bdd473" stroke-width="2.1" stroke-linecap="round" />
<path d="M794.1,560.5 L811.5,564.3 L826.2,570.4" fill="none" stroke="#bdd473" stroke-width="1.6" stroke-linecap="round" stroke-linejoin="round" opacity="0.9"/>
<path d="M794.1,560.5 L795.7,579.4 L800.2,595.8" fill="none" stroke="#bdd473" stroke-width="1.6" stroke-linecap="round" stroke-linejoin="round" opacity="0.9"/>
<path d="M812.8,581.8 L831.3,585.9 L847.1,592.5" fill="none" stroke="#bdd473" stroke-width="1.6" stroke-linecap="round" stroke-linejoin="round" opacity="0.9"/>
<path d="M812.8,581.8 L814.6,602.0 L819.3,619.5" fill="none" stroke="#bdd473" stroke-width="1.6" stroke-linecap="round" stroke-linejoin="round" opacity="0.9"/>
<path d="M827.2,605.9 L844.8,615.8 L858.8,627.3" fill="none" stroke="#bdd473" stroke-width="1.6" stroke-linecap="round" stroke-linejoin="round" opacity="0.9"/>
<path d="M827.2,605.9 L822.8,627.0 L822.3,646.3" fill="none" stroke="#bdd473" stroke-width="1.6" stroke-linecap="round" stroke-linejoin="round" opacity="0.9"/>
<path d="M839.0,631.8 L855.9,641.2 L869.3,652.3" fill="none" stroke="#bdd473" stroke-width="1.6" stroke-linecap="round" stroke-linejoin="round" opacity="0.9"/>
<path d="M839.0,631.8 L834.8,652.0 L834.2,670.5" fill="none" stroke="#bdd473" stroke-width="1.6" stroke-linecap="round" stroke-linejoin="round" opacity="0.9"/>
<path d="M844.5,658.9 L854.7,673.9 L861.3,688.8" fill="none" stroke="#bdd473" stroke-width="1.6" stroke-linecap="round" stroke-linejoin="round" opacity="0.9"/>
<path d="M844.5,658.9 L832.5,674.0 L824.3,689.4" fill="none" stroke="#bdd473" stroke-width="1.6" stroke-linecap="round" stroke-linejoin="round" opacity="0.9"/>
<path d="M843.5,687.3 L853.0,701.3 L859.2,715.2" fill="none" stroke="#bdd473" stroke-width="1.6" stroke-linecap="round" stroke-linejoin="round" opacity="0.9"/>
<path d="M843.5,687.3 L832.2,701.4 L824.6,715.8" fill="none" stroke="#bdd473" stroke-width="1.6" stroke-linecap="round" stroke-linejoin="round" opacity="0.9"/>
<path d="M833.7,712.6 L833.7,728.4 L831.1,742.3" fill="none" stroke="#bdd473" stroke-width="1.6" stroke-linecap="round" stroke-linejoin="round" opacity="0.9"/>
<path d="M833.7,712.6 L817.6,717.6 L804.2,724.6" fill="none" stroke="#bdd473" stroke-width="1.6" stroke-linecap="round" stroke-linejoin="round" opacity="0.9"/></g>
<path d="M644.2,736.5 Q643.8,732.5 645.5,728.9 L648.2,723.6 Q650.0,720.0 654.0,719.5 L681.0,716.5 Q685.0,716.0 688.9,717.0 L696.1,719.0 Q700.0,720.0 704.0,720.0 L716.0,720.0 Q720.0,720.0 722.8,722.8 L729.7,729.7 Q732.5,732.5 732.7,736.5 L733.5,751.0 Q733.8,755.0 729.9,756.1 L728.8,756.4 Q725.0,757.5 722.8,760.8 L717.2,769.2 Q715.0,772.5 711.4,774.3 L708.6,775.7 Q705.0,777.5 701.9,780.1 L693.1,787.4 Q690.0,790.0 686.6,791.7 L685.9,792.1 Q682.5,793.8 680.1,790.5 L674.9,783.2 Q672.5,780.0 668.5,779.4 L659.0,778.1 Q655.0,777.5 655.0,773.5 L655.0,759.0 Q655.0,755.0 651.1,753.9 L649.9,753.6 Q646.0,752.5 645.6,748.5 Z" fill="#7a9a38" />
<clipPath id="lc13"><path d="M644.2,736.5 Q643.8,732.5 645.5,728.9 L648.2,723.6 Q650.0,720.0 654.0,719.5 L681.0,716.5 Q685.0,716.0 688.9,717.0 L696.1,719.0 Q700.0,720.0 704.0,720.0 L716.0,720.0 Q720.0,720.0 722.8,722.8 L729.7,729.7 Q732.5,732.5 732.7,736.5 L733.5,751.0 Q733.8,755.0 729.9,756.1 L728.8,756.4 Q725.0,757.5 722.8,760.8 L717.2,769.2 Q715.0,772.5 711.4,774.3 L708.6,775.7 Q705.0,777.5 701.9,780.1 L693.1,787.4 Q690.0,790.0 686.6,791.7 L685.9,792.1 Q682.5,793.8 680.1,790.5 L674.9,783.2 Q672.5,780.0 668.5,779.4 L659.0,778.1 Q655.0,777.5 655.0,773.5 L655.0,759.0 Q655.0,755.0 651.1,753.9 L649.9,753.6 Q646.0,752.5 645.6,748.5 Z"/></clipPath><g clip-path="url(#lc13)"><path d="M700.0,722.0 C698.7,728.3 694.8,748.7 692.0,760.0 C689.2,771.3 684.5,785.0 683.0,790.0" fill="none" stroke="#bdd473" stroke-width="2.1" stroke-linecap="round" />
<path d="M697.8,732.3 L705.4,745.6 L709.6,758.5" fill="none" stroke="#bdd473" stroke-width="1.6" stroke-linecap="round" stroke-linejoin="round" opacity="0.9"/>
<path d="M697.8,732.3 L687.4,740.0 L679.8,748.5" fill="none" stroke="#bdd473" stroke-width="1.6" stroke-linecap="round" stroke-linejoin="round" opacity="0.9"/>
<path d="M692.8,756.3 L701.0,770.7 L705.5,784.7" fill="none" stroke="#bdd473" stroke-width="1.6" stroke-linecap="round" stroke-linejoin="round" opacity="0.9"/>
<path d="M692.8,756.3 L681.5,764.7 L673.2,774.0" fill="none" stroke="#bdd473" stroke-width="1.6" stroke-linecap="round" stroke-linejoin="round" opacity="0.9"/>
<path d="M686.0,779.9 L691.7,792.2 L694.5,803.9" fill="none" stroke="#bdd473" stroke-width="1.6" stroke-linecap="round" stroke-linejoin="round" opacity="0.9"/>
<path d="M686.0,779.9 L676.3,785.9 L668.9,792.9" fill="none" stroke="#bdd473" stroke-width="1.6" stroke-linecap="round" stroke-linejoin="round" opacity="0.9"/></g>
<path d="M306.6,762.2 Q303.8,760.0 310.4,757.9 L313.3,757.1 Q320.0,755.0 321.0,748.1 L321.5,744.4 Q322.5,737.5 329.3,735.8 L335.7,734.2 Q342.5,732.5 348.1,733.6 L349.4,733.9 Q355.0,735.0 357.2,740.6 L357.8,741.9 Q360.0,747.5 365.6,746.8 L366.9,746.7 Q372.5,746.0 373.6,748.9 L373.9,749.6 Q375.0,752.5 371.6,758.1 L370.9,759.4 Q367.5,765.0 361.9,768.4 L360.6,769.1 Q355.0,772.5 348.7,775.6 L346.3,776.9 Q340.0,780.0 333.7,776.9 L331.3,775.6 Q325.0,772.5 318.7,769.4 L316.3,768.1 Q310.0,765.0 307.2,762.8 Z" fill="#7a9a38" />
<clipPath id="lc14"><path d="M306.6,762.2 Q303.8,760.0 310.4,757.9 L313.3,757.1 Q320.0,755.0 321.0,748.1 L321.5,744.4 Q322.5,737.5 329.3,735.8 L335.7,734.2 Q342.5,732.5 348.1,733.6 L349.4,733.9 Q355.0,735.0 357.2,740.6 L357.8,741.9 Q360.0,747.5 365.6,746.8 L366.9,746.7 Q372.5,746.0 373.6,748.9 L373.9,749.6 Q375.0,752.5 371.6,758.1 L370.9,759.4 Q367.5,765.0 361.9,768.4 L360.6,769.1 Q355.0,772.5 348.7,775.6 L346.3,776.9 Q340.0,780.0 333.7,776.9 L331.3,775.6 Q325.0,772.5 318.7,769.4 L316.3,768.1 Q310.0,765.0 307.2,762.8 Z"/></clipPath><g clip-path="url(#lc14)"><path d="M340.0,778.0 C340.0,774.7 340.3,764.7 340.0,758.0 C339.7,751.3 338.3,741.3 338.0,738.0" fill="none" stroke="#bdd473" stroke-width="2.1" stroke-linecap="round" />
<path d="M340.0,772.0 L334.8,765.6 L331.3,759.0" fill="none" stroke="#bdd473" stroke-width="1.6" stroke-linecap="round" stroke-linejoin="round" opacity="0.9"/>
<path d="M340.0,772.0 L345.2,765.6 L348.7,759.0" fill="none" stroke="#bdd473" stroke-width="1.6" stroke-linecap="round" stroke-linejoin="round" opacity="0.9"/>
<path d="M340.0,758.0 L333.7,751.6 L329.2,744.9" fill="none" stroke="#bdd473" stroke-width="1.6" stroke-linecap="round" stroke-linejoin="round" opacity="0.9"/>
<path d="M340.0,758.0 L344.9,750.5 L348.0,743.0" fill="none" stroke="#bdd473" stroke-width="1.6" stroke-linecap="round" stroke-linejoin="round" opacity="0.9"/>
<path d="M338.6,744.0 L333.5,738.8 L329.8,733.3" fill="none" stroke="#bdd473" stroke-width="1.6" stroke-linecap="round" stroke-linejoin="round" opacity="0.9"/>
<path d="M338.6,744.0 L342.6,737.9 L345.1,731.8" fill="none" stroke="#bdd473" stroke-width="1.6" stroke-linecap="round" stroke-linejoin="round" opacity="0.9"/></g>
<path d="M273.8,797.8 Q268.8,796.0 271.6,791.0 L272.2,790.0 Q275.0,785.0 280.5,780.6 L282.0,779.4 Q287.5,775.0 294.5,775.4 L298.0,775.6 Q305.0,776.0 311.8,777.8 L323.2,780.7 Q330.0,782.5 337.0,783.2 L360.5,785.3 Q367.5,786.0 362.0,790.4 L360.5,791.6 Q355.0,796.0 348.8,799.2 L338.7,804.3 Q332.5,807.5 329.1,806.4 L328.4,806.1 Q325.0,805.0 318.4,807.2 L316.6,807.8 Q310.0,810.0 304.1,813.7 L298.4,817.3 Q292.5,821.0 289.1,820.5 L288.4,820.5 Q285.0,820.0 283.3,813.2 L281.7,806.8 Q280.0,800.0 274.9,798.2 Z" fill="#8fb44a" />
<clipPath id="lc15"><path d="M273.8,797.8 Q268.8,796.0 271.6,791.0 L272.2,790.0 Q275.0,785.0 280.5,780.6 L282.0,779.4 Q287.5,775.0 294.5,775.4 L298.0,775.6 Q305.0,776.0 311.8,777.8 L323.2,780.7 Q330.0,782.5 337.0,783.2 L360.5,785.3 Q367.5,786.0 362.0,790.4 L360.5,791.6 Q355.0,796.0 348.8,799.2 L338.7,804.3 Q332.5,807.5 329.1,806.4 L328.4,806.1 Q325.0,805.0 318.4,807.2 L316.6,807.8 Q310.0,810.0 304.1,813.7 L298.4,817.3 Q292.5,821.0 289.1,820.5 L288.4,820.5 Q285.0,820.0 283.3,813.2 L281.7,806.8 Q280.0,800.0 274.9,798.2 Z"/></clipPath><g clip-path="url(#lc15)"><path d="M350.0,788.0 C344.2,788.7 325.0,787.5 315.0,792.0 C305.0,796.5 294.2,811.2 290.0,815.0" fill="none" stroke="#bdd473" stroke-width="2.1" stroke-linecap="round" />
<path d="M339.7,789.2 L333.4,785.8 L327.3,783.8" fill="none" stroke="#bdd473" stroke-width="1.6" stroke-linecap="round" stroke-linejoin="round" opacity="0.9"/>
<path d="M339.7,789.2 L334.3,793.9 L328.8,797.2" fill="none" stroke="#bdd473" stroke-width="1.6" stroke-linecap="round" stroke-linejoin="round" opacity="0.9"/>
<path d="M315.6,791.9 L308.8,788.3 L302.2,786.1" fill="none" stroke="#bdd473" stroke-width="1.6" stroke-linecap="round" stroke-linejoin="round" opacity="0.9"/>
<path d="M315.6,791.9 L309.8,797.0 L303.8,800.7" fill="none" stroke="#bdd473" stroke-width="1.6" stroke-linecap="round" stroke-linejoin="round" opacity="0.9"/>
<path d="M297.6,808.0 L291.4,808.9 L286.0,810.6" fill="none" stroke="#bdd473" stroke-width="1.6" stroke-linecap="round" stroke-linejoin="round" opacity="0.9"/>
<path d="M297.6,808.0 L296.2,814.1 L294.0,819.4" fill="none" stroke="#bdd473" stroke-width="1.6" stroke-linecap="round" stroke-linejoin="round" opacity="0.9"/></g>
</g>

<!-- roots -->
<g id="roots">
<defs><g id="rootshape">
<path d="M512,1068 L536,1068 C537,1082 543,1092 552,1100 L550,1122 L524,1146 L498,1122 L496,1100 C505,1092 511,1082 512,1068Z"/>
<path d="M506.9,1094.0 L499.0,1095.4 L487.9,1097.4 L474.4,1099.6 L459.6,1101.7 L442.8,1103.6 L423.9,1105.6 L404.1,1107.6 L384.7,1109.5 L366.0,1111.4 L347.3,1113.2 L328.6,1114.9 L309.9,1116.3 L290.6,1117.4 L270.9,1118.2 L251.9,1118.9 L235.0,1119.5 L220.3,1119.9 L207.2,1120.2 L195.5,1120.5 L184.9,1121.3 L175.6,1122.5 L167.7,1124.0 L160.9,1125.8 L154.7,1127.9 L149.2,1130.4 L144.6,1133.2 L140.6,1136.3 L137.0,1139.5 L133.7,1143.2 L130.9,1147.3 L128.7,1150.9 L127.1,1153.5 L127.9,1154.0 L129.6,1151.5 L131.9,1147.9 L134.7,1144.0 L138.0,1140.5 L141.5,1137.5 L145.4,1134.6 L150.0,1131.9 L155.3,1129.6 L161.4,1127.7 L168.2,1126.0 L176.0,1124.7 L185.1,1123.7 L195.6,1123.2 L207.2,1123.1 L220.3,1123.1 L235.0,1123.0 L252.0,1122.7 L271.0,1122.4 L290.8,1121.9 L310.1,1121.2 L328.9,1120.0 L347.7,1118.6 L366.5,1117.1 L385.3,1115.5 L404.7,1113.8 L424.5,1112.0 L443.5,1110.2 L460.4,1108.3 L475.4,1106.3 L489.0,1104.2 L500.2,1102.3 L508.1,1101.0Z"/>
<path d="M321.9,1118.9 L318.7,1120.8 L314.1,1123.6 L309.1,1126.6 L304.6,1129.2 L300.8,1131.4 L297.3,1133.4 L293.7,1135.3 L289.8,1136.9 L284.8,1138.2 L279.0,1139.3 L273.6,1140.2 L269.9,1140.9 L270.1,1141.6 L273.8,1141.1 L279.1,1140.4 L285.0,1139.4 L290.2,1138.1 L294.3,1136.6 L298.0,1134.8 L301.6,1132.9 L305.4,1130.8 L310.1,1128.3 L315.2,1125.5 L319.9,1122.9 L323.1,1121.1Z"/>
<path d="M508.2,1103.4 L502.0,1106.2 L493.4,1110.1 L483.0,1114.4 L471.3,1118.3 L458.0,1121.6 L442.8,1124.9 L426.4,1128.0 L409.4,1131.0 L391.6,1133.8 L372.8,1136.5 L353.6,1139.0 L334.6,1141.5 L315.3,1144.0 L295.6,1146.3 L276.6,1148.6 L259.6,1151.0 L245.2,1153.2 L232.5,1155.4 L220.9,1157.7 L209.5,1160.3 L198.1,1163.1 L187.1,1166.2 L176.6,1169.6 L166.8,1173.3 L157.9,1177.5 L149.7,1182.1 L142.0,1186.7 L134.3,1191.3 L126.5,1195.9 L118.7,1200.5 L111.3,1205.0 L104.5,1209.2 L98.1,1213.3 L92.1,1217.4 L87.0,1220.8 L83.4,1223.2 L84.1,1224.3 L87.7,1221.9 L92.9,1218.6 L99.0,1214.7 L105.5,1210.8 L112.4,1206.8 L119.9,1202.5 L127.7,1198.0 L135.7,1193.7 L143.5,1189.3 L151.2,1184.8 L159.4,1180.5 L168.2,1176.7 L177.9,1173.3 L188.2,1170.2 L199.1,1167.3 L210.5,1164.7 L221.9,1162.4 L233.4,1160.4 L246.0,1158.5 L260.4,1156.5 L277.3,1154.6 L296.3,1152.6 L316.0,1150.6 L335.4,1148.5 L354.5,1146.3 L373.8,1144.0 L392.7,1141.6 L410.6,1139.0 L427.8,1136.2 L444.4,1133.2 L459.9,1130.1 L473.7,1126.7 L486.0,1122.7 L496.9,1118.3 L505.7,1114.3 L511.8,1111.6Z"/>
<path d="M165.8,1176.0 L165.5,1178.4 L165.3,1181.6 L164.7,1185.4 L163.6,1189.5 L161.9,1194.0 L159.9,1199.0 L157.3,1204.2 L154.1,1209.3 L149.9,1214.4 L145.0,1219.6 L139.7,1224.7 L134.5,1229.4 L129.1,1233.9 L123.4,1238.3 L118.3,1242.0 L114.8,1244.7 L115.2,1245.3 L118.9,1242.8 L124.1,1239.2 L129.9,1235.0 L135.5,1230.6 L140.8,1226.0 L146.3,1221.0 L151.5,1215.8 L155.9,1210.7 L159.5,1205.5 L162.3,1200.2 L164.6,1195.1 L166.4,1190.5 L167.7,1186.2 L168.5,1182.1 L168.9,1178.8 L169.2,1176.5Z"/>
<path d="M329.1,1146.0 L324.6,1148.6 L318.0,1152.4 L310.7,1156.8 L304.2,1161.4 L298.6,1166.2 L293.3,1171.5 L288.5,1176.8 L284.2,1181.8 L280.6,1186.6 L277.6,1191.3 L274.9,1195.6 L271.9,1199.4 L268.6,1202.9 L265.3,1205.9 L261.7,1208.5 L257.3,1210.6 L251.3,1212.2 L244.0,1213.3 L237.2,1214.1 L232.5,1214.6 L232.5,1215.4 L237.3,1214.9 L244.1,1214.3 L251.5,1213.4 L257.7,1211.9 L262.4,1209.7 L266.2,1207.1 L269.7,1204.0 L273.1,1200.6 L276.4,1196.6 L279.2,1192.3 L282.2,1187.8 L285.8,1183.2 L290.2,1178.3 L295.1,1173.2 L300.3,1168.2 L305.8,1163.6 L312.3,1159.3 L319.5,1155.1 L326.2,1151.5 L330.9,1149.0Z"/>
<path d="M510.0,1113.8 L505.2,1117.0 L498.5,1121.6 L490.7,1126.6 L482.9,1131.1 L475.1,1134.9 L466.6,1138.6 L457.7,1142.3 L448.5,1146.0 L439.0,1149.7 L429.2,1153.3 L419.0,1157.1 L408.5,1161.3 L397.5,1166.1 L386.1,1171.2 L374.6,1176.5 L363.5,1181.7 L352.9,1186.7 L342.6,1191.7 L332.2,1196.8 L321.2,1202.0 L309.0,1207.6 L296.0,1213.4 L283.1,1219.2 L271.3,1225.1 L260.9,1230.7 L251.5,1236.1 L242.6,1241.9 L233.7,1248.2 L224.5,1255.4 L215.4,1263.2 L206.7,1271.1 L198.8,1278.7 L191.7,1285.9 L185.1,1292.9 L179.2,1299.8 L173.9,1306.7 L169.4,1313.9 L165.4,1321.1 L162.1,1328.0 L159.2,1334.6 L156.7,1341.2 L154.6,1347.8 L153.0,1353.4 L151.9,1357.3 L153.1,1357.7 L154.3,1353.8 L156.0,1348.2 L158.2,1341.8 L160.8,1335.4 L163.9,1328.9 L167.4,1322.1 L171.4,1315.1 L176.1,1308.3 L181.4,1301.6 L187.4,1294.9 L194.0,1288.2 L201.2,1281.3 L209.3,1273.9 L218.0,1266.2 L227.2,1258.7 L236.3,1251.8 L245.2,1245.8 L254.1,1240.4 L263.4,1235.2 L273.7,1229.9 L285.5,1224.4 L298.4,1218.8 L311.5,1213.3 L323.8,1208.0 L335.0,1202.9 L345.5,1198.0 L355.9,1193.2 L366.5,1188.3 L377.7,1183.3 L389.2,1178.2 L400.6,1173.2 L411.5,1168.7 L421.9,1164.7 L432.0,1161.1 L441.9,1157.6 L451.5,1154.0 L460.9,1150.3 L470.0,1146.7 L478.7,1142.9 L487.1,1138.9 L495.4,1134.2 L503.4,1129.1 L510.3,1124.4 L515.0,1121.2Z"/>
<path d="M482.3,1133.0 L478.6,1133.5 L473.4,1134.2 L466.9,1135.1 L459.7,1136.2 L450.8,1137.7 L440.4,1139.3 L430.1,1141.3 L422.0,1143.6 L416.5,1146.4 L412.7,1149.7 L410.3,1153.3 L408.7,1157.1 L408.0,1161.3 L408.3,1165.7 L409.5,1170.3 L411.4,1175.5 L414.7,1181.5 L419.1,1188.2 L423.5,1194.8 L426.7,1200.4 L428.5,1204.7 L429.6,1208.1 L429.9,1211.3 L429.2,1214.7 L427.4,1219.0 L424.4,1223.6 L420.8,1228.1 L417.1,1232.0 L413.1,1235.1 L408.6,1237.8 L404.1,1240.0 L399.8,1242.0 L395.6,1243.8 L391.3,1245.2 L387.5,1246.3 L384.9,1247.1 L385.1,1247.9 L387.8,1247.1 L391.5,1246.1 L395.9,1244.7 L400.2,1243.0 L404.6,1241.0 L409.2,1238.8 L413.8,1236.2 L417.9,1233.0 L421.9,1229.1 L425.6,1224.5 L428.7,1219.8 L430.8,1215.3 L431.6,1211.4 L431.3,1207.8 L430.2,1204.1 L428.3,1199.6 L425.2,1193.8 L420.9,1187.1 L416.6,1180.4 L413.6,1174.5 L411.8,1169.6 L410.8,1165.3 L410.5,1161.4 L411.3,1157.9 L412.7,1154.5 L414.8,1151.5 L418.0,1148.8 L423.0,1146.4 L430.8,1144.3 L440.9,1142.5 L451.3,1141.0 L460.3,1139.8 L467.5,1138.7 L473.8,1137.9 L479.0,1137.4 L482.7,1137.0Z"/>
<path d="M361.3,1186.4 L361.5,1190.8 L361.8,1197.1 L361.9,1203.8 L361.3,1209.6 L360.2,1214.0 L358.5,1217.9 L356.2,1221.8 L353.1,1226.1 L349.2,1230.9 L344.4,1236.0 L339.1,1241.1 L333.6,1245.8 L328.1,1250.0 L322.5,1253.8 L316.3,1257.4 L309.3,1260.6 L300.9,1263.5 L291.3,1266.0 L281.4,1268.4 L272.1,1270.9 L263.3,1273.3 L254.7,1275.6 L246.6,1278.1 L239.4,1281.3 L233.2,1285.2 L227.8,1289.6 L223.2,1294.3 L219.1,1299.4 L215.7,1304.5 L213.0,1309.8 L210.9,1315.6 L209.2,1322.3 L208.1,1331.1 L207.5,1341.4 L207.3,1350.9 L207.1,1357.5 L207.9,1357.5 L208.3,1350.9 L208.7,1341.4 L209.5,1331.3 L210.8,1322.7 L212.6,1316.1 L214.8,1310.5 L217.5,1305.5 L220.9,1300.6 L224.9,1295.9 L229.4,1291.4 L234.6,1287.3 L240.6,1283.7 L247.6,1280.8 L255.6,1278.5 L264.1,1276.4 L272.9,1274.1 L282.2,1271.8 L292.2,1269.6 L301.9,1267.2 L310.7,1264.4 L318.2,1261.0 L324.7,1257.4 L330.6,1253.5 L336.4,1249.2 L342.1,1244.5 L347.6,1239.3 L352.6,1234.0 L356.9,1228.9 L360.2,1224.4 L362.8,1220.1 L364.7,1215.6 L366.2,1210.4 L366.8,1204.0 L366.8,1197.0 L366.4,1190.5 L366.2,1186.1Z"/>
<path d="M362.7,1215.7 L365.1,1218.9 L368.6,1223.3 L372.0,1228.2 L374.0,1232.8 L374.5,1236.9 L374.1,1241.1 L373.0,1245.4 L371.7,1249.7 L369.9,1254.0 L367.6,1258.4 L365.1,1262.8 L363.1,1267.3 L361.7,1271.9 L360.6,1276.6 L359.9,1281.1 L359.5,1285.0 L359.8,1288.3 L360.6,1291.2 L361.5,1293.5 L362.1,1295.1 L362.9,1294.9 L362.3,1293.2 L361.4,1291.0 L360.7,1288.2 L360.5,1285.0 L360.9,1281.2 L361.7,1276.8 L362.9,1272.2 L364.4,1267.7 L366.4,1263.4 L368.9,1259.1 L371.3,1254.7 L373.3,1250.3 L374.7,1245.9 L375.9,1241.4 L376.5,1236.9 L376.0,1232.2 L373.8,1227.2 L370.5,1222.0 L367.0,1217.4 L364.8,1214.3Z"/>
<path d="M508.6,1128.9 L505.1,1133.6 L500.1,1140.4 L494.5,1147.7 L489.2,1154.3 L484.1,1160.0 L478.8,1165.7 L473.8,1170.7 L469.6,1174.5 L466.3,1177.0 L463.6,1178.3 L461.4,1179.0 L459.9,1179.6 L460.1,1180.4 L461.7,1179.9 L463.9,1179.2 L466.8,1177.9 L470.4,1175.5 L474.8,1171.7 L480.0,1166.8 L485.5,1161.4 L490.8,1155.7 L496.4,1149.3 L502.4,1142.1 L507.7,1135.6 L511.4,1131.1Z"/>
<path d="M521.3,1177.9 L520.6,1178.2 L519.7,1178.6 L517.9,1179.5 L514.4,1181.0 L508.4,1183.6 L500.6,1187.1 L492.2,1190.7 L484.6,1194.0 L477.8,1196.7 L471.1,1199.3 L464.9,1201.8 L459.7,1204.4 L455.4,1207.0 L451.9,1209.7 L449.2,1212.3 L447.1,1214.7 L445.9,1217.1 L445.7,1219.4 L445.8,1221.2 L445.9,1222.5 L446.6,1222.5 L446.6,1221.2 L446.5,1219.4 L446.8,1217.4 L447.9,1215.3 L449.9,1213.1 L452.6,1210.6 L456.1,1208.1 L460.3,1205.6 L465.6,1203.3 L471.7,1201.0 L478.5,1198.6 L485.4,1196.0 L493.2,1193.0 L501.7,1189.6 L509.6,1186.4 L515.6,1184.0 L519.2,1182.6 L521.1,1181.8 L522.0,1181.4 L522.7,1181.1Z"/>
<path d="M517.2,1216.8 L511.5,1217.3 L503.2,1218.0 L493.6,1219.4 L483.9,1222.0 L474.6,1226.2 L465.0,1231.5 L455.5,1237.2 L446.1,1242.3 L436.8,1247.1 L427.5,1251.8 L418.2,1256.1 L409.0,1259.9 L399.8,1263.0 L390.6,1265.5 L381.3,1267.8 L372.0,1270.0 L362.3,1272.1 L352.5,1274.1 L343.0,1275.9 L334.5,1277.8 L327.4,1279.4 L321.2,1280.7 L315.2,1282.6 L309.0,1285.8 L302.4,1290.4 L295.9,1296.1 L289.6,1302.4 L283.7,1308.8 L278.3,1315.5 L273.4,1322.5 L268.6,1329.6 L263.8,1336.7 L258.9,1343.8 L254.0,1351.0 L249.1,1357.9 L244.1,1364.3 L239.2,1370.0 L234.2,1375.3 L229.2,1380.1 L224.5,1384.4 L219.6,1388.1 L214.6,1391.3 L210.3,1393.9 L207.2,1395.7 L207.8,1396.8 L210.9,1395.0 L215.4,1392.5 L220.5,1389.3 L225.5,1385.6 L230.4,1381.4 L235.5,1376.7 L240.7,1371.4 L245.9,1365.7 L250.9,1359.4 L256.0,1352.5 L261.1,1345.3 L266.2,1338.3 L271.1,1331.4 L276.0,1324.4 L281.0,1317.5 L286.3,1311.2 L292.2,1304.9 L298.5,1298.9 L304.8,1293.5 L311.0,1289.2 L316.7,1286.5 L322.2,1284.9 L328.3,1283.7 L335.5,1282.2 L344.0,1280.5 L353.4,1278.8 L363.3,1277.0 L373.0,1275.0 L382.5,1272.9 L391.9,1270.7 L401.4,1268.2 L411.0,1265.1 L420.5,1261.3 L430.0,1257.0 L439.4,1252.4 L448.9,1247.7 L458.5,1242.5 L468.1,1236.9 L477.4,1231.8 L486.1,1228.0 L494.9,1225.7 L504.0,1224.5 L512.1,1223.8 L517.8,1223.2Z"/>
<path d="M335.0,1278.8 L328.2,1278.6 L318.3,1278.3 L307.4,1278.3 L297.4,1279.1 L288.6,1280.8 L280.1,1283.1 L272.0,1286.0 L264.7,1289.4 L258.0,1293.4 L252.0,1298.0 L246.6,1302.7 L242.1,1307.1 L238.5,1311.5 L235.7,1315.9 L233.6,1319.7 L232.2,1322.3 L232.8,1322.7 L234.4,1320.1 L236.5,1316.3 L239.3,1312.1 L242.9,1307.9 L247.4,1303.5 L252.7,1298.9 L258.7,1294.5 L265.3,1290.6 L272.6,1287.4 L280.6,1284.7 L289.0,1282.5 L297.6,1280.9 L307.4,1280.3 L318.3,1280.5 L328.1,1280.9 L335.0,1281.2Z"/>
<path d="M291.1,1309.4 L289.2,1313.6 L286.4,1319.6 L283.5,1326.9 L281.3,1334.7 L280.1,1343.5 L279.4,1353.2 L279.1,1363.2 L279.1,1372.5 L279.7,1381.4 L280.9,1390.1 L281.9,1398.1 L281.8,1404.9 L280.5,1410.4 L278.4,1415.0 L275.6,1418.8 L272.2,1422.1 L267.5,1424.8 L261.7,1426.9 L256.2,1428.5 L252.4,1429.6 L252.6,1430.4 L256.4,1429.3 L262.0,1427.8 L267.9,1425.7 L272.8,1422.9 L276.4,1419.6 L279.4,1415.6 L281.7,1410.9 L283.2,1405.1 L283.4,1398.0 L282.5,1389.9 L281.4,1381.2 L280.9,1372.5 L281.1,1363.2 L281.6,1353.3 L282.4,1343.7 L283.7,1335.3 L286.0,1327.7 L288.9,1320.7 L291.8,1314.8 L293.9,1310.6Z"/>
<path d="M375.1,1272.5 L374.2,1274.4 L373.2,1277.0 L371.1,1280.2 L366.8,1284.1 L359.1,1289.0 L348.7,1294.8 L338.0,1300.9 L329.5,1306.9 L323.9,1312.6 L319.9,1318.2 L317.0,1323.9 L314.5,1329.8 L312.4,1336.5 L311.1,1343.8 L310.2,1350.4 L309.6,1354.9 L310.4,1355.1 L311.1,1350.5 L312.0,1344.0 L313.4,1336.8 L315.5,1330.2 L318.1,1324.5 L321.0,1318.9 L325.0,1313.5 L330.5,1308.1 L338.9,1302.3 L349.6,1296.4 L360.1,1290.8 L368.2,1285.9 L372.8,1281.8 L375.3,1278.2 L376.5,1275.4 L377.4,1273.5Z"/>
<path d="M516.7,1213.9 L515.2,1218.4 L513.3,1224.8 L510.6,1231.7 L507.1,1238.1 L502.5,1244.0 L496.8,1250.1 L490.2,1256.2 L482.9,1262.4 L474.6,1268.6 L465.2,1274.9 L455.4,1281.2 L445.8,1287.3 L436.5,1293.1 L427.2,1298.7 L417.8,1304.3 L408.5,1309.9 L398.9,1315.6 L389.0,1321.3 L379.5,1327.0 L370.9,1332.8 L363.4,1338.5 L356.8,1344.3 L350.9,1350.1 L345.6,1355.8 L340.9,1361.4 L336.9,1366.9 L333.4,1372.7 L330.3,1379.1 L327.9,1386.1 L326.1,1393.4 L324.5,1401.2 L322.9,1409.6 L321.3,1419.2 L320.0,1429.7 L318.4,1440.0 L315.7,1449.3 L311.9,1457.4 L307.2,1464.8 L301.8,1471.9 L296.3,1479.0 L290.4,1486.2 L284.2,1493.2 L277.9,1500.1 L271.6,1506.6 L265.4,1512.7 L259.2,1518.5 L253.0,1524.0 L246.9,1529.2 L240.4,1534.2 L233.8,1538.9 L227.5,1543.2 L222.1,1546.9 L217.6,1549.9 L213.7,1552.4 L210.6,1554.4 L208.4,1555.7 L209.1,1556.8 L211.3,1555.4 L214.4,1553.5 L218.3,1551.1 L222.9,1548.1 L228.4,1544.5 L234.8,1540.3 L241.5,1535.7 L248.1,1530.8 L254.5,1525.7 L260.8,1520.2 L267.1,1514.5 L273.4,1508.4 L279.9,1502.0 L286.4,1495.2 L292.8,1488.2 L298.7,1481.0 L304.5,1473.9 L310.0,1466.8 L315.1,1459.1 L319.3,1450.7 L322.2,1440.9 L324.0,1430.3 L325.5,1419.8 L327.1,1410.4 L328.9,1402.1 L330.5,1394.4 L332.3,1387.4 L334.7,1380.9 L337.6,1375.0 L340.9,1369.7 L344.8,1364.5 L349.4,1359.2 L354.6,1353.7 L360.4,1348.2 L366.8,1342.7 L374.1,1337.2 L382.5,1331.8 L391.9,1326.2 L401.8,1320.7 L411.5,1315.1 L420.9,1309.6 L430.3,1304.1 L439.8,1298.5 L449.2,1292.7 L458.9,1286.7 L468.8,1280.4 L478.4,1274.0 L487.1,1267.6 L494.7,1261.3 L501.6,1254.9 L507.7,1248.5 L512.9,1241.9 L516.9,1234.6 L519.9,1227.1 L521.9,1220.5 L523.3,1216.1Z"/>
<path d="M314.8,1445.0 L309.6,1446.0 L302.1,1447.3 L293.5,1449.1 L284.7,1451.5 L275.8,1454.7 L266.3,1458.6 L256.7,1462.7 L247.2,1466.7 L237.6,1470.6 L228.0,1474.6 L218.6,1478.4 L209.8,1481.9 L201.6,1484.7 L193.9,1487.1 L186.6,1489.4 L179.8,1492.0 L173.1,1495.3 L166.6,1499.0 L161.2,1502.3 L157.3,1504.7 L157.7,1505.3 L161.6,1503.1 L167.1,1499.8 L173.5,1496.2 L180.2,1493.0 L187.0,1490.5 L194.2,1488.2 L202.0,1485.9 L210.2,1483.1 L219.1,1479.8 L228.6,1476.0 L238.3,1472.1 L247.8,1468.3 L257.4,1464.4 L267.1,1460.3 L276.5,1456.6 L285.3,1453.5 L294.0,1451.3 L302.6,1449.6 L310.0,1448.4 L315.2,1447.5Z"/>
<path d="M348.5,1359.7 L347.6,1363.9 L346.2,1369.9 L344.8,1377.1 L343.7,1384.9 L343.2,1394.1 L342.9,1404.8 L342.8,1414.9 L342.8,1422.5 L342.7,1425.5 L342.8,1425.8 L342.9,1425.8 L342.8,1430.0 L342.7,1440.1 L342.6,1453.9 L342.4,1468.2 L341.9,1480.0 L341.1,1488.5 L340.1,1495.5 L339.1,1501.0 L338.4,1504.9 L339.1,1505.1 L339.9,1501.2 L341.0,1495.7 L342.2,1488.7 L343.1,1480.0 L343.7,1468.3 L344.1,1453.9 L344.4,1440.1 L344.7,1430.0 L344.8,1425.8 L344.7,1425.2 L344.7,1425.5 L344.7,1422.5 L344.9,1415.0 L345.2,1404.9 L345.6,1394.3 L346.3,1385.1 L347.4,1377.5 L348.9,1370.5 L350.4,1364.5 L351.5,1360.3Z"/>
<path d="M524.0,1110.1 L524.2,1121.6 L524.6,1138.2 L525.0,1156.3 L525.2,1172.5 L525.4,1186.3 L525.4,1199.4 L525.3,1211.5 L525.1,1222.5 L525.3,1232.1 L525.7,1240.3 L525.3,1247.4 L523.1,1254.0 L518.6,1260.5 L512.2,1266.6 L504.5,1272.6 L496.5,1278.5 L487.7,1284.4 L477.8,1290.1 L468.0,1295.7 L459.3,1301.4 L451.8,1307.2 L445.2,1313.1 L439.4,1318.8 L434.3,1324.4 L430.1,1329.7 L426.8,1334.9 L424.2,1339.9 L421.9,1344.7 L420.1,1349.8 L418.7,1354.9 L417.8,1359.3 L417.1,1362.4 L417.9,1362.6 L418.7,1359.5 L419.7,1355.1 L421.1,1350.1 L423.1,1345.3 L425.4,1340.6 L428.2,1335.7 L431.5,1330.7 L435.7,1325.6 L440.8,1320.3 L446.7,1314.7 L453.3,1309.1 L460.7,1303.6 L469.5,1298.2 L479.4,1292.8 L489.4,1287.2 L498.5,1281.5 L506.8,1275.6 L514.7,1269.6 L521.7,1263.2 L526.9,1256.0 L529.6,1248.2 L530.2,1240.3 L529.9,1232.0 L529.9,1222.5 L530.3,1211.6 L530.6,1199.4 L530.7,1186.3 L530.8,1172.5 L530.7,1156.3 L530.5,1138.1 L530.2,1121.5 L530.0,1109.9Z"/>
<path d="M509.0,1267.7 L509.8,1270.9 L510.8,1275.4 L512.3,1280.5 L514.3,1285.4 L517.2,1289.8 L520.9,1294.2 L524.4,1298.5 L526.9,1302.7 L528.2,1307.2 L528.7,1311.7 L528.7,1316.1 L528.3,1319.9 L527.2,1323.1 L525.3,1325.8 L523.5,1328.1 L522.2,1329.7 L522.8,1330.3 L524.1,1328.6 L526.1,1326.4 L528.0,1323.5 L529.2,1320.1 L529.8,1316.2 L529.9,1311.7 L529.4,1306.9 L528.1,1302.3 L525.5,1297.7 L522.0,1293.3 L518.5,1288.9 L515.7,1284.6 L513.9,1279.9 L512.6,1274.9 L511.7,1270.4 L511.0,1267.3Z"/>
<path d="M568.5,1303.3 L564.9,1306.5 L559.7,1311.2 L553.5,1316.2 L546.5,1320.7 L538.2,1324.6 L528.4,1328.5 L518.4,1332.2 L509.3,1335.8 L501.8,1339.2 L495.2,1342.3 L488.8,1345.4 L481.9,1348.5 L474.3,1351.4 L466.5,1354.1 L458.2,1357.2 L449.4,1361.2 L439.4,1366.1 L428.6,1371.8 L418.1,1377.9 L409.2,1384.0 L402.4,1390.2 L397.0,1396.6 L392.7,1403.1 L389.0,1409.5 L386.1,1416.3 L384.0,1423.3 L382.6,1429.8 L381.5,1434.8 L381.2,1437.5 L381.6,1438.6 L381.9,1439.3 L381.6,1442.3 L380.3,1448.9 L378.5,1457.5 L376.4,1466.6 L374.3,1474.8 L372.1,1481.5 L369.8,1487.5 L367.3,1493.5 L364.4,1499.7 L360.7,1507.1 L356.4,1515.0 L352.4,1522.2 L349.6,1527.3 L350.4,1527.7 L353.3,1522.8 L357.4,1515.6 L361.8,1507.6 L365.6,1500.3 L368.5,1494.0 L371.1,1488.1 L373.5,1482.0 L375.7,1475.2 L378.0,1467.0 L380.2,1457.8 L382.1,1449.2 L383.4,1442.7 L383.8,1439.3 L383.4,1437.9 L383.1,1437.5 L383.5,1435.2 L384.5,1430.2 L386.0,1423.9 L388.1,1417.0 L391.0,1410.5 L394.6,1404.3 L398.9,1398.1 L404.2,1391.9 L410.8,1386.0 L419.5,1380.1 L429.9,1374.2 L440.7,1368.6 L450.6,1363.8 L459.3,1360.1 L467.6,1357.1 L475.5,1354.4 L483.1,1351.5 L490.2,1348.5 L496.7,1345.5 L503.3,1342.4 L510.7,1339.2 L519.7,1335.7 L529.7,1332.1 L539.7,1328.3 L548.5,1324.3 L555.9,1319.6 L562.5,1314.5 L567.8,1309.9 L571.5,1306.7Z"/>
<path d="M459.1,1359.1 L455.8,1362.5 L450.9,1367.3 L445.7,1373.1 L441.6,1379.5 L438.7,1386.6 L436.5,1394.5 L435.0,1402.5 L434.1,1409.9 L434.1,1417.2 L435.0,1424.3 L436.0,1430.6 L436.7,1435.1 L436.7,1436.3 L437.5,1435.8 L436.0,1436.2 L436.9,1437.8 L439.4,1442.6 L443.1,1449.1 L446.8,1456.2 L449.4,1462.7 L450.8,1468.7 L451.4,1474.7 L451.4,1480.3 L450.8,1484.9 L449.2,1488.4 L446.7,1491.1 L444.0,1493.2 L442.2,1494.7 L442.8,1495.3 L444.6,1493.8 L447.2,1491.7 L449.9,1488.9 L451.7,1485.1 L452.4,1480.3 L452.5,1474.7 L451.9,1468.5 L450.6,1462.3 L447.9,1455.6 L444.3,1448.4 L440.6,1441.9 L438.1,1437.2 L437.3,1435.5 L436.3,1436.7 L438.1,1437.0 L438.3,1434.9 L437.6,1430.3 L436.6,1424.1 L435.8,1417.1 L435.9,1410.1 L436.9,1402.8 L438.5,1394.9 L440.7,1387.2 L443.4,1380.5 L447.5,1374.5 L452.6,1368.9 L457.5,1364.2 L460.9,1360.9Z"/>
<path d="M377.8,1462.9 L380.3,1467.9 L383.7,1475.1 L387.7,1483.1 L391.8,1490.4 L396.1,1496.9 L400.9,1503.1 L405.5,1509.2 L409.4,1515.3 L412.7,1521.6 L415.7,1528.0 L418.0,1534.3 L419.5,1540.1 L419.8,1545.6 L419.3,1550.9 L418.2,1555.7 L417.1,1559.9 L415.7,1563.2 L413.9,1566.0 L412.1,1568.2 L410.9,1569.8 L411.6,1570.2 L412.8,1568.7 L414.6,1566.5 L416.4,1563.6 L417.9,1560.1 L419.1,1555.9 L420.3,1551.0 L420.9,1545.6 L420.5,1539.9 L419.1,1533.9 L416.8,1527.6 L413.9,1521.1 L410.6,1514.7 L406.6,1508.4 L402.1,1502.2 L397.4,1496.0 L393.2,1489.6 L389.2,1482.3 L385.4,1474.3 L382.0,1467.1 L379.7,1462.1Z"/>
<path d="M516.5,1110.1 L516.9,1122.2 L517.5,1139.6 L518.1,1158.0 L518.5,1172.6 L518.8,1182.2 L519.0,1189.2 L519.1,1194.7 L519.1,1199.9 L518.8,1204.9 L518.3,1209.4 L517.7,1213.1 L517.4,1215.8 L524.1,1216.7 L524.5,1214.1 L525.0,1210.3 L525.6,1205.5 L525.9,1200.1 L526.0,1194.7 L525.9,1189.1 L525.7,1182.0 L525.5,1172.4 L525.0,1157.8 L524.5,1139.4 L523.9,1121.9 L523.5,1109.9Z"/>
<path d="M529.3,1110.2 L530.0,1121.7 L531.2,1138.4 L532.6,1156.6 L534.4,1172.9 L536.5,1186.7 L539.0,1199.7 L541.8,1211.9 L544.6,1223.3 L547.6,1233.6 L550.8,1243.0 L554.1,1251.9 L557.3,1260.9 L560.7,1270.4 L564.1,1280.0 L567.3,1289.3 L569.9,1298.2 L572.0,1306.7 L573.7,1315.0 L574.8,1322.7 L575.0,1329.9 L574.4,1336.4 L573.1,1342.3 L571.0,1347.9 L568.0,1353.7 L563.7,1359.8 L558.2,1366.1 L552.1,1372.3 L546.0,1378.4 L539.9,1384.3 L533.6,1390.0 L527.3,1395.5 L521.2,1401.0 L515.2,1406.0 L509.2,1410.9 L503.5,1415.8 L498.5,1421.4 L494.4,1427.6 L491.1,1434.2 L488.3,1440.8 L485.9,1446.9 L484.1,1451.9 L482.8,1456.3 L481.8,1461.1 L481.0,1467.3 L480.1,1475.5 L479.3,1485.1 L478.8,1495.2 L478.7,1505.0 L479.2,1514.6 L480.2,1524.2 L481.2,1533.5 L481.5,1542.5 L481.0,1551.0 L480.0,1559.3 L478.6,1567.2 L476.7,1574.8 L473.9,1582.3 L470.3,1589.8 L466.9,1596.4 L464.5,1601.0 L465.5,1601.5 L468.0,1597.0 L471.6,1590.5 L475.3,1582.9 L478.3,1575.2 L480.3,1567.6 L481.9,1559.6 L482.9,1551.2 L483.5,1542.5 L483.4,1533.4 L482.6,1523.9 L481.7,1514.4 L481.3,1505.0 L481.6,1495.3 L482.2,1485.3 L483.1,1475.8 L484.0,1467.7 L485.0,1461.7 L485.9,1457.1 L487.2,1453.0 L489.1,1448.1 L491.5,1442.1 L494.3,1435.8 L497.6,1429.4 L501.5,1423.6 L506.2,1418.6 L511.7,1413.8 L517.7,1409.1 L523.8,1404.0 L530.0,1398.7 L536.4,1393.2 L542.8,1387.5 L549.0,1381.6 L555.3,1375.5 L561.5,1369.2 L567.3,1362.8 L572.0,1356.3 L575.4,1349.9 L577.8,1343.7 L579.3,1337.2 L580.0,1330.1 L579.9,1322.3 L578.8,1314.1 L577.1,1305.6 L575.1,1296.8 L572.5,1287.7 L569.3,1278.2 L565.9,1268.6 L562.7,1259.1 L559.5,1250.0 L556.3,1241.1 L553.3,1231.9 L550.4,1221.7 L547.7,1210.5 L545.0,1198.4 L542.7,1185.6 L540.6,1172.1 L539.0,1156.0 L537.6,1137.9 L536.5,1121.3 L535.7,1109.8Z"/>
<path d="M539.3,1110.5 L541.0,1122.0 L543.4,1138.6 L546.3,1156.8 L549.4,1173.2 L552.9,1187.0 L556.7,1200.0 L560.7,1212.1 L564.7,1223.5 L568.5,1233.8 L572.3,1243.2 L576.1,1252.0 L579.8,1261.1 L583.5,1270.4 L587.1,1279.8 L590.8,1289.2 L595.0,1298.7 L600.0,1308.2 L605.3,1317.6 L610.6,1326.8 L615.1,1336.0 L618.9,1345.5 L622.2,1355.3 L625.1,1364.7 L627.7,1373.2 L630.3,1380.4 L632.6,1386.5 L634.4,1392.1 L635.2,1397.6 L635.0,1403.5 L633.8,1409.5 L632.1,1415.7 L630.4,1421.9 L628.5,1429.0 L626.3,1436.6 L624.3,1443.1 L623.1,1446.9 L627.2,1447.1 L628.5,1442.7 L629.6,1438.4 L625.8,1436.6 L623.7,1441.4 L620.5,1449.3 L616.8,1458.4 L613.4,1466.8 L610.2,1474.4 L607.0,1482.0 L603.8,1489.6 L601.0,1496.9 L598.5,1504.0 L596.1,1510.8 L594.1,1517.6 L592.4,1524.7 L590.9,1532.1 L589.8,1539.7 L589.0,1547.3 L588.8,1555.0 L589.0,1562.8 L589.8,1570.8 L591.0,1578.4 L592.7,1585.3 L595.0,1591.2 L597.8,1596.3 L601.0,1600.9 L604.3,1605.5 L607.7,1610.2 L611.5,1614.7 L615.4,1619.0 L619.5,1623.0 L624.2,1627.1 L629.3,1631.0 L633.9,1634.4 L637.1,1636.7 L637.9,1635.8 L634.7,1633.4 L630.1,1629.9 L625.1,1626.0 L620.5,1622.0 L616.6,1617.9 L612.7,1613.6 L609.1,1609.1 L605.7,1604.5 L602.5,1599.9 L599.5,1595.3 L596.9,1590.3 L594.8,1584.7 L593.2,1578.0 L592.1,1570.5 L591.4,1562.7 L591.2,1555.0 L591.6,1547.5 L592.4,1540.0 L593.6,1532.6 L595.1,1525.3 L596.9,1518.4 L599.0,1511.7 L601.4,1505.0 L604.0,1498.1 L606.9,1490.8 L610.1,1483.3 L613.4,1475.7 L616.6,1468.2 L620.2,1459.8 L623.9,1450.7 L627.2,1442.9 L629.2,1438.4 L625.8,1437.6 L624.7,1441.6 L623.4,1446.0 L626.9,1448.1 L628.2,1444.3 L630.3,1437.8 L632.6,1430.2 L634.6,1423.1 L636.3,1416.8 L638.1,1410.5 L639.4,1404.0 L639.8,1397.4 L638.9,1391.0 L637.0,1385.0 L634.7,1378.8 L632.3,1371.8 L629.7,1363.3 L626.9,1353.8 L623.6,1343.8 L619.9,1334.0 L615.2,1324.4 L610.0,1314.9 L604.7,1305.6 L600.0,1296.3 L596.0,1287.1 L592.3,1277.7 L588.8,1268.4 L585.2,1258.9 L581.4,1249.8 L577.7,1240.9 L574.0,1231.7 L570.3,1221.5 L566.5,1210.2 L562.6,1198.1 L558.9,1185.4 L555.6,1171.8 L552.6,1155.7 L549.7,1137.6 L547.4,1121.1 L545.7,1109.5Z"/>
<path d="M561.3,1359.9 L560.6,1365.9 L559.6,1374.6 L558.9,1384.1 L558.9,1392.6 L560.1,1399.6 L561.9,1405.9 L564.1,1412.0 L566.7,1417.9 L570.1,1424.8 L574.3,1432.1 L577.8,1438.0 L580.7,1439.7 L578.7,1436.1 L574.4,1428.4 L570.1,1420.7 L568.1,1417.3 L568.5,1420.0 L572.1,1425.5 L576.3,1432.7 L579.5,1440.2 L581.4,1448.8 L582.8,1459.0 L583.9,1468.5 L584.6,1475.0 L585.4,1475.0 L584.7,1468.4 L583.8,1458.8 L582.4,1448.6 L580.5,1439.8 L577.4,1432.2 L573.2,1424.8 L569.6,1419.3 L566.9,1417.7 L568.8,1421.4 L573.1,1429.1 L577.4,1436.9 L579.3,1440.3 L579.2,1437.2 L575.7,1431.3 L571.6,1423.9 L568.3,1417.1 L565.9,1411.3 L563.8,1405.3 L562.1,1399.1 L561.1,1392.4 L561.1,1384.2 L561.9,1374.8 L563.0,1366.2 L563.7,1360.1Z"/>
<path d="M501.0,1422.7 L501.7,1427.7 L502.7,1435.1 L504.1,1443.1 L506.3,1450.5 L509.4,1456.7 L513.2,1462.4 L517.4,1467.9 L521.6,1473.2 L525.9,1478.4 L530.5,1483.3 L535.0,1488.1 L539.2,1493.1 L543.1,1498.4 L546.8,1503.8 L550.2,1509.4 L552.9,1515.3 L555.0,1521.8 L556.7,1528.6 L557.7,1535.6 L558.0,1542.5 L557.5,1549.3 L556.4,1556.1 L554.5,1562.9 L551.9,1569.7 L548.2,1576.9 L543.5,1584.4 L538.7,1591.4 L534.6,1597.2 L531.4,1601.7 L528.6,1605.2 L526.3,1607.8 L524.7,1609.7 L525.3,1610.3 L526.9,1608.4 L529.2,1605.7 L532.1,1602.2 L535.4,1597.8 L539.5,1592.0 L544.4,1585.0 L549.3,1577.5 L553.1,1570.3 L555.7,1563.3 L557.7,1556.4 L559.0,1549.5 L559.5,1542.5 L559.3,1535.4 L558.3,1528.3 L556.7,1521.3 L554.6,1514.7 L551.8,1508.5 L548.5,1502.8 L544.7,1497.3 L540.8,1491.9 L536.6,1486.7 L532.1,1481.7 L527.6,1476.9 L523.4,1471.8 L519.3,1466.4 L515.2,1461.0 L511.6,1455.4 L508.7,1449.5 L506.8,1442.5 L505.5,1434.6 L504.6,1427.4 L504.0,1422.3Z"/>
<path d="M546.9,1524.2 L542.4,1527.5 L535.9,1532.3 L528.7,1537.4 L522.1,1541.9 L516.0,1545.2 L509.8,1548.0 L504.1,1551.0 L499.6,1554.6 L496.7,1559.7 L495.0,1565.7 L494.1,1571.2 L493.4,1574.9 L494.1,1575.1 L494.9,1571.3 L495.9,1565.9 L497.6,1560.1 L500.4,1555.4 L504.7,1552.0 L510.4,1549.2 L516.6,1546.4 L522.9,1543.1 L529.6,1538.7 L536.9,1533.7 L543.5,1529.0 L548.1,1525.8Z"/>
<path d="M479.4,1526.7 L475.7,1529.5 L470.4,1533.5 L464.6,1537.9 L459.5,1541.8 L455.2,1544.8 L451.2,1547.5 L447.5,1550.5 L444.3,1554.6 L441.7,1559.8 L439.5,1565.7 L437.9,1572.4 L436.8,1579.9 L436.6,1588.7 L437.1,1598.5 L437.9,1608.4 L438.2,1617.5 L438.1,1626.2 L437.8,1634.8 L437.4,1642.3 L437.1,1647.5 L437.9,1647.5 L438.2,1642.3 L438.7,1634.9 L439.1,1626.2 L439.3,1617.5 L439.0,1608.3 L438.3,1598.4 L437.9,1588.7 L438.2,1580.1 L439.3,1572.7 L440.9,1566.2 L443.1,1560.4 L445.7,1555.4 L448.7,1551.6 L452.2,1548.8 L456.2,1546.2 L460.5,1543.2 L465.7,1539.3 L471.5,1535.0 L476.9,1531.0 L480.6,1528.3Z"/>
<path d="M603.4,1513.2 L605.0,1516.8 L607.2,1521.9 L610.2,1527.8 L613.8,1533.4 L618.1,1538.5 L623.1,1543.7 L628.5,1548.7 L634.2,1553.5 L640.1,1558.2 L646.3,1562.7 L652.8,1567.0 L659.5,1570.9 L666.4,1574.4 L673.5,1577.4 L680.6,1580.3 L687.1,1583.3 L693.3,1586.3 L699.3,1589.4 L704.8,1592.5 L709.6,1595.5 L713.7,1598.7 L717.2,1601.8 L720.0,1604.9 L722.0,1607.8 L723.3,1610.4 L723.7,1612.9 L723.7,1615.2 L723.3,1617.4 L722.4,1619.5 L721.0,1621.6 L719.5,1623.4 L718.4,1624.7 L719.1,1625.3 L720.1,1624.0 L721.7,1622.1 L723.2,1619.9 L724.2,1617.6 L724.6,1615.3 L724.7,1612.8 L724.2,1610.1 L723.0,1607.2 L720.8,1604.2 L718.0,1601.0 L714.5,1597.7 L710.4,1594.5 L705.6,1591.3 L700.0,1588.1 L694.1,1584.9 L687.9,1581.7 L681.3,1578.7 L674.3,1575.7 L667.2,1572.6 L660.5,1569.1 L654.1,1565.1 L647.7,1560.7 L641.6,1556.2 L635.8,1551.5 L630.3,1546.7 L625.1,1541.6 L620.3,1536.6 L616.2,1531.6 L613.0,1526.3 L610.3,1520.6 L608.1,1515.4 L606.6,1511.8Z"/>
<path d="M653.8,1570.1 L654.0,1574.0 L654.3,1579.8 L655.0,1586.3 L656.5,1592.8 L659.0,1599.1 L662.2,1605.7 L665.7,1612.1 L669.3,1617.9 L673.2,1622.9 L677.3,1627.3 L681.2,1631.4 L684.5,1635.4 L687.1,1639.4 L689.2,1643.3 L690.9,1646.9 L692.0,1650.1 L692.5,1652.9 L692.3,1655.3 L691.9,1657.2 L691.6,1658.7 L692.4,1658.8 L692.7,1657.4 L693.1,1655.4 L693.4,1652.8 L693.0,1649.9 L691.8,1646.6 L690.2,1642.8 L688.1,1638.8 L685.5,1634.6 L682.2,1630.6 L678.3,1626.4 L674.3,1622.0 L670.7,1617.1 L667.2,1611.3 L663.8,1604.9 L660.8,1598.4 L658.5,1592.2 L657.2,1586.0 L656.6,1579.6 L656.4,1573.9 L656.2,1569.9Z"/>
<path d="M544.3,1097.7 L550.3,1099.2 L558.7,1101.3 L568.9,1103.5 L579.7,1105.1 L591.3,1106.0 L604.0,1106.4 L617.2,1106.4 L630.1,1106.1 L642.7,1105.1 L655.2,1103.7 L667.7,1102.1 L680.2,1100.7 L693.0,1099.3 L705.9,1098.0 L718.5,1096.9 L730.0,1096.4 L740.5,1096.6 L750.2,1097.4 L759.1,1098.5 L767.3,1099.7 L774.6,1101.0 L780.9,1102.4 L786.7,1104.0 L792.3,1105.6 L798.1,1107.5 L803.9,1109.6 L808.9,1111.5 L812.4,1112.9 L812.6,1112.1 L809.2,1110.7 L804.2,1108.7 L798.5,1106.4 L792.7,1104.4 L787.1,1102.6 L781.3,1100.8 L774.9,1099.2 L767.7,1097.8 L759.5,1096.4 L750.4,1095.1 L740.6,1094.1 L730.0,1093.6 L718.3,1093.8 L705.6,1094.7 L692.6,1095.8 L679.8,1096.8 L667.3,1098.0 L654.8,1099.4 L642.3,1100.7 L629.9,1101.4 L617.1,1101.6 L604.1,1101.4 L591.6,1100.8 L580.3,1099.9 L569.9,1098.2 L560.0,1096.0 L551.6,1093.8 L545.7,1092.3Z"/>
<path d="M674.8,1102.2 L680.1,1103.1 L687.5,1104.3 L696.1,1105.6 L704.9,1107.1 L713.7,1108.4 L723.0,1109.7 L732.7,1111.2 L742.4,1113.1 L753.1,1115.8 L764.7,1119.0 L775.1,1122.0 L782.4,1124.1 L782.6,1123.4 L775.4,1121.2 L765.0,1118.0 L753.4,1114.7 L742.6,1111.9 L732.9,1109.9 L723.2,1108.3 L713.9,1106.9 L705.1,1105.4 L696.4,1103.9 L687.8,1102.5 L680.4,1101.2 L675.2,1100.3Z"/>
<path d="M546.5,1110.6 L551.9,1112.4 L559.6,1115.0 L569.0,1117.9 L579.2,1120.6 L590.6,1123.2 L603.3,1125.8 L616.5,1128.3 L629.5,1130.5 L642.1,1132.3 L654.6,1133.9 L667.2,1135.3 L679.8,1136.5 L692.3,1137.3 L704.9,1138.0 L717.4,1138.4 L729.9,1138.7 L742.5,1138.8 L755.0,1138.8 L767.5,1138.6 L780.1,1138.3 L792.9,1137.7 L805.9,1136.8 L818.5,1136.0 L830.1,1135.4 L840.3,1135.0 L849.5,1134.8 L858.4,1134.8 L867.4,1135.1 L877.1,1135.5 L886.9,1136.1 L896.4,1137.1 L904.8,1138.5 L912.0,1140.4 L918.4,1142.7 L924.2,1145.4 L929.7,1148.1 L934.8,1151.1 L939.6,1154.4 L943.8,1157.6 L947.2,1160.4 L949.7,1162.7 L951.4,1164.8 L952.5,1166.5 L953.4,1167.7 L954.1,1167.3 L953.2,1166.0 L952.1,1164.3 L950.3,1162.1 L947.8,1159.6 L944.4,1156.7 L940.3,1153.4 L935.5,1150.0 L930.3,1146.9 L924.9,1144.0 L919.1,1141.2 L912.6,1138.6 L905.2,1136.5 L896.6,1135.0 L887.1,1133.9 L877.2,1133.0 L867.6,1132.4 L858.4,1132.0 L849.5,1131.9 L840.2,1131.9 L829.9,1132.1 L818.3,1132.5 L805.7,1133.2 L792.7,1133.8 L779.9,1134.2 L767.5,1134.3 L755.0,1134.3 L742.5,1134.2 L730.1,1133.8 L717.6,1133.4 L705.1,1132.8 L692.7,1132.1 L680.2,1131.0 L667.8,1129.8 L655.4,1128.3 L642.9,1126.5 L630.5,1124.5 L617.6,1122.3 L604.5,1119.7 L591.9,1117.0 L580.8,1114.4 L570.8,1111.7 L561.6,1108.8 L554.0,1106.2 L548.5,1104.4Z"/>
<path d="M800.7,1136.0 L803.2,1134.1 L806.8,1131.3 L810.9,1128.4 L815.4,1125.9 L820.2,1123.9 L825.6,1122.1 L831.3,1120.6 L837.6,1119.5 L845.2,1118.8 L853.9,1118.5 L861.9,1118.5 L867.5,1118.4 L867.5,1117.6 L861.9,1117.5 L853.9,1117.4 L845.1,1117.5 L837.4,1118.0 L831.0,1119.1 L825.1,1120.5 L819.6,1122.2 L814.6,1124.1 L809.8,1126.6 L805.4,1129.5 L801.8,1132.2 L799.3,1134.0Z"/>
<path d="M548.7,1118.0 L553.9,1120.2 L561.4,1123.4 L570.1,1127.1 L578.9,1130.5 L587.8,1133.7 L597.3,1136.9 L607.0,1140.1 L616.7,1142.9 L625.8,1145.4 L634.8,1147.5 L644.1,1149.5 L654.4,1151.6 L666.1,1153.8 L678.7,1156.0 L691.8,1158.1 L704.6,1160.1 L717.1,1161.9 L729.7,1163.6 L742.3,1165.0 L754.9,1166.0 L767.5,1166.3 L780.0,1166.1 L792.5,1165.8 L805.0,1165.6 L817.8,1165.6 L830.8,1165.6 L843.3,1165.8 L854.9,1166.5 L865.1,1167.6 L874.3,1169.1 L883.1,1171.1 L892.2,1173.6 L901.9,1176.7 L912.0,1180.5 L921.5,1184.5 L929.7,1188.2 L936.2,1191.5 L941.5,1194.7 L946.0,1197.7 L949.7,1200.4 L952.6,1202.7 L954.7,1204.8 L956.1,1206.5 L957.2,1207.8 L957.8,1207.2 L956.8,1206.0 L955.3,1204.2 L953.2,1202.1 L950.3,1199.6 L946.6,1196.8 L942.2,1193.7 L936.9,1190.3 L930.3,1186.8 L922.2,1183.0 L912.7,1178.8 L902.6,1174.8 L892.8,1171.4 L883.7,1168.8 L874.8,1166.6 L865.5,1164.9 L855.1,1163.5 L843.4,1162.7 L830.8,1162.2 L817.8,1162.1 L805.0,1161.9 L792.5,1161.8 L780.0,1162.0 L767.5,1162.0 L755.1,1161.5 L742.7,1160.4 L730.3,1158.8 L717.9,1156.9 L705.4,1154.9 L692.6,1152.9 L679.7,1150.6 L667.1,1148.2 L655.6,1145.9 L645.4,1143.8 L636.1,1141.7 L627.3,1139.5 L618.3,1137.1 L608.9,1134.2 L599.3,1131.0 L589.9,1127.7 L581.1,1124.5 L572.5,1121.1 L563.9,1117.5 L556.5,1114.3 L551.3,1112.0Z"/>
<path d="M611.0,1140.3 L611.7,1143.0 L612.6,1146.9 L614.1,1151.4 L616.5,1155.7 L620.1,1159.6 L624.6,1163.3 L629.5,1167.0 L634.4,1170.7 L639.6,1174.5 L645.0,1178.4 L650.3,1182.1 L654.6,1185.4 L658.1,1188.5 L660.9,1191.3 L663.1,1193.6 L664.7,1195.3 L665.3,1194.7 L663.8,1193.0 L661.6,1190.6 L658.8,1187.7 L655.4,1184.6 L651.0,1181.1 L645.9,1177.2 L640.6,1173.2 L635.6,1169.3 L630.8,1165.5 L626.0,1161.7 L621.7,1157.9 L618.5,1154.3 L616.5,1150.4 L615.2,1146.2 L614.5,1142.4 L614.0,1139.7Z"/>
<path d="M668.9,1154.8 L671.4,1157.3 L675.0,1161.0 L679.4,1165.0 L684.4,1168.5 L690.1,1171.3 L696.5,1173.7 L703.2,1176.0 L709.7,1178.3 L716.1,1180.8 L722.7,1183.3 L729.0,1185.7 L734.8,1188.1 L740.1,1190.5 L745.1,1192.9 L749.3,1195.1 L752.3,1196.6 L752.7,1195.9 L749.7,1194.3 L745.5,1192.1 L740.6,1189.5 L735.2,1186.9 L729.5,1184.5 L723.2,1181.9 L716.7,1179.3 L710.3,1176.7 L703.9,1174.2 L697.2,1171.7 L691.0,1169.2 L685.6,1166.5 L681.0,1163.0 L676.9,1159.0 L673.5,1155.3 L671.1,1152.7Z"/>
<path d="M767.1,1166.4 L774.1,1168.6 L784.3,1171.6 L795.2,1175.1 L804.5,1178.6 L811.7,1182.1 L818.0,1185.8 L823.8,1189.6 L829.4,1193.4 L834.7,1197.1 L839.7,1200.9 L844.5,1204.7 L849.5,1208.3 L854.5,1211.5 L859.4,1214.6 L864.4,1217.6 L869.6,1220.7 L875.0,1223.8 L880.6,1227.0 L886.3,1230.2 L892.2,1233.1 L898.5,1235.8 L904.9,1238.4 L911.3,1240.7 L917.3,1243.0 L923.2,1245.2 L928.9,1247.3 L933.9,1249.1 L937.4,1250.4 L937.6,1249.6 L934.2,1248.3 L929.2,1246.5 L923.5,1244.3 L917.7,1242.0 L911.7,1239.7 L905.4,1237.3 L898.9,1234.7 L892.8,1231.9 L887.0,1228.9 L881.3,1225.8 L875.8,1222.5 L870.4,1219.3 L865.2,1216.2 L860.3,1213.2 L855.4,1210.1 L850.5,1206.7 L845.7,1203.2 L840.9,1199.4 L836.0,1195.5 L830.6,1191.6 L825.0,1187.8 L819.2,1183.9 L812.8,1180.0 L805.5,1176.4 L796.1,1172.7 L785.1,1169.0 L775.0,1165.8 L767.9,1163.6Z"/>
<path d="M846.5,1207.6 L846.8,1210.3 L847.2,1214.3 L847.9,1218.8 L849.2,1222.9 L851.0,1226.2 L853.4,1229.3 L856.2,1232.3 L859.4,1235.6 L863.5,1239.1 L868.3,1242.8 L873.0,1246.6 L877.0,1250.5 L879.9,1254.5 L882.4,1258.8 L884.6,1263.2 L886.9,1267.8 L889.4,1272.8 L891.8,1278.1 L894.3,1283.2 L897.1,1287.8 L900.1,1291.6 L903.2,1294.8 L906.5,1297.7 L909.7,1300.4 L913.2,1303.0 L916.8,1305.5 L920.0,1307.6 L922.3,1309.1 L922.7,1308.4 L920.5,1306.9 L917.3,1304.8 L913.7,1302.3 L910.3,1299.6 L907.1,1297.0 L903.9,1294.1 L900.8,1290.9 L897.9,1287.2 L895.3,1282.7 L892.9,1277.6 L890.5,1272.2 L888.1,1267.2 L885.8,1262.6 L883.6,1258.1 L881.1,1253.8 L878.0,1249.5 L874.0,1245.5 L869.2,1241.6 L864.5,1237.9 L860.6,1234.4 L857.4,1231.2 L854.7,1228.2 L852.5,1225.3 L850.8,1222.1 L849.7,1218.4 L849.1,1214.1 L848.8,1210.2 L848.5,1207.4Z"/>
<path d="M544.8,1126.9 L548.3,1131.8 L553.3,1139.1 L559.1,1147.1 L565.1,1154.6 L571.0,1161.1 L577.3,1167.4 L583.8,1173.6 L590.4,1179.8 L597.0,1186.1 L603.9,1192.4 L610.9,1198.7 L618.1,1204.8 L625.5,1210.6 L633.1,1216.2 L640.7,1221.7 L648.3,1227.3 L655.9,1233.0 L663.7,1238.7 L671.2,1244.4 L678.4,1249.6 L685.0,1254.5 L691.3,1259.1 L697.5,1263.4 L703.8,1267.2 L710.3,1270.3 L716.7,1272.7 L722.9,1274.9 L729.2,1277.2 L735.4,1279.6 L741.7,1282.1 L747.9,1284.6 L754.2,1287.0 L760.6,1289.4 L766.9,1291.7 L773.1,1294.0 L779.1,1296.8 L785.0,1300.0 L790.8,1303.6 L796.3,1307.5 L801.3,1311.4 L805.6,1315.4 L809.4,1319.6 L812.9,1323.9 L816.1,1328.4 L819.0,1333.0 L821.5,1337.7 L823.8,1342.7 L826.1,1348.0 L828.0,1353.9 L829.7,1360.2 L831.5,1366.7 L833.7,1373.0 L836.5,1378.9 L839.5,1384.5 L842.9,1390.1 L846.5,1395.6 L850.6,1401.3 L855.0,1407.1 L859.6,1412.7 L864.3,1418.1 L869.1,1423.4 L874.1,1428.6 L879.2,1433.5 L884.5,1438.1 L890.6,1442.5 L897.2,1446.8 L903.1,1450.4 L907.2,1452.9 L907.8,1452.1 L903.7,1449.5 L897.8,1445.7 L891.4,1441.4 L885.5,1436.9 L880.3,1432.3 L875.3,1427.4 L870.4,1422.2 L865.7,1416.9 L861.1,1411.4 L856.6,1405.8 L852.4,1400.0 L848.5,1394.4 L844.9,1388.8 L841.7,1383.3 L838.8,1377.7 L836.3,1372.0 L834.2,1365.9 L832.5,1359.5 L830.9,1353.0 L828.9,1347.0 L826.7,1341.5 L824.4,1336.3 L821.8,1331.4 L818.9,1326.6 L815.7,1321.9 L812.1,1317.3 L808.2,1312.9 L803.7,1308.6 L798.6,1304.4 L792.9,1300.4 L787.0,1296.6 L780.9,1293.2 L774.7,1290.3 L768.4,1287.7 L762.1,1285.4 L755.8,1283.0 L749.6,1280.4 L743.3,1277.9 L737.1,1275.4 L730.8,1272.8 L724.6,1270.4 L718.3,1268.2 L712.2,1265.8 L706.2,1262.8 L700.3,1259.2 L694.3,1254.9 L688.2,1250.3 L681.6,1245.4 L674.5,1240.1 L667.0,1234.4 L659.3,1228.5 L651.7,1222.7 L644.1,1217.1 L636.6,1211.6 L629.1,1206.0 L621.9,1200.2 L614.9,1194.2 L608.0,1187.9 L601.3,1181.6 L594.6,1175.2 L588.1,1169.0 L581.7,1162.9 L575.6,1156.7 L569.9,1150.4 L564.2,1143.2 L558.6,1135.3 L553.6,1128.2 L550.2,1123.1Z"/>
<path d="M639.8,1211.2 L645.1,1211.9 L652.7,1212.8 L661.4,1213.6 L670.1,1213.6 L678.8,1212.6 L688.0,1210.8 L697.0,1208.8 L705.2,1207.2 L711.8,1206.0 L717.5,1204.8 L723.2,1203.9 L730.0,1203.4 L738.8,1203.2 L748.7,1203.3 L758.7,1203.7 L767.4,1204.5 L774.5,1205.5 L780.6,1206.9 L786.3,1208.5 L792.3,1210.6 L798.5,1213.3 L804.7,1216.4 L811.0,1219.8 L817.2,1223.0 L823.6,1226.2 L830.1,1229.4 L836.4,1232.5 L842.3,1235.4 L848.1,1238.3 L853.9,1241.2 L858.8,1243.6 L862.3,1245.4 L862.7,1244.6 L859.2,1242.9 L854.3,1240.4 L848.5,1237.5 L842.7,1234.6 L836.8,1231.6 L830.5,1228.4 L824.1,1225.2 L817.8,1222.0 L811.5,1218.7 L805.3,1215.3 L799.0,1212.1 L792.7,1209.4 L786.8,1207.2 L781.0,1205.5 L774.8,1204.1 L767.6,1203.0 L758.8,1202.2 L748.8,1201.7 L738.8,1201.5 L730.0,1201.6 L723.0,1202.1 L717.2,1203.0 L711.5,1204.1 L704.8,1205.3 L696.6,1206.9 L687.6,1208.7 L678.5,1210.4 L669.9,1211.4 L661.5,1211.3 L652.9,1210.5 L645.4,1209.4 L640.2,1208.8Z"/>
<path d="M703.5,1265.9 L705.9,1269.5 L709.2,1274.7 L712.9,1280.4 L716.1,1285.8 L718.9,1290.8 L721.6,1295.7 L724.0,1300.6 L726.1,1305.5 L727.7,1310.3 L728.9,1315.2 L730.0,1320.1 L731.2,1325.3 L732.5,1330.7 L733.9,1336.2 L735.2,1341.9 L736.2,1347.7 L736.9,1353.7 L737.2,1359.9 L737.7,1366.3 L738.9,1372.8 L740.8,1379.1 L743.2,1385.4 L746.0,1391.7 L749.1,1398.0 L752.4,1404.3 L756.0,1410.6 L760.0,1416.9 L764.3,1423.0 L769.8,1429.7 L776.3,1436.8 L781.8,1442.6 L784.3,1445.3 L783.3,1442.5 L777.8,1437.2 L772.4,1431.7 L769.7,1430.6 L772.4,1433.1 L778.2,1438.6 L785.3,1445.0 L792.2,1450.4 L799.4,1454.9 L807.4,1459.2 L814.7,1462.8 L819.8,1465.4 L820.2,1464.6 L815.1,1462.0 L807.9,1458.3 L799.9,1454.0 L792.8,1449.6 L786.0,1444.1 L779.0,1437.7 L773.3,1432.2 L770.3,1429.4 L771.4,1432.6 L776.8,1438.2 L782.3,1443.6 L785.7,1444.7 L782.9,1441.5 L777.5,1435.7 L771.1,1428.6 L765.7,1422.0 L761.6,1415.9 L757.7,1409.7 L754.2,1403.3 L750.9,1397.0 L747.9,1390.8 L745.2,1384.6 L742.9,1378.4 L741.1,1372.2 L740.1,1366.0 L739.6,1359.8 L739.4,1353.5 L738.8,1347.3 L737.7,1341.4 L736.5,1335.6 L735.1,1330.1 L733.8,1324.7 L732.7,1319.5 L731.7,1314.5 L730.5,1309.5 L728.9,1304.5 L726.8,1299.4 L724.3,1294.3 L721.7,1289.2 L718.9,1284.2 L715.7,1278.7 L712.0,1272.8 L708.8,1267.7 L706.5,1264.1Z"/>
<path d="M734.3,1354.3 L731.5,1356.9 L727.5,1360.6 L723.1,1364.9 L719.3,1369.5 L716.2,1374.0 L713.2,1378.8 L710.8,1384.1 L709.2,1389.9 L708.6,1396.3 L708.7,1403.3 L709.5,1410.5 L710.6,1417.6 L712.3,1424.9 L714.7,1432.5 L717.2,1439.6 L719.5,1445.2 L721.5,1448.8 L723.3,1450.9 L725.1,1452.6 L727.1,1455.3 L729.7,1459.7 L732.6,1465.2 L735.3,1470.4 L737.1,1473.9 L737.9,1473.6 L736.0,1470.0 L733.4,1464.8 L730.5,1459.3 L727.9,1454.7 L725.9,1452.0 L724.0,1450.2 L722.3,1448.2 L720.5,1444.8 L718.3,1439.2 L715.8,1432.2 L713.5,1424.6 L711.9,1417.4 L710.8,1410.4 L710.2,1403.2 L710.1,1396.4 L710.8,1390.1 L712.3,1384.6 L714.7,1379.6 L717.6,1374.9 L720.7,1370.5 L724.4,1366.2 L728.8,1361.9 L732.8,1358.3 L735.7,1355.7Z"/>
<path d="M801.3,1312.4 L801.0,1315.5 L800.5,1319.9 L799.9,1324.8 L798.9,1329.7 L797.5,1334.5 L795.7,1339.5 L793.7,1344.6 L791.6,1349.6 L789.4,1354.7 L787.0,1359.8 L784.7,1364.9 L783.0,1369.8 L782.0,1374.4 L781.4,1378.7 L781.3,1383.0 L781.8,1387.6 L783.0,1392.6 L784.7,1397.9 L786.9,1403.1 L789.6,1407.8 L793.2,1412.0 L797.7,1416.0 L801.9,1419.3 L804.7,1421.6 L805.3,1420.9 L802.4,1418.6 L798.3,1415.3 L793.9,1411.4 L790.4,1407.2 L787.9,1402.6 L785.8,1397.5 L784.2,1392.3 L783.2,1387.4 L782.7,1383.0 L782.8,1378.8 L783.5,1374.6 L784.5,1370.2 L786.2,1365.5 L788.5,1360.5 L791.0,1355.4 L793.4,1350.4 L795.5,1345.3 L797.6,1340.2 L799.5,1335.2 L801.1,1330.3 L802.2,1325.2 L802.9,1320.1 L803.4,1315.7 L803.7,1312.6Z"/>
<path d="M831.8,1358.6 L835.5,1360.8 L840.8,1364.1 L847.3,1367.8 L854.6,1371.0 L863.0,1373.7 L872.6,1376.1 L882.6,1378.4 L892.3,1380.8 L902.0,1383.2 L911.9,1385.4 L921.3,1387.8 L929.8,1390.6 L937.2,1393.9 L943.9,1397.5 L949.8,1401.4 L954.6,1405.4 L958.4,1409.9 L961.2,1414.9 L963.2,1419.5 L964.6,1422.7 L965.4,1422.3 L963.9,1419.1 L962.0,1414.5 L959.2,1409.3 L955.4,1404.6 L950.4,1400.5 L944.5,1396.5 L937.8,1392.8 L930.2,1389.4 L921.7,1386.5 L912.2,1384.0 L902.4,1381.6 L892.7,1379.2 L883.0,1376.7 L873.0,1374.2 L863.6,1371.7 L855.4,1369.0 L848.3,1365.8 L842.0,1362.1 L836.8,1358.8 L833.2,1356.4Z"/>
<path d="M556.4,1206.4 L560.4,1209.6 L566.2,1214.2 L572.8,1219.3 L579.2,1223.7 L585.4,1227.1 L591.8,1229.9 L598.1,1232.8 L604.4,1236.0 L610.8,1239.9 L617.2,1244.1 L623.5,1248.6 L629.4,1253.2 L634.9,1258.0 L640.2,1263.1 L645.1,1268.1 L649.5,1272.9 L653.3,1277.6 L656.5,1282.1 L659.4,1286.4 L662.1,1290.3 L664.5,1293.8 L666.7,1297.0 L668.4,1299.6 L669.7,1301.5 L670.3,1301.0 L669.1,1299.1 L667.4,1296.5 L665.3,1293.2 L662.9,1289.7 L660.4,1285.8 L657.5,1281.5 L654.3,1276.8 L650.5,1272.1 L646.2,1267.1 L641.4,1261.9 L636.1,1256.8 L630.6,1251.8 L624.7,1247.0 L618.4,1242.4 L612.0,1238.0 L605.6,1234.0 L599.2,1230.5 L592.9,1227.6 L586.7,1224.6 L580.8,1221.3 L574.6,1216.8 L568.2,1211.7 L562.6,1207.0 L558.6,1203.6Z"/>
<path d="M573.8,1165.2 L574.6,1169.9 L575.8,1176.6 L577.3,1183.9 L579.2,1190.3 L581.4,1195.3 L583.9,1199.8 L586.6,1203.9 L589.5,1207.9 L592.8,1212.1 L596.5,1216.4 L599.9,1220.2 L602.2,1222.8 L602.8,1222.2 L600.5,1219.6 L597.3,1215.8 L593.7,1211.4 L590.5,1207.1 L587.8,1203.1 L585.2,1199.0 L582.8,1194.6 L580.8,1189.7 L579.2,1183.5 L577.9,1176.2 L576.9,1169.5 L576.2,1164.8Z"/>
<path d="M579.3,1264.4 L583.7,1266.0 L589.9,1268.4 L597.1,1271.2 L604.3,1274.2 L611.5,1277.4 L619.2,1281.0 L626.9,1284.8 L634.1,1288.9 L640.8,1293.5 L647.3,1298.6 L653.4,1303.7 L659.0,1308.6 L664.0,1313.1 L668.5,1317.4 L672.6,1321.7 L676.4,1325.9 L680.0,1330.0 L683.3,1333.8 L686.2,1337.9 L688.8,1343.0 L691.1,1349.3 L693.1,1356.5 L694.8,1364.4 L696.3,1372.7 L697.6,1381.9 L698.7,1392.0 L699.6,1401.8 L700.2,1410.1 L700.4,1415.8 L700.3,1420.0 L700.1,1424.2 L700.3,1430.0 L700.9,1438.3 L701.6,1448.0 L702.7,1458.2 L704.2,1467.6 L706.1,1476.4 L708.4,1484.9 L711.2,1492.9 L714.4,1500.3 L718.3,1506.9 L722.8,1512.8 L727.5,1518.1 L732.1,1522.9 L736.7,1527.1 L741.3,1530.7 L745.7,1533.8 L749.7,1536.6 L753.5,1539.1 L757.1,1541.2 L760.2,1542.9 L762.3,1544.1 L762.7,1543.4 L760.6,1542.2 L757.6,1540.5 L754.0,1538.4 L750.3,1535.9 L746.3,1533.1 L741.9,1529.9 L737.3,1526.3 L732.9,1522.1 L728.4,1517.3 L723.7,1512.0 L719.4,1506.2 L715.6,1499.7 L712.5,1492.4 L709.8,1484.5 L707.6,1476.0 L705.8,1467.4 L704.4,1458.0 L703.4,1447.9 L702.7,1438.2 L702.2,1430.0 L702.1,1424.2 L702.2,1420.0 L702.4,1415.8 L702.3,1409.9 L701.7,1401.6 L701.0,1391.8 L699.9,1381.6 L698.7,1372.3 L697.2,1363.9 L695.5,1356.0 L693.6,1348.6 L691.2,1342.0 L688.5,1336.6 L685.5,1332.1 L682.2,1328.2 L678.6,1324.1 L674.7,1319.7 L670.6,1315.4 L666.0,1311.0 L661.0,1306.4 L655.4,1301.4 L649.3,1296.1 L642.8,1290.9 L635.9,1286.1 L628.6,1281.8 L620.8,1277.8 L613.0,1274.1 L605.7,1270.8 L598.5,1267.7 L591.3,1264.8 L585.1,1262.3 L580.7,1260.6Z"/>
<path d="M678.8,1329.9 L678.5,1335.5 L678.2,1343.4 L677.6,1352.0 L676.5,1359.8 L674.6,1366.3 L672.1,1372.4 L669.3,1378.5 L666.7,1384.6 L664.1,1390.9 L661.5,1397.2 L659.0,1403.5 L656.8,1409.8 L654.9,1416.7 L653.2,1423.9 L651.7,1430.4 L650.7,1434.8 L650.4,1435.7 L650.8,1435.2 L650.6,1433.8 L649.4,1435.0 L649.3,1438.6 L649.1,1443.9 L649.2,1449.7 L649.5,1455.1 L650.3,1460.0 L651.4,1465.1 L652.6,1469.5 L653.4,1472.6 L654.1,1472.4 L653.4,1469.3 L652.3,1464.9 L651.2,1459.9 L650.5,1454.9 L650.2,1449.7 L650.2,1443.9 L650.4,1438.7 L650.6,1435.0 L649.6,1434.5 L649.6,1435.4 L650.7,1436.9 L651.8,1435.2 L653.0,1430.7 L654.5,1424.2 L656.2,1417.0 L658.2,1410.2 L660.5,1404.0 L663.0,1397.8 L665.7,1391.6 L668.3,1385.4 L671.0,1379.3 L673.9,1373.2 L676.5,1366.9 L678.5,1360.2 L679.8,1352.3 L680.5,1343.5 L680.9,1335.6 L681.2,1330.1Z"/>
<path d="M705.5,1468.5 L708.6,1470.8 L713.1,1474.1 L718.5,1477.7 L724.5,1481.0 L731.5,1483.5 L739.3,1485.8 L747.3,1488.1 L754.6,1490.8 L761.4,1494.1 L767.9,1497.9 L774.0,1501.8 L779.6,1505.6 L784.7,1509.2 L789.3,1512.8 L793.4,1516.5 L797.0,1520.4 L800.4,1524.6 L803.3,1528.9 L805.6,1533.4 L807.0,1537.6 L807.2,1542.0 L806.4,1546.6 L805.3,1550.8 L804.6,1553.7 L805.4,1553.8 L806.1,1551.0 L807.3,1546.8 L808.2,1542.1 L808.0,1537.4 L806.5,1533.0 L804.2,1528.4 L801.3,1523.9 L798.0,1519.6 L794.3,1515.6 L790.1,1511.8 L785.5,1508.1 L780.4,1504.4 L774.8,1500.5 L768.7,1496.5 L762.2,1492.6 L755.4,1489.2 L747.9,1486.3 L739.9,1483.9 L732.2,1481.6 L725.5,1479.0 L719.7,1475.8 L714.4,1472.2 L710.1,1468.8 L707.0,1466.5Z"/>
<path d="M737.2,1328.4 L739.0,1328.9 L741.5,1329.6 L743.9,1330.6 L745.6,1331.8 L746.6,1333.5 L747.3,1335.6 L747.5,1337.8 L747.2,1339.7 L746.1,1341.7 L744.2,1343.7 L742.1,1345.6 L740.7,1347.0 L741.8,1348.0 L743.2,1346.7 L745.3,1344.8 L747.4,1342.6 L748.8,1340.3 L749.1,1337.8 L748.9,1335.2 L748.1,1332.8 L746.9,1330.7 L744.8,1329.1 L742.1,1328.0 L739.5,1327.2 L737.8,1326.6Z"/>
</g></defs>
<use href="#rootshape" fill="#6b4020" stroke="#6b4020" stroke-width="2.4" stroke-linejoin="round"/>
<use href="#rootshape" fill="#b97a5a"/>
</g>

<!-- soildots -->
<g id="soildots">
<circle cx="360" cy="1147.5" r="8" fill="url(#gdot)"/>
<circle cx="266" cy="1185" r="8" fill="url(#gdot)"/>
<circle cx="451" cy="1185" r="8" fill="url(#gdot)"/>
<circle cx="322" cy="1203" r="8" fill="url(#gdot)"/>
<circle cx="397" cy="1220" r="8" fill="url(#gdot)"/>
<circle cx="371" cy="1245.5" r="8" fill="url(#gdot)"/>
<circle cx="322" cy="1249" r="8" fill="url(#gdot)"/>
<circle cx="254.5" cy="1254" r="8" fill="url(#gdot)"/>
<circle cx="468" cy="1245.5" r="8" fill="url(#gdot)"/>
<circle cx="397" cy="1267" r="8" fill="url(#gdot)"/>
<circle cx="353" cy="1276" r="8" fill="url(#gdot)"/>
<circle cx="300.5" cy="1301" r="8" fill="url(#gdot)"/>
<circle cx="371" cy="1301" r="8" fill="url(#gdot)"/>
<circle cx="425" cy="1301" r="8" fill="url(#gdot)"/>
<circle cx="249" cy="1319.5" r="8" fill="url(#gdot)"/>
<circle cx="482.5" cy="1350.5" r="8" fill="url(#gdot)"/>
<circle cx="335" cy="1369" r="8" fill="url(#gdot)"/>
<circle cx="397" cy="1362.5" r="8" fill="url(#gdot)"/>
<circle cx="560.5" cy="1386.5" r="8" fill="url(#gdot)"/>
<circle cx="467" cy="1424.5" r="8" fill="url(#gdot)"/>
<circle cx="522.5" cy="1442.5" r="8" fill="url(#gdot)"/>
<circle cx="597.5" cy="1459" r="8" fill="url(#gdot)"/>
<circle cx="747" cy="1127" r="8" fill="url(#gdot)"/>
<circle cx="653" cy="1164.5" r="8" fill="url(#gdot)"/>
<circle cx="837.5" cy="1164.5" r="8" fill="url(#gdot)"/>
<circle cx="709" cy="1182.5" r="8" fill="url(#gdot)"/>
<circle cx="784" cy="1199" r="8" fill="url(#gdot)"/>
<circle cx="641" cy="1232.5" r="8" fill="url(#gdot)"/>
<circle cx="709" cy="1228" r="8" fill="url(#gdot)"/>
<circle cx="757" cy="1225" r="8" fill="url(#gdot)"/>
<circle cx="855" cy="1225" r="8" fill="url(#gdot)"/>
<circle cx="784" cy="1245.5" r="8" fill="url(#gdot)"/>
<circle cx="740" cy="1256" r="8" fill="url(#gdot)"/>
<circle cx="687" cy="1280.5" r="8" fill="url(#gdot)"/>
<circle cx="757" cy="1280.5" r="8" fill="url(#gdot)"/>
<circle cx="811" cy="1280.5" r="8" fill="url(#gdot)"/>
<circle cx="635.5" cy="1299" r="8" fill="url(#gdot)"/>
<circle cx="869" cy="1330" r="8" fill="url(#gdot)"/>
<circle cx="722" cy="1347.5" r="8" fill="url(#gdot)"/>
<circle cx="784" cy="1342" r="8" fill="url(#gdot)"/>
<circle cx="651" cy="1424.5" r="8" fill="url(#gdot)"/>
<circle cx="454" cy="1493" r="8" fill="url(#gdot)"/>
<circle cx="522.5" cy="1487.5" r="8" fill="url(#gdot)"/>
<circle cx="571" cy="1485" r="8" fill="url(#gdot)"/>
<circle cx="597.5" cy="1505.75" r="8" fill="url(#gdot)"/>
<circle cx="553" cy="1515.75" r="8" fill="url(#gdot)"/>
<circle cx="501" cy="1540.75" r="8" fill="url(#gdot)"/>
<circle cx="571" cy="1540.75" r="8" fill="url(#gdot)"/>
<circle cx="625.5" cy="1540.75" r="8" fill="url(#gdot)"/>
<circle cx="448.75" cy="1558" r="8" fill="url(#gdot)"/>
<circle cx="597.5" cy="1602.5" r="8" fill="url(#gdot)"/>
<circle cx="535" cy="1608" r="8" fill="url(#gdot)"/>
<circle cx="668.75" cy="1485" r="8" fill="url(#gdot)"/>
<circle cx="682.5" cy="1590" r="8" fill="url(#gdot)"/>
</g>

<!-- leafcircle -->
<g id="leafcircle">
<clipPath id="cleaf2"><ellipse cx="1300.5" cy="343.5" rx="294" ry="290.5"/></clipPath>
<ellipse cx="1300.5" cy="343.5" rx="296.5" ry="293" fill="#fff"/>
<g clip-path="url(#cleaf2)">
<rect x="1000" y="40" width="600" height="52" fill="#a3dfb1"/>
<rect x="1000" y="607" width="600" height="40" fill="#a3dfb1"/>
<rect x="963" y="86" width="132" height="59" rx="11" fill="#50be73" stroke="#3da664" stroke-width="1.5"/>
<rect x="1097" y="86" width="132" height="59" rx="11" fill="#50be73" stroke="#3da664" stroke-width="1.5"/>
<rect x="1235" y="86" width="132" height="59" rx="11" fill="#50be73" stroke="#3da664" stroke-width="1.5"/>
<rect x="1372" y="86" width="132" height="59" rx="11" fill="#50be73" stroke="#3da664" stroke-width="1.5"/>
<rect x="1509" y="86" width="132" height="59" rx="11" fill="#50be73" stroke="#3da664" stroke-width="1.5"/>
<circle cx="1126" cy="119" r="15" fill="#0ba84b"/>
<circle cx="1263" cy="116" r="15" fill="#0ba84b"/>
<circle cx="1400" cy="116" r="15" fill="#0ba84b"/>
<circle cx="1540" cy="117" r="15" fill="#0ba84b"/>
<path d="M986.5,166 Q986.5,146.5 1005.5,146.5 H1045.0 Q1064.0,146.5 1064.0,166 V308 Q1064.0,322.5 1049.5,322.5 H1001.0 Q986.5,322.5 986.5,308Z" fill="#50be73" stroke="#3da664" stroke-width="1.5"/>
<path d="M1066,166 Q1066,146.5 1085,146.5 H1124.5 Q1143.5,146.5 1143.5,166 V308 Q1143.5,322.5 1129,322.5 H1080.5 Q1066,322.5 1066,308Z" fill="#50be73" stroke="#3da664" stroke-width="1.5"/>
<path d="M1147.5,166 Q1147.5,146.5 1166.5,146.5 H1206.0 Q1225.0,146.5 1225.0,166 V308 Q1225.0,322.5 1210.5,322.5 H1162.0 Q1147.5,322.5 1147.5,308Z" fill="#50be73" stroke="#3da664" stroke-width="1.5"/>
<path d="M1228.75,166 Q1228.75,146.5 1247.75,146.5 H1287.25 Q1306.25,146.5 1306.25,166 V308 Q1306.25,322.5 1291.75,322.5 H1243.25 Q1228.75,322.5 1228.75,308Z" fill="#50be73" stroke="#3da664" stroke-width="1.5"/>
<path d="M1308.75,166 Q1308.75,146.5 1327.75,146.5 H1367.25 Q1386.25,146.5 1386.25,166 V308 Q1386.25,322.5 1371.75,322.5 H1323.25 Q1308.75,322.5 1308.75,308Z" fill="#50be73" stroke="#3da664" stroke-width="1.5"/>
<path d="M1387.5,166 Q1387.5,146.5 1406.5,146.5 H1446.0 Q1465.0,146.5 1465.0,166 V308 Q1465.0,322.5 1450.5,322.5 H1402.0 Q1387.5,322.5 1387.5,308Z" fill="#50be73" stroke="#3da664" stroke-width="1.5"/>
<path d="M1467.5,166 Q1467.5,146.5 1486.5,146.5 H1526.0 Q1545.0,146.5 1545.0,166 V308 Q1545.0,322.5 1530.5,322.5 H1482.0 Q1467.5,322.5 1467.5,308Z" fill="#50be73" stroke="#3da664" stroke-width="1.5"/>
<path d="M1548.75,166 Q1548.75,146.5 1567.75,146.5 H1607.25 Q1626.25,146.5 1626.25,166 V308 Q1626.25,322.5 1611.75,322.5 H1563.25 Q1548.75,322.5 1548.75,308Z" fill="#50be73" stroke="#3da664" stroke-width="1.5"/>
<circle cx="1028.75" cy="283.75" r="19" fill="#0ba84b"/>
<circle cx="1105" cy="283.75" r="19" fill="#0ba84b"/>
<circle cx="1186" cy="283.75" r="19" fill="#0ba84b"/>
<circle cx="1267" cy="283.75" r="19" fill="#0ba84b"/>
<circle cx="1347" cy="283.75" r="19" fill="#0ba84b"/>
<circle cx="1426.75" cy="283.75" r="19" fill="#0ba84b"/>
<circle cx="1506" cy="283.75" r="19" fill="#0ba84b"/>
<circle cx="1587" cy="283.75" r="19" fill="#0ba84b"/>
<path d="M1400,182 Q1405,170 1420,170 Q1440,172 1452,192 Q1458,212 1447,231 Q1436,244 1423,243 Q1413,240 1413,222 Q1412,205 1403,193 Q1399,187 1400,182Z" fill="#90dcf8"/>
<path d="M1030,240 Q1034,215 1048,195 L1056,200 Q1058,225 1052,238 Q1040,247 1030,240Z" fill="#90dcf8"/>
<circle cx="1176" cy="364" r="37.5" fill="#50be73" stroke="#3da664" stroke-width="1.5"/>
<circle cx="1265" cy="391" r="37.5" fill="#50be73" stroke="#3da664" stroke-width="1.5"/>
<circle cx="1341" cy="406" r="37.5" fill="#50be73" stroke="#3da664" stroke-width="1.5"/>
<circle cx="1204" cy="435" r="37.5" fill="#50be73" stroke="#3da664" stroke-width="1.5"/>
<circle cx="1520" cy="364" r="37.5" fill="#50be73" stroke="#3da664" stroke-width="1.5"/>
<circle cx="1462.5" cy="416" r="37.5" fill="#50be73" stroke="#3da664" stroke-width="1.5"/>
<circle cx="1402.5" cy="455" r="35" fill="#50be73" stroke="#3da664" stroke-width="1.5"/>
<circle cx="1447.5" cy="512.5" r="37.5" fill="#50be73" stroke="#3da664" stroke-width="1.5"/>
<circle cx="1116" cy="512.5" r="37.5" fill="#50be73" stroke="#3da664" stroke-width="1.5"/>
<circle cx="1192.5" cy="509" r="37.5" fill="#50be73" stroke="#3da664" stroke-width="1.5"/>
<circle cx="1052.5" cy="470" r="37.5" fill="#50be73" stroke="#3da664" stroke-width="1.5"/>
<circle cx="992.5" cy="366" r="37.5" fill="#50be73" stroke="#3da664" stroke-width="1.5"/>
<circle cx="1590" cy="410" r="37.5" fill="#50be73" stroke="#3da664" stroke-width="1.5"/>
<circle cx="1171" cy="367.5" r="21" fill="#3bb766"/><circle cx="1171" cy="367.5" r="16.5" fill="#0ba84b"/>
<circle cx="1259" cy="396" r="21" fill="#3bb766"/><circle cx="1259" cy="396" r="16.5" fill="#0ba84b"/>
<circle cx="1336" cy="410" r="21" fill="#3bb766"/><circle cx="1336" cy="410" r="16.5" fill="#0ba84b"/>
<circle cx="1199" cy="439" r="21" fill="#3bb766"/><circle cx="1199" cy="439" r="16.5" fill="#0ba84b"/>
<circle cx="1514" cy="367.5" r="21" fill="#3bb766"/><circle cx="1514" cy="367.5" r="16.5" fill="#0ba84b"/>
<circle cx="1456" cy="420" r="21" fill="#3bb766"/><circle cx="1456" cy="420" r="16.5" fill="#0ba84b"/>
<circle cx="1396" cy="459" r="21" fill="#3bb766"/><circle cx="1396" cy="459" r="16.5" fill="#0ba84b"/>
<circle cx="1441" cy="517.5" r="21" fill="#3bb766"/><circle cx="1441" cy="517.5" r="16.5" fill="#0ba84b"/>
<circle cx="1111" cy="517.5" r="21" fill="#3bb766"/><circle cx="1111" cy="517.5" r="16.5" fill="#0ba84b"/>
<circle cx="1187.5" cy="512.5" r="21" fill="#3bb766"/><circle cx="1187.5" cy="512.5" r="16.5" fill="#0ba84b"/>
<circle cx="1047.5" cy="472.5" r="21" fill="#3bb766"/><circle cx="1047.5" cy="472.5" r="16.5" fill="#0ba84b"/>
<circle cx="985" cy="368" r="21" fill="#3bb766"/><circle cx="985" cy="368" r="16.5" fill="#0ba84b"/>
<circle cx="1583" cy="413" r="21" fill="#3bb766"/><circle cx="1583" cy="413" r="16.5" fill="#0ba84b"/>
<rect x="1097" y="547.5" width="137" height="61" rx="11" fill="#50be73" stroke="#3da664" stroke-width="1.5"/>
<rect x="1371" y="547.5" width="132" height="61" rx="11" fill="#50be73" stroke="#3da664" stroke-width="1.5"/>
<rect x="960" y="547.5" width="132" height="61" rx="11" fill="#50be73" stroke="#3da664" stroke-width="1.5"/>
<rect x="1508" y="547.5" width="132" height="61" rx="11" fill="#50be73" stroke="#3da664" stroke-width="1.5"/>
<circle cx="1132.5" cy="577.5" r="15" fill="#0ba84b"/><circle cx="1397.5" cy="577.5" r="15" fill="#0ba84b"/>
<path d="M1258.75,542 C1274.75,542 1288.75,568 1288.75,588 C1288.75,606 1275.75,616 1258.75,616 C1241.75,616 1228.75,606 1228.75,588 C1228.75,568 1242.75,542 1258.75,542Z" fill="#a7e36f" stroke="#8fd15f" stroke-width="1.5"/>
<path d="M1345,542 C1361,542 1375,568 1375,588 C1375,606 1362,616 1345,616 C1328,616 1315,606 1315,588 C1315,568 1329,542 1345,542Z" fill="#a7e36f" stroke="#8fd15f" stroke-width="1.5"/>
<circle cx="1215" cy="162.5" r="13.5" fill="url(#gdotb)"/>
<circle cx="1304" cy="263.75" r="13.5" fill="url(#gdotb)"/>
<circle cx="1122.5" cy="374.5" r="13.5" fill="url(#gdotb)"/>
<circle cx="1397" cy="374.5" r="13.5" fill="url(#gdotb)"/>
<circle cx="1304" cy="498" r="13.5" fill="url(#gdotb)"/>
<circle cx="1254" cy="514" r="13.5" fill="url(#gdotb)"/>
<circle cx="1438.75" cy="579" r="13.5" fill="url(#gdotb)"/>
<circle cx="1300" cy="610.75" r="13.5" fill="url(#gdotb)"/>
</g>
<ellipse cx="1300.5" cy="343.5" rx="296.5" ry="293" fill="none" stroke="#111" stroke-width="6"/>
<path d="M1585,245 L1705,198" stroke="url(#gstom)" stroke-width="4" fill="none"/>
<path d="M1727.5,188.5 L1695,185.5 L1706,212.5Z" fill="#222"/>
</g>

<!-- rootcircle -->
<g id="rootcircle">
<clipPath id="croot2"><circle cx="1328" cy="1000.5" r="300.5"/></clipPath>
<circle cx="1328" cy="1000.5" r="302" fill="#fff"/>
<g clip-path="url(#croot2)">
<path d="M1217,964A469,469 0 1 1 2155,964A469,469 0 1 1 1217,964ZM1496,964A190,190 0 1 0 1876,964A190,190 0 1 0 1496,964Z" fill="#f8e0d6" fill-rule="evenodd"/>
<defs><g id="cxc"><path d="M1400.4,1323.3A459,459 0 0 1 1366.3,1293.4L1381.8,1277.5A437,437 0 0 0 1414.2,1305.9Z"/><path d="M1357.0,1285.1A460,460 0 0 1 1327.1,1251.4L1345.6,1236.7A436,436 0 0 0 1373.8,1268.6Z"/><path d="M1319.5,1241.5A460,460 0 0 1 1297.3,1209.5L1317.1,1197.0A436,436 0 0 0 1338.2,1227.4Z"/><path d="M1291.1,1198.6A459,459 0 0 1 1268.2,1154.9L1289.1,1145.4A436,436 0 0 0 1310.9,1186.9Z"/><path d="M1262.5,1143.8A460,460 0 0 1 1246.5,1100.0L1267.6,1093.4A438,438 0 0 0 1282.8,1135.2Z"/><path d="M1244.0,1087.7A459,459 0 0 1 1234.3,1045.4L1254.9,1041.7A438,438 0 0 0 1264.1,1082.0Z"/><path d="M1232.0,1033.1A459,459 0 0 1 1227.2,983.6L1249.7,982.6A437,437 0 0 0 1254.3,1029.7Z"/><path d="M1225.5,971.1A461,461 0 0 1 1226.6,931.4L1250.4,933.1A437,437 0 0 0 1249.3,970.7Z"/><path d="M1228.0,919.0A460,460 0 0 1 1233.8,878.9L1256.3,883.1A437,437 0 0 0 1250.8,921.2Z"/><path d="M1237.4,866.8A459,459 0 0 1 1248.4,825.2L1269.3,831.8A437,437 0 0 0 1258.7,871.5Z"/><path d="M1251.2,813.0A460,460 0 0 1 1265.5,776.8L1287.2,786.5A437,437 0 0 0 1273.7,820.8Z"/><path d="M1270.9,765.6A460,460 0 0 1 1291.7,726.9L1311.7,738.9A437,437 0 0 0 1292.0,775.6Z"/><path d="M1298.0,716.0A460,460 0 0 1 1323.6,679.9L1342.3,694.6A437,437 0 0 0 1318.0,728.8Z"/><path d="M1331.8,670.4A460,460 0 0 1 1364.1,635.4L1380.5,652.1A437,437 0 0 0 1349.9,685.4Z"/><path d="M1474.1,1331.5A424,424 0 0 1 1438.9,1308.8L1451.5,1291.3A403,403 0 0 0 1484.8,1312.8Z"/><path d="M1428.2,1302.2A425,425 0 0 1 1395.5,1274.6L1412.0,1257.0A401,401 0 0 0 1442.8,1283.1Z"/><path d="M1386.2,1266.2A426,426 0 0 1 1355.0,1231.6L1373.2,1216.9A402,402 0 0 0 1402.7,1249.6Z"/><path d="M1347.7,1221.4A425,425 0 0 1 1324.8,1188.1L1344.0,1176.2A402,402 0 0 0 1365.7,1207.7Z"/><path d="M1317.9,1177.6A426,426 0 0 1 1297.8,1138.4L1319.3,1128.7A402,402 0 0 0 1338.3,1165.7Z"/><path d="M1293.1,1126.7A425,425 0 0 1 1277.0,1080.5L1299.3,1074.2A402,402 0 0 0 1314.5,1117.8Z"/><path d="M1273.8,1068.4A425,425 0 0 1 1266.3,1032.1L1288.7,1028.4A403,403 0 0 0 1295.8,1062.8Z"/><path d="M1265.2,1019.6A424,424 0 0 1 1261.6,970.2L1283.3,969.9A403,403 0 0 0 1286.7,1016.7Z"/><path d="M1262.1,957.7A424,424 0 0 1 1264.7,916.5L1286.1,918.9A402,402 0 0 0 1283.6,958.0Z"/><path d="M1266.1,904.1A424,424 0 0 1 1274.2,862.5L1296.2,867.9A401,401 0 0 0 1288.6,907.3Z"/><path d="M1277.3,850.4A424,424 0 0 1 1288.8,815.2L1309.0,822.7A403,403 0 0 0 1298.1,856.1Z"/><path d="M1292.0,803.0A426,426 0 0 1 1308.7,767.0L1329.7,778.0A402,402 0 0 0 1314.0,812.0Z"/><path d="M1315.2,756.3A425,425 0 0 1 1334.9,724.5L1353.9,737.5A402,402 0 0 0 1335.3,767.5Z"/><path d="M1341.6,713.9A426,426 0 0 1 1372.0,676.6L1388.9,692.1A403,403 0 0 0 1360.1,727.3Z"/><path d="M1481.1,1295.9A390,390 0 0 1 1450.2,1274.7L1462.9,1258.0A369,369 0 0 0 1492.1,1278.0Z"/><path d="M1440.5,1266.7A390,390 0 0 1 1412.3,1241.5L1427.5,1226.1A368,368 0 0 0 1454.1,1249.9Z"/><path d="M1402.8,1233.3A391,391 0 0 1 1377.2,1203.5L1394.2,1190.3A369,369 0 0 0 1418.4,1218.4Z"/><path d="M1370.2,1193.0A390,390 0 0 1 1346.7,1156.6L1365.0,1146.2A369,369 0 0 0 1387.2,1180.7Z"/><path d="M1340.2,1145.9A391,391 0 0 1 1322.2,1106.6L1343.2,1098.4A368,368 0 0 0 1360.1,1135.4Z"/><path d="M1318.0,1094.7A390,390 0 0 1 1305.5,1052.0L1325.7,1047.3A370,370 0 0 0 1337.5,1087.8Z"/><path d="M1304.3,1039.4A389,389 0 0 1 1298.6,1000.4L1318.7,998.6A369,369 0 0 0 1324.1,1035.5Z"/><path d="M1297.7,988.0A389,389 0 0 1 1297.4,945.5L1318.2,946.5A368,368 0 0 0 1318.5,986.7Z"/><path d="M1297.7,932.9A390,390 0 0 1 1302.4,896.1L1323.2,899.8A368,368 0 0 0 1318.7,934.6Z"/><path d="M1305.1,883.9A389,389 0 0 1 1313.9,850.0L1334.1,856.1A368,368 0 0 0 1325.8,888.3Z"/><path d="M1318.0,838.1A389,389 0 0 1 1331.1,804.9L1349.4,813.2A369,369 0 0 0 1337.0,844.6Z"/><path d="M1336.1,793.5A389,389 0 0 1 1358.5,753.8L1375.2,764.5A369,369 0 0 0 1354.0,802.2Z"/><path d="M1365.0,743.1A390,390 0 0 1 1387.9,713.1L1403.8,726.6A369,369 0 0 0 1382.2,754.9Z"/><path d="M1395.2,702.8A391,391 0 0 1 1420.5,677.1L1434.8,692.6A370,370 0 0 0 1410.8,716.9Z"/><path d="M1526.5,1282.2A356,356 0 0 1 1489.4,1260.8L1500.2,1244.5A336,336 0 0 0 1535.2,1264.7Z"/><path d="M1479.0,1253.9A356,356 0 0 1 1444.6,1225.9L1457.5,1211.9A337,337 0 0 0 1490.1,1238.4Z"/><path d="M1435.0,1217.8A357,357 0 0 1 1408.6,1188.6L1424.7,1175.5A336,336 0 0 0 1449.6,1203.0Z"/><path d="M1400.6,1178.9A357,357 0 0 1 1375.9,1141.5L1392.8,1131.8A338,338 0 0 0 1416.1,1167.2Z"/><path d="M1370.8,1130.0A356,356 0 0 1 1355.7,1097.5L1373.7,1090.2A337,337 0 0 0 1388.0,1120.9Z"/><path d="M1350.1,1086.2A357,357 0 0 1 1338.0,1045.7L1357.8,1041.0A337,337 0 0 0 1369.1,1079.3Z"/><path d="M1335.3,1033.4A358,358 0 0 1 1330.0,997.0L1350.9,995.0A337,337 0 0 0 1355.9,1029.3Z"/><path d="M1329.1,984.4A358,358 0 0 1 1329.3,939.5L1349.0,940.9A338,338 0 0 0 1348.7,983.3Z"/><path d="M1331.6,927.1A356,356 0 0 1 1338.5,885.0L1356.8,889.1A338,338 0 0 0 1350.2,929.1Z"/><path d="M1341.9,872.9A356,356 0 0 1 1353.9,835.8L1371.8,842.7A337,337 0 0 0 1360.4,877.8Z"/><path d="M1358.2,824.1A356,356 0 0 1 1372.5,794.3L1389.9,803.8A337,337 0 0 0 1376.4,831.8Z"/><path d="M1378.4,783.2A357,357 0 0 1 1401.3,749.0L1416.3,760.3A338,338 0 0 0 1394.6,792.8Z"/><path d="M1408.2,738.5A358,358 0 0 1 1438.3,705.8L1451.9,720.1A338,338 0 0 0 1423.5,750.9Z"/><path d="M1448.5,698.4A356,356 0 0 1 1477.4,675.1L1489.0,691.1A337,337 0 0 0 1461.7,713.1Z"/><path d="M1554.5,1261.4A325,325 0 0 1 1518.9,1243.0L1530.8,1223.2A302,302 0 0 0 1563.9,1240.3Z"/><path d="M1508.2,1236.3A325,325 0 0 1 1476.4,1212.7L1491.9,1194.4A301,301 0 0 0 1521.3,1216.3Z"/><path d="M1466.8,1204.5A325,325 0 0 1 1438.4,1175.1L1455.7,1160.4A303,303 0 0 0 1482.1,1187.7Z"/><path d="M1430.3,1165.4A325,325 0 0 1 1409.7,1136.0L1430.1,1123.3A301,301 0 0 0 1449.2,1150.5Z"/><path d="M1402.9,1125.3A326,326 0 0 1 1387.5,1094.8L1408.7,1085.5A303,303 0 0 0 1423.0,1113.9Z"/><path d="M1382.7,1083.0A326,326 0 0 1 1371.7,1049.9L1394.8,1043.6A302,302 0 0 0 1405.0,1074.3Z"/><path d="M1370.2,1037.2A324,324 0 0 1 1363.8,999.2L1386.3,996.7A301,301 0 0 0 1392.3,1032.1Z"/><path d="M1361.3,986.7A326,326 0 0 1 1360.6,954.7L1383.2,955.3A303,303 0 0 0 1383.8,985.1Z"/><path d="M1360.9,942.0A326,326 0 0 1 1364.6,910.2L1387.4,914.0A303,303 0 0 0 1383.9,943.6Z"/><path d="M1367.8,897.9A325,325 0 0 1 1377.6,861.3L1399.7,868.7A302,302 0 0 0 1390.5,902.6Z"/><path d="M1381.1,849.1A326,326 0 0 1 1393.7,819.9L1415.9,830.8A301,301 0 0 0 1404.2,857.8Z"/><path d="M1399.6,808.7A326,326 0 0 1 1419.6,776.5L1438.9,790.1A302,302 0 0 0 1420.4,819.9Z"/><path d="M1427.3,766.4A326,326 0 0 1 1450.2,739.5L1466.7,755.2A303,303 0 0 0 1445.3,780.2Z"/><path d="M1459.9,731.3A324,324 0 0 1 1484.4,709.7L1498.6,727.7A302,302 0 0 0 1475.8,747.7Z"/><path d="M1586.7,1236.1A290,290 0 0 1 1560.0,1224.8L1569.4,1205.2A268,268 0 0 0 1594.2,1215.7Z"/><path d="M1548.2,1220.0A291,291 0 0 1 1520.3,1202.9L1533.7,1183.6A267,267 0 0 0 1559.3,1199.3Z"/><path d="M1510.5,1194.7A290,290 0 0 1 1486.0,1173.8L1501.1,1157.9A268,268 0 0 0 1523.8,1177.2Z"/><path d="M1477.7,1164.2A289,289 0 0 1 1456.0,1138.9L1473.3,1125.7A267,267 0 0 0 1493.4,1149.1Z"/><path d="M1448.6,1128.6A289,289 0 0 1 1431.7,1101.1L1451.4,1090.4A266,266 0 0 0 1467.0,1115.8Z"/><path d="M1425.1,1090.2A290,290 0 0 1 1411.3,1056.6L1433.5,1049.1A266,266 0 0 0 1446.1,1080.0Z"/><path d="M1407.8,1044.4A290,290 0 0 1 1400.1,1009.7L1422.1,1006.2A267,267 0 0 0 1429.3,1038.2Z"/><path d="M1397.4,997.3A290,290 0 0 1 1395.5,964.0L1418.8,964.0A267,267 0 0 0 1420.5,994.6Z"/><path d="M1396.9,951.3A289,289 0 0 1 1399.6,922.7L1421.5,925.9A267,267 0 0 0 1419.0,952.3Z"/><path d="M1401.1,910.1A290,290 0 0 1 1408.4,880.3L1429.7,886.8A268,268 0 0 0 1423.0,914.2Z"/><path d="M1411.6,868.0A291,291 0 0 1 1424.6,836.7L1445.4,846.9A268,268 0 0 0 1433.4,875.6Z"/><path d="M1431.1,825.8A290,290 0 0 1 1448.2,798.2L1466.7,811.1A267,267 0 0 0 1451.0,836.6Z"/><path d="M1455.8,788.0A290,290 0 0 1 1477.4,762.8L1493.5,778.3A267,267 0 0 0 1473.5,801.5Z"/><path d="M1485.7,753.2A291,291 0 0 1 1511.4,731.5L1525.6,750.5A267,267 0 0 0 1502.1,770.4Z"/><path d="M1603.4,1205.9A256,256 0 0 1 1576.0,1194.7L1584.4,1177.0A236,236 0 0 0 1609.7,1187.3Z"/><path d="M1565.0,1188.2A255,255 0 0 1 1543.4,1175.2L1554.9,1158.2A234,234 0 0 0 1574.7,1170.3Z"/><path d="M1533.5,1167.2A254,254 0 0 1 1514.6,1151.5L1527.7,1137.2A235,235 0 0 0 1545.2,1151.6Z"/><path d="M1504.3,1143.9A256,256 0 0 1 1484.1,1120.9L1499.9,1108.6A236,236 0 0 0 1518.6,1129.8Z"/><path d="M1476.9,1110.3A255,255 0 0 1 1463.3,1088.8L1480.5,1079.1A236,236 0 0 0 1493.0,1099.1Z"/><path d="M1456.9,1077.8A256,256 0 0 1 1446.7,1054.5L1465.4,1047.4A236,236 0 0 0 1474.7,1068.9Z"/><path d="M1443.6,1042.1A255,255 0 0 1 1436.9,1016.9L1455.1,1013.0A236,236 0 0 0 1461.4,1036.4Z"/><path d="M1433.7,1004.6A256,256 0 0 1 1430.7,975.9L1450.2,975.0A236,236 0 0 0 1452.9,1001.5Z"/><path d="M1431.1,963.1A255,255 0 0 1 1432.4,937.6L1452.3,939.7A235,235 0 0 0 1451.0,963.2Z"/><path d="M1434.5,925.1A255,255 0 0 1 1440.1,898.4L1459.4,903.6A234,234 0 0 0 1454.3,928.2Z"/><path d="M1443.2,886.1A255,255 0 0 1 1454.5,857.1L1473.4,865.9A234,234 0 0 0 1463.0,892.5Z"/><path d="M1460.5,845.9A255,255 0 0 1 1475.0,821.6L1491.9,833.1A234,234 0 0 0 1478.6,855.4Z"/><path d="M1482.7,811.6A254,254 0 0 1 1502.1,788.7L1515.8,801.7A235,235 0 0 0 1497.9,823.0Z"/><path d="M1509.9,778.5A256,256 0 0 1 1535.9,756.8L1547.7,773.1A236,236 0 0 0 1523.7,793.1Z"/></g></defs>
<use href="#cxc" fill="#e9a679" stroke="#e9a679" stroke-width="12.5" stroke-linejoin="round"/>
<use href="#cxc" fill="#fcd6ad" stroke="#fcd6ad" stroke-width="8.5" stroke-linejoin="round"/>
<path d="M1461.5,1352.8A449,449 0 0 1 1461.5,575.2" fill="none" stroke="#ff8b1c" stroke-width="5"/>
<defs><g id="epc"><path d="M1385.9,1352.6A491,491 0 0 1 1338.1,1310.4L1350.1,1298.4A474,474 0 0 0 1396.3,1339.2Z"/><path d="M1326.5,1298.4A491,491 0 0 1 1286.1,1248.9L1300.0,1239.1A474,474 0 0 0 1338.9,1286.8Z"/><path d="M1276.7,1235.2A491,491 0 0 1 1245.0,1179.8L1260.2,1172.3A474,474 0 0 0 1290.9,1225.8Z"/><path d="M1237.9,1164.7A491,491 0 0 1 1215.6,1104.9L1231.9,1100.0A474,474 0 0 0 1253.4,1157.7Z"/><path d="M1211.1,1088.8A491,491 0 0 1 1199.0,1026.2L1215.8,1024.0A474,474 0 0 0 1227.6,1084.5Z"/><path d="M1196.2,929.1A491,491 0 0 1 1204.9,865.9L1221.6,869.3A474,474 0 0 0 1213.2,930.3Z"/><path d="M1208.5,849.6A491,491 0 0 1 1227.4,788.6L1243.3,794.7A474,474 0 0 0 1225.0,853.6Z"/><path d="M1233.6,773.1A491,491 0 0 1 1262.2,716.1L1276.9,724.7A474,474 0 0 0 1249.3,779.7Z"/><path d="M1270.9,701.8A491,491 0 0 1 1308.4,650.2L1321.4,661.1A474,474 0 0 0 1285.2,710.9Z"/></g></defs>
<use href="#epc" fill="#e28c73" stroke="#e28c73" stroke-width="16" stroke-linejoin="round"/>
<use href="#epc" fill="#f2ab95" stroke="#f2ab95" stroke-width="11" stroke-linejoin="round"/>
<path d="M1197.1,1009.6A491,491 0 0 1 1195.3,945.8L1212.3,946.4A474,474 0 0 0 1214.0,1008.0Z" fill="#e28c73" stroke="#e28c73" stroke-width="16" stroke-linejoin="round"/>
<path d="M1190,966 C1172,975 1150,977 1132,978 C1100,981 1078,998 1062,1020 C1052,1036 1048,1050 1050,1062" fill="none" stroke="#e28c73" stroke-width="16" stroke-linecap="round"/>
<path d="M1215,945 Q1196,955 1178,972 Q1196,985 1215,1008Z" fill="#e28c73"/>
<path d="M1197.1,1009.6A491,491 0 0 1 1195.3,945.8L1212.3,946.4A474,474 0 0 0 1214.0,1008.0Z" fill="#f2ab95" stroke="#f2ab95" stroke-width="11" stroke-linejoin="round"/>
<path d="M1190,966 C1172,975 1150,977 1132,978 C1100,981 1078,998 1062,1020 C1052,1036 1048,1050 1050,1062" fill="none" stroke="#f2ab95" stroke-width="11" stroke-linecap="round"/>
<path d="M1213,950 Q1197,958 1184,972 Q1197,983 1213,1003Z" fill="#f2ab95"/>
<g fill="#e3a870" stroke="#e3a870" stroke-width="11" stroke-linejoin="round"><path d="M1592.3,1167.5A224,224 0 0 1 1562.4,1150.8L1569.0,1140.8A212,212 0 0 0 1597.4,1156.6Z"/><path d="M1551.5,1143.1A224,224 0 0 1 1525.7,1120.5L1534.3,1112.1A212,212 0 0 0 1558.7,1133.5Z"/><path d="M1516.6,1110.6A224,224 0 0 1 1496.3,1083.1L1506.4,1076.7A212,212 0 0 0 1525.7,1102.8Z"/><path d="M1489.5,1071.5A224,224 0 0 1 1475.4,1040.3L1486.7,1036.2A212,212 0 0 0 1500.0,1065.8Z"/><path d="M1471.2,1027.6A224,224 0 0 1 1464.0,994.1L1475.9,992.5A212,212 0 0 0 1482.7,1024.2Z"/><path d="M1462.6,980.7A224,224 0 0 1 1462.7,946.5L1474.6,947.4A212,212 0 0 0 1474.6,979.8Z"/><path d="M1464.1,933.1A224,224 0 0 1 1471.4,899.7L1482.9,903.1A212,212 0 0 0 1476.0,934.8Z"/><path d="M1475.7,887.0A224,224 0 0 1 1489.9,855.8L1500.4,861.6A212,212 0 0 0 1486.9,891.1Z"/><path d="M1496.7,844.3A224,224 0 0 1 1517.2,816.8L1526.2,824.7A212,212 0 0 0 1506.8,850.7Z"/><path d="M1526.3,807.0A224,224 0 0 1 1552.1,784.4L1559.3,794.1A212,212 0 0 0 1534.8,815.4Z"/><path d="M1563.1,776.7A224,224 0 0 1 1593.1,760.2L1598.0,771.1A212,212 0 0 0 1569.7,786.8Z"/><path d="M1605.4,755.0A224,224 0 0 1 1638.2,745.2L1640.8,756.9A212,212 0 0 0 1609.7,766.2Z"/></g>
<g fill="#ecbb84" stroke="#ecbb84" stroke-width="8" stroke-linejoin="round"><path d="M1592.3,1167.5A224,224 0 0 1 1562.4,1150.8L1569.0,1140.8A212,212 0 0 0 1597.4,1156.6Z"/><path d="M1551.5,1143.1A224,224 0 0 1 1525.7,1120.5L1534.3,1112.1A212,212 0 0 0 1558.7,1133.5Z"/><path d="M1516.6,1110.6A224,224 0 0 1 1496.3,1083.1L1506.4,1076.7A212,212 0 0 0 1525.7,1102.8Z"/><path d="M1489.5,1071.5A224,224 0 0 1 1475.4,1040.3L1486.7,1036.2A212,212 0 0 0 1500.0,1065.8Z"/><path d="M1471.2,1027.6A224,224 0 0 1 1464.0,994.1L1475.9,992.5A212,212 0 0 0 1482.7,1024.2Z"/><path d="M1462.6,980.7A224,224 0 0 1 1462.7,946.5L1474.6,947.4A212,212 0 0 0 1474.6,979.8Z"/><path d="M1464.1,933.1A224,224 0 0 1 1471.4,899.7L1482.9,903.1A212,212 0 0 0 1476.0,934.8Z"/><path d="M1475.7,887.0A224,224 0 0 1 1489.9,855.8L1500.4,861.6A212,212 0 0 0 1486.9,891.1Z"/><path d="M1496.7,844.3A224,224 0 0 1 1517.2,816.8L1526.2,824.7A212,212 0 0 0 1506.8,850.7Z"/><path d="M1526.3,807.0A224,224 0 0 1 1552.1,784.4L1559.3,794.1A212,212 0 0 0 1534.8,815.4Z"/><path d="M1563.1,776.7A224,224 0 0 1 1593.1,760.2L1598.0,771.1A212,212 0 0 0 1569.7,786.8Z"/><path d="M1605.4,755.0A224,224 0 0 1 1638.2,745.2L1640.8,756.9A212,212 0 0 0 1609.7,766.2Z"/></g>
<circle cx="1686" cy="964" r="207" fill="#a9d9ee"/>
<path d="M1806.1,1117.7L1813.4,1127.1M1797.3,1124.1L1804.1,1134.0M1788.2,1130.1L1794.5,1140.3M1778.7,1135.5L1784.5,1146.1M1769.0,1140.4L1774.1,1151.3M1759.0,1144.8L1763.5,1155.9M1748.8,1148.6L1752.7,1160.0M1738.4,1151.8L1741.7,1163.4M1727.9,1154.5L1730.5,1166.2M1717.2,1156.5L1719.1,1168.3M1706.4,1157.9L1707.6,1169.9M1695.5,1158.8L1696.1,1170.8M1684.6,1159.0L1684.6,1171.0M1673.8,1158.6L1673.0,1170.6M1662.9,1157.6L1661.5,1169.5M1652.1,1156.0L1650.1,1167.9M1641.5,1153.8L1638.7,1165.5M1630.9,1151.1L1627.6,1162.6M1620.6,1147.7L1616.6,1159.0M1610.4,1143.8L1605.8,1154.8M1600.5,1139.3L1595.3,1150.1M1590.9,1134.2L1585.0,1144.7M1581.5,1128.6L1575.1,1138.8M1572.5,1122.6L1565.5,1132.3M1563.8,1116.0L1556.3,1125.3M1555.5,1108.9L1547.5,1117.8M1547.6,1101.4L1539.1,1109.9M1540.2,1093.5L1531.2,1101.4M1533.2,1085.1L1523.8,1092.6M1526.7,1076.4L1516.9,1083.3M1520.6,1067.3L1510.5,1073.7M1515.1,1057.9L1504.6,1063.7M1510.1,1048.3L1499.3,1053.4M1505.7,1038.3L1494.6,1042.9M1501.8,1028.1L1490.5,1032.1M1498.6,1017.7L1487.0,1021.1M1495.8,1007.2L1484.1,1009.9M1493.7,996.5L1481.9,998.5M1492.2,985.7L1480.3,987.1M1491.3,974.9L1479.3,975.6M1491.0,964.0L1479.0,964.0M1491.3,953.1L1479.3,952.4M1492.2,942.3L1480.3,940.9M1493.7,931.5L1481.9,929.5M1495.8,920.8L1484.1,918.1M1498.6,910.3L1487.0,906.9M1501.8,899.9L1490.5,895.9M1505.7,889.7L1494.6,885.1M1510.1,879.7L1499.3,874.6M1515.1,870.1L1504.6,864.3M1520.6,860.7L1510.5,854.3M1526.7,851.6L1516.9,844.7M1533.2,842.9L1523.8,835.4M1540.2,834.5L1531.2,826.6M1547.6,826.6L1539.1,818.1M1555.5,819.1L1547.5,810.2M1563.8,812.0L1556.3,802.7M1572.5,805.4L1565.5,795.7M1581.5,799.4L1575.1,789.2M1590.9,793.8L1585.0,783.3M1600.5,788.7L1595.3,777.9M1610.4,784.2L1605.8,773.2M1620.6,780.3L1616.6,769.0M1630.9,776.9L1627.6,765.4M1641.5,774.2L1638.7,762.5M1652.1,772.0L1650.1,760.1M1662.9,770.4L1661.5,758.5M1673.8,769.4L1673.0,757.4M1684.6,769.0L1684.6,757.0M1695.5,769.2L1696.1,757.2M1706.4,770.1L1707.6,758.1M1717.2,771.5L1719.1,759.7M1727.9,773.5L1730.5,761.8M1738.4,776.2L1741.7,764.6M1748.8,779.4L1752.7,768.0M1759.0,783.2L1763.5,772.1M1769.0,787.6L1774.1,776.7M1778.7,792.5L1784.5,781.9M1788.2,797.9L1794.5,787.7M1797.3,803.9L1804.1,794.0M1806.1,810.3L1813.4,800.9" stroke="#55aedb" stroke-width="1.6" fill="none"/>
<circle cx="1686" cy="964" r="207" fill="none" stroke="#55aedb" stroke-width="1.6"/>
<circle cx="1686" cy="964" r="191" fill="#f8e3dd"/>
<path d="M1636.0,1150.4A193,193 0 0 1 1636.0,777.6" fill="none" stroke="#ff8b1c" stroke-width="4.5"/>
<g fill="#ffc3c9" stroke="#f5828f" stroke-width="2" stroke-linejoin="round"><path d="M1534.3,876.7L1531.0,877.0L1526.8,879.4L1525.5,880.8L1520.8,897.8L1521.2,900.2L1522.7,902.1L1528.4,906.5L1532.6,907.7L1534.6,907.4L1536.6,906.1L1550.8,891.2L1551.9,888.1L1550.9,883.0L1548.8,880.5Z"/><path d="M1551.5,895.2L1539.0,908.8L1538.8,911.2L1539.4,913.1L1541.1,914.8L1554.4,922.5L1557.7,922.2L1560.7,919.8L1561.4,917.3L1561.5,900.3L1560.2,897.7L1556.9,895.0L1554.2,894.3Z"/><path d="M1590.2,912.5L1589.6,907.9L1586.3,902.7L1583.9,900.7L1581.9,900.2L1567.9,900.3L1565.9,901.7L1564.8,904.4L1565.0,918.9L1567.8,921.7L1575.7,924.8L1578.5,924.7L1580.6,923.4L1589.2,914.7Z"/><path d="M1604.7,908.3L1601.4,908.3L1599.1,910.0L1598.1,913.2L1599.4,916.3L1608.3,921.6L1610.7,921.4L1614.6,919.5L1616.3,916.0L1615.0,912.3L1613.4,911.2Z"/><path d="M1606.7,928.0L1606.3,925.6L1604.8,923.7L1595.8,918.1L1593.5,917.4L1589.9,918.5L1581.8,926.9L1580.7,930.2L1582.7,945.1L1587.8,952.0L1589.9,953.0L1591.9,953.1L1601.8,951.2L1604.3,949.6L1605.4,946.8Z"/><path d="M1608.6,947.5L1609.0,950.0L1610.6,951.9L1617.7,955.1L1619.6,955.3L1622.2,954.3L1630.3,946.7L1631.0,944.4L1630.4,940.1L1626.3,923.9L1624.2,921.3L1622.0,920.6L1620.1,920.8L1612.5,924.2L1610.7,925.9L1609.9,928.2Z"/><path d="M1607.8,954.3L1605.4,953.9L1598.0,955.4L1596.0,957.4L1595.4,960.3L1596.1,962.6L1601.5,969.4L1606.0,982.7L1608.2,984.8L1611.1,985.2L1612.9,984.6L1614.7,982.8L1621.8,970.8L1622.2,968.0L1619.7,960.9L1618.5,959.3Z"/><path d="M1624.8,956.3L1623.2,959.8L1624.4,963.8L1627.7,965.8L1631.4,964.8L1633.4,961.5L1633.2,958.7L1632.3,956.9L1630.5,955.4L1628.6,954.9L1626.6,955.2Z"/><path d="M1622.0,1005.3L1623.4,1007.3L1625.1,1008.2L1631.5,1008.3L1634.6,1007.0L1636.2,1004.0L1635.2,978.2L1633.3,975.4L1627.8,973.0L1625.4,973.2L1623.1,975.0L1616.1,987.4L1616.4,989.9Z"/><path d="M1629.0,1011.6L1625.9,1012.9L1624.4,1015.3L1623.1,1030.4L1623.8,1032.8L1626.4,1035.7L1630.0,1036.9L1632.7,1035.9L1634.5,1033.1L1635.6,1016.3L1635.1,1014.4L1633.6,1012.5L1631.3,1011.6Z"/><path d="M1611.5,1059.5L1608.6,1057.2L1606.2,1057.0L1604.4,1057.7L1603.0,1059.1L1602.1,1061.2L1602.8,1065.0L1605.8,1067.2L1609.9,1066.6L1612.2,1063.6L1612.3,1061.7Z"/><path d="M1617.0,1062.7L1618.6,1064.5L1620.8,1065.3L1622.8,1065.1L1626.7,1063.3L1628.2,1061.2L1632.1,1049.4L1632.0,1047.4L1630.9,1045.2L1622.7,1036.5L1620.1,1035.3L1617.8,1035.5L1610.2,1038.4L1608.7,1040.1L1607.6,1044.0L1608.2,1046.9Z"/><path d="M1592.0,1091.5L1591.9,1094.4L1593.8,1097.1L1603.5,1099.8L1606.4,1099.3L1614.9,1094.1L1616.1,1092.6L1616.8,1090.4L1617.7,1074.6L1616.7,1071.9L1614.8,1070.3L1612.5,1069.9L1601.6,1071.4L1599.3,1072.4L1597.6,1074.8Z"/><path d="M1594.6,1101.0L1591.7,1101.2L1589.2,1103.3L1587.6,1108.8L1588.0,1111.6L1589.4,1113.5L1598.0,1119.2L1600.4,1119.8L1602.3,1119.4L1604.3,1117.9L1605.3,1115.2L1603.9,1105.2L1601.5,1102.7Z"/></g>
<path d="M1505.6,926.9L1499.1,946.9L1499.0,947.1L1499.0,947.3L1496.8,974.8L1496.8,975.1L1498.0,1005.1L1498.0,1005.2L1498.0,1005.4L1498.1,1005.6L1505.6,1030.6L1505.6,1030.7L1505.7,1030.9L1518.2,1055.9L1518.4,1056.1L1535.9,1081.1L1536.0,1081.3L1548.5,1096.3L1548.6,1096.4L1548.7,1096.5L1548.9,1096.7L1549.1,1096.8L1549.2,1096.8L1549.4,1096.9L1549.6,1097.0L1549.8,1097.0L1550.0,1097.0L1550.2,1097.0L1550.4,1097.0L1550.5,1096.9L1550.7,1096.9L1550.9,1096.8L1560.9,1091.8L1561.1,1091.7L1561.2,1091.6L1561.4,1091.5L1561.5,1091.3L1561.6,1091.2L1574.1,1073.7L1574.2,1073.5L1574.3,1073.3L1584.3,1050.8L1584.4,1050.7L1584.4,1050.5L1590.7,1025.5L1590.7,1025.3L1590.7,1025.1L1590.7,1024.9L1589.5,999.9L1589.5,999.7L1589.4,999.5L1589.4,999.3L1581.9,979.3L1581.8,979.1L1581.7,979.0L1581.6,978.8L1581.5,978.7L1566.5,961.2L1566.3,961.0L1546.3,943.5L1546.1,943.3L1523.6,928.3L1523.4,928.2L1523.2,928.1L1523.0,928.1L1522.8,928.0L1507.8,925.5L1507.6,925.5L1507.4,925.5L1507.2,925.5L1507.0,925.6L1506.8,925.6L1506.6,925.7L1506.5,925.8L1506.3,925.9L1506.1,926.0L1506.0,926.2L1505.9,926.3L1505.8,926.5L1505.7,926.7L1505.6,926.9Z" fill="#5d9a3e"/>
<g fill="#92c26f"><path d="M1508.9,930.5L1506.7,930.1L1505.1,931.5L1503.4,937.0L1503.8,938.4L1504.9,939.3L1510.8,939.5L1512.8,938.1L1512.5,933.7Z"/><path d="M1515.2,939.4L1516.8,942.0L1518.5,942.9L1527.6,940.6L1528.6,938.3L1526.1,931.3L1522.6,928.9L1520.1,929.3L1514.9,933.6Z"/><path d="M1513.4,951.1L1515.9,945.1L1515.7,943.7L1514.2,941.8L1512.9,941.3L1503.7,941.3L1501.6,942.4L1500.8,945.4L1501.7,949.1L1502.7,950.3L1508.9,953.5L1510.4,953.2Z"/><path d="M1519.3,944.6L1517.6,946.0L1516.4,950.9L1523.1,956.6L1525.4,957.1L1532.2,953.9L1532.7,952.5L1532.3,944.6L1531.3,942.7L1529.5,942.2Z"/><path d="M1538.2,957.8L1539.7,958.5L1541.3,958.2L1547.7,952.2L1548.3,950.9L1545.2,943.9L1539.9,940.6L1535.3,942.2L1534.1,943.9L1534.7,953.9Z"/><path d="M1503.0,952.6L1501.1,952.4L1499.5,953.9L1498.6,963.2L1499.7,965.2L1503.2,966.1L1505.1,965.4L1506.9,962.5L1508.1,956.8L1507.2,954.9Z"/><path d="M1518.9,964.7L1520.6,964.5L1522.4,963.0L1522.9,959.1L1516.0,953.4L1513.7,953.2L1510.2,955.8L1509.6,961.2L1511.0,962.5Z"/><path d="M1526.4,958.6L1524.9,960.4L1525.4,963.2L1532.4,968.7L1533.8,969.0L1535.1,968.4L1538.0,961.9L1537.5,959.7L1534.5,956.7L1533.1,956.1Z"/><path d="M1556.0,957.1L1556.2,955.4L1555.3,954.0L1550.2,952.7L1544.3,957.9L1543.8,960.2L1544.6,961.4L1547.0,962.8L1552.1,962.7L1553.7,961.6Z"/><path d="M1555.2,962.6L1555.0,964.7L1557.2,970.3L1558.4,971.5L1560.8,971.3L1565.9,967.0L1565.4,961.5L1560.3,957.5L1558.8,957.4L1557.6,958.1Z"/><path d="M1497.8,973.7L1498.3,975.5L1500.1,976.4L1504.0,974.2L1505.1,972.3L1504.1,968.8L1500.8,967.5L1499.0,968.1L1498.1,969.6Z"/><path d="M1509.9,974.6L1518.2,973.5L1519.0,972.3L1519.3,968.3L1518.6,966.7L1509.8,964.1L1507.6,964.9L1506.0,968.1L1507.7,973.5Z"/><path d="M1522.2,975.2L1523.9,975.6L1530.0,974.1L1531.6,972.1L1530.9,969.9L1524.3,965.1L1522.4,965.5L1521.3,967.2L1520.9,973.3Z"/><path d="M1536.1,971.6L1536.3,973.9L1540.2,978.1L1546.0,978.0L1547.7,976.6L1546.2,965.1L1545.3,963.9L1542.5,962.4L1540.8,962.3L1539.4,963.3Z"/><path d="M1549.8,976.1L1550.8,977.7L1552.7,978.2L1555.4,977.1L1556.7,974.9L1553.6,965.9L1551.7,964.6L1549.6,964.9L1548.4,966.7Z"/><path d="M1559.2,974.8L1558.3,976.4L1558.7,978.3L1563.7,982.1L1565.1,982.5L1574.6,975.9L1575.4,973.9L1574.2,971.9L1567.5,969.0Z"/><path d="M1498.2,987.7L1498.8,989.3L1500.6,990.1L1508.7,987.5L1509.3,985.5L1508.2,977.7L1507.2,976.3L1504.7,976.1L1498.5,980.6L1498.0,981.9Z"/><path d="M1516.8,991.4L1518.9,991.8L1520.6,990.1L1521.7,977.8L1520.9,976.5L1519.2,975.8L1512.0,976.3L1510.8,977.1L1510.2,978.6L1511.4,987.2Z"/><path d="M1535.7,976.0L1533.4,975.1L1524.2,977.8L1523.6,979.0L1522.7,987.9L1523.5,990.0L1525.1,990.6L1526.8,990.2L1537.2,982.4L1538.1,979.4Z"/><path d="M1549.5,994.1L1551.2,992.0L1550.9,980.9L1548.9,979.8L1540.5,980.5L1539.6,981.7L1539.3,983.4L1542.9,994.5L1545.1,995.6Z"/><path d="M1553.7,994.1L1558.1,996.5L1559.4,996.1L1565.2,991.3L1565.9,989.3L1564.0,984.7L1557.2,979.5L1555.7,979.1L1554.0,979.8L1553.1,981.2L1553.0,992.6Z"/><path d="M1567.6,983.4L1566.6,985.6L1568.2,989.5L1575.4,992.7L1577.3,992.0L1582.7,985.2L1582.5,983.7L1579.0,978.2L1577.2,977.0L1575.6,977.3Z"/><path d="M1515.4,1002.8L1516.3,1001.4L1517.1,994.5L1516.4,993.3L1511.5,989.9L1509.4,989.6L1501.6,991.8L1500.4,992.8L1500.1,994.9L1504.6,1004.1L1512.6,1004.4Z"/><path d="M1531.6,1003.1L1533.9,1002.1L1534.1,999.6L1527.0,992.9L1525.6,992.4L1522.1,992.6L1519.5,994.2L1518.5,999.4L1519.4,1001.5Z"/><path d="M1537.0,999.5L1538.6,1000.1L1540.0,999.8L1541.6,996.9L1538.7,987.4L1537.7,986.3L1536.3,985.9L1530.4,989.8L1529.6,991.8L1530.2,993.4Z"/><path d="M1541.0,1002.1L1540.8,1004.2L1542.1,1005.6L1554.1,1008.5L1556.3,1007.7L1557.9,1004.0L1557.1,998.8L1551.8,995.5L1543.8,998.1Z"/><path d="M1576.1,996.2L1574.8,994.5L1568.8,992.1L1567.4,992.1L1559.9,998.1L1559.4,999.4L1559.6,1001.7L1560.4,1002.8L1561.7,1003.4L1570.3,1003.4L1575.7,999.4L1576.3,998.0Z"/><path d="M1578.4,993.6L1577.7,995.5L1578.7,999.1L1583.8,1004.1L1585.2,1004.6L1586.8,1004.0L1588.4,1001.9L1588.6,999.9L1585.0,990.5L1583.6,989.6L1581.9,989.8Z"/><path d="M1501.5,1008.6L1500.7,1011.0L1503.5,1019.2L1505.6,1019.7L1511.7,1017.5L1512.3,1016.2L1512.4,1008.8L1511.5,1006.8L1510.2,1006.3L1504.5,1006.4Z"/><path d="M1514.1,1014.7L1515.0,1016.7L1517.1,1017.2L1522.9,1015.3L1523.8,1014.1L1523.9,1012.7L1518.5,1005.9L1516.3,1005.3L1515.0,1006.0L1514.3,1007.2Z"/><path d="M1535.8,1005.4L1523.7,1004.6L1522.7,1005.6L1522.9,1008.2L1528.2,1014.3L1530.9,1015.6L1533.0,1015.2L1536.9,1010.6L1537.8,1008.0L1537.3,1006.4Z"/><path d="M1539.3,1009.3L1539.7,1011.8L1545.8,1016.4L1547.8,1016.0L1551.2,1012.2L1550.9,1010.3L1549.3,1009.2L1541.6,1007.5L1540.3,1008.0Z"/><path d="M1561.2,1005.2L1559.2,1006.1L1557.8,1009.4L1560.2,1014.6L1562.5,1015.4L1568.4,1013.6L1569.2,1012.1L1569.5,1008.0L1568.8,1006.1L1567.3,1005.3Z"/><path d="M1582.8,1007.6L1582.5,1005.5L1579.0,1001.9L1577.8,1001.2L1576.1,1001.4L1571.6,1005.2L1571.3,1013.1L1572.7,1014.4L1577.7,1016.2L1579.3,1016.1L1580.6,1014.8Z"/><path d="M1582.4,1015.3L1582.4,1017.0L1583.8,1018.4L1587.2,1018.9L1588.9,1018.0L1589.4,1016.6L1589.1,1009.8L1588.1,1007.9L1586.3,1007.4L1584.6,1008.3Z"/><path d="M1506.4,1021.4L1505.0,1022.4L1504.6,1024.0L1506.9,1030.2L1510.5,1032.4L1511.9,1032.6L1516.4,1029.3L1516.8,1026.8L1513.4,1020.5L1511.6,1019.9Z"/><path d="M1518.6,1026.4L1520.5,1027.7L1526.9,1028.2L1528.2,1027.7L1531.1,1024.6L1530.9,1018.1L1528.3,1016.4L1526.8,1016.1L1517.4,1019.2L1516.5,1020.3L1516.3,1021.7Z"/><path d="M1545.1,1028.4L1546.9,1027.6L1547.5,1026.0L1545.7,1019.3L1539.2,1013.8L1536.7,1013.9L1533.2,1018.0L1533.3,1024.6L1534.4,1025.6L1541.9,1028.4Z"/><path d="M1549.4,1025.5L1550.4,1026.9L1552.3,1027.3L1558.4,1023.7L1559.4,1017.2L1556.5,1012.6L1554.0,1012.7L1548.1,1018.3L1547.8,1020.0Z"/><path d="M1579.0,1021.2L1578.9,1019.4L1577.9,1018.3L1569.4,1015.5L1561.8,1017.8L1561.0,1019.0L1560.5,1023.4L1561.6,1025.2L1567.6,1029.1L1569.0,1029.4L1576.9,1026.7Z"/><path d="M1579.8,1024.8L1579.9,1026.5L1581.0,1027.7L1587.5,1028.5L1589.3,1027.1L1589.7,1023.1L1588.2,1021.1L1582.6,1020.2L1581.0,1021.3Z"/><path d="M1513.6,1034.1L1512.7,1035.5L1512.5,1041.1L1517.6,1046.0L1519.7,1046.2L1527.3,1042.2L1527.2,1032.0L1526.0,1030.2L1519.1,1029.6Z"/><path d="M1531.1,1041.1L1537.6,1041.0L1538.7,1039.7L1540.5,1030.7L1539.0,1029.2L1533.4,1027.1L1531.9,1027.2L1529.6,1028.9L1529.0,1030.3L1529.5,1039.4Z"/><path d="M1548.1,1030.2L1543.4,1030.7L1542.5,1031.9L1540.3,1041.5L1541.0,1042.9L1545.0,1046.2L1547.5,1046.5L1548.9,1045.9L1551.0,1043.5L1551.6,1041.4L1549.7,1031.3Z"/><path d="M1560.4,1026.6L1558.3,1026.3L1553.0,1029.1L1551.9,1030.3L1551.7,1031.7L1553.8,1041.5L1555.1,1042.2L1562.7,1043.1L1564.2,1042.2L1566.4,1038.2L1567.1,1032.1L1566.2,1030.4Z"/><path d="M1578.8,1030.6L1577.9,1029.5L1576.5,1029.1L1570.0,1031.1L1568.9,1032.7L1569.0,1037.2L1570.1,1038.2L1576.0,1040.0L1578.2,1039.7L1580.8,1036.4Z"/><path d="M1582.6,1035.4L1584.4,1036.9L1586.6,1036.3L1587.8,1033.1L1587.2,1031.0L1584.2,1030.1L1582.5,1030.8L1581.7,1032.8Z"/><path d="M1530.9,1053.4L1531.1,1051.0L1528.4,1046.4L1527.3,1045.5L1525.4,1045.6L1520.2,1048.0L1519.2,1049.2L1519.2,1052.9L1523.2,1059.0L1524.4,1059.8L1526.9,1059.2Z"/><path d="M1533.0,1043.1L1531.3,1043.7L1530.5,1045.7L1533.7,1051.2L1539.3,1052.3L1542.6,1049.4L1542.5,1046.7L1539.1,1043.7Z"/><path d="M1554.4,1044.0L1552.4,1044.6L1550.4,1047.5L1553.3,1053.8L1554.9,1054.3L1563.9,1052.9L1565.6,1051.9L1566.0,1049.8L1563.4,1045.4Z"/><path d="M1568.8,1051.3L1571.1,1052.6L1574.3,1051.9L1575.6,1050.9L1576.6,1043.9L1575.5,1041.9L1569.3,1039.9L1567.0,1040.9L1565.6,1044.8Z"/><path d="M1578.0,1048.0L1578.4,1049.7L1580.1,1050.7L1581.5,1050.6L1583.6,1049.2L1585.7,1041.7L1584.8,1039.5L1582.2,1038.8L1579.1,1041.5Z"/><path d="M1529.0,1059.5L1528.6,1061.5L1530.2,1063.2L1537.8,1062.3L1539.4,1060.3L1539.1,1055.5L1537.5,1054.0L1533.5,1053.6Z"/><path d="M1549.2,1050.0L1547.5,1048.7L1545.7,1048.9L1541.0,1054.5L1541.6,1062.1L1546.5,1066.0L1547.9,1065.8L1550.2,1064.3L1551.2,1062.7L1551.8,1055.8Z"/><path d="M1567.9,1057.6L1567.5,1055.7L1565.8,1054.6L1555.1,1056.1L1553.5,1057.8L1553.3,1062.1L1555.0,1063.7L1561.4,1064.4L1566.8,1061.1Z"/><path d="M1569.2,1060.1L1569.6,1062.1L1573.0,1066.0L1575.5,1066.5L1577.0,1065.2L1580.1,1058.0L1580.1,1056.3L1578.8,1054.2L1577.5,1053.5L1571.7,1054.4L1570.1,1055.8Z"/><path d="M1542.7,1076.3L1544.2,1075.7L1545.1,1074.3L1545.7,1069.3L1544.9,1067.4L1540.0,1063.9L1532.3,1065.0L1530.8,1065.8L1530.4,1068.4L1534.2,1075.7L1535.6,1076.3Z"/><path d="M1560.7,1068.3L1559.0,1066.3L1551.8,1065.4L1547.8,1068.5L1547.2,1074.2L1548.4,1075.5L1551.7,1076.7L1559.6,1075.1L1561.0,1073.3Z"/><path d="M1563.6,1065.3L1562.4,1067.4L1563.2,1074.8L1566.9,1078.3L1569.0,1078.5L1573.4,1073.0L1574.1,1071.4L1573.9,1070.0L1568.3,1063.7L1566.4,1063.6Z"/><path d="M1539.8,1078.1L1537.9,1079.0L1537.4,1081.1L1539.0,1083.4L1541.0,1083.9L1542.7,1082.7L1543.0,1080.2L1542.0,1078.5Z"/><path d="M1548.4,1077.4L1546.5,1077.4L1545.0,1078.9L1544.6,1089.5L1547.4,1093.5L1549.3,1094.3L1555.9,1090.4L1556.8,1088.3L1551.3,1079.0Z"/><path d="M1561.3,1088.5L1563.0,1087.6L1566.2,1083.2L1566.4,1080.6L1561.8,1076.7L1555.9,1077.9L1554.7,1079.3L1554.9,1081.2L1559.0,1087.7Z"/></g>
<path d="M1553.0,849.0L1567.5,832.0L1582.0,845.0L1592.0,862.5L1604.0,884.0L1640.0,900.0L1640.0,820.0L1580.0,815.0L1553.0,849.0Z" fill="#5d9a3e"/>
<g fill="#92c26f"><path d="M1574.7,832.9L1574.3,834.6L1574.9,836.1L1581.7,840.9L1583.8,841.1L1586.2,839.2L1586.4,834.1L1580.0,829.0L1578.6,828.7L1577.3,829.3Z"/><path d="M1584.6,842.7L1583.5,844.0L1583.5,845.7L1589.3,856.0L1591.6,857.3L1594.2,856.3L1595.2,854.7L1595.8,847.3L1593.8,843.4L1592.6,842.6L1587.9,841.3Z"/><path d="M1593.9,858.5L1592.5,860.1L1592.8,862.0L1597.3,870.1L1598.8,870.9L1600.5,870.6L1603.2,868.6L1603.9,867.0L1600.3,859.5L1599.3,858.5L1596.8,857.7Z"/><path d="M1608.2,870.9L1607.0,869.7L1605.1,869.6L1600.3,873.4L1600.3,875.5L1603.4,880.1L1605.3,880.2L1609.2,878.8L1610.4,877.6L1610.5,875.7Z"/><path d="M1609.3,880.7L1607.7,882.5L1608.2,884.5L1610.8,886.0L1612.9,885.6L1613.9,883.7L1613.0,881.2L1611.4,880.2Z"/></g>
<g fill="#8fcbe7" stroke="#49a6d8" stroke-width="1.8" stroke-linejoin="round"><path d="M1508.5,921.0L1524.7,925.4L1526.8,924.0L1530.0,915.6L1529.5,913.1L1526.5,911.5L1512.2,907.5L1509.7,907.9L1508.6,909.3L1506.4,917.3L1506.8,919.8Z"/><path d="M1545.1,935.6L1547.1,935.9L1549.0,934.5L1552.8,926.9L1552.6,924.3L1551.4,923.1L1537.1,915.9L1534.2,916.0L1533.2,917.0L1529.3,924.7L1529.5,927.3L1530.8,928.5Z"/><path d="M1550.8,938.8L1564.2,949.4L1566.1,950.1L1568.4,948.9L1573.5,942.4L1573.9,940.7L1572.8,938.4L1560.1,928.5L1558.2,927.9L1556.1,928.9L1550.6,936.2Z"/><path d="M1569.6,953.4L1580.0,966.4L1581.8,967.5L1584.2,966.9L1590.7,961.7L1591.5,960.1L1590.9,957.6L1582.0,946.5L1578.8,943.9L1576.1,944.6L1570.0,951.1Z"/><path d="M1585.0,971.8L1591.6,986.2L1592.8,987.4L1595.3,987.6L1603.0,984.6L1604.3,983.4L1604.6,981.1L1601.5,973.3L1598.2,966.7L1595.7,963.9L1592.9,963.9L1585.9,969.4Z"/><path d="M1594.5,992.9L1596.5,1000.3L1596.6,1007.9L1597.4,1009.4L1599.5,1010.3L1607.8,1010.3L1609.6,1009.4L1610.5,1007.6L1610.5,998.6L1608.6,991.5L1607.1,988.2L1604.4,987.3L1595.9,990.7Z"/><path d="M1596.9,1014.9L1596.1,1023.0L1594.1,1030.4L1594.5,1032.4L1596.0,1033.7L1604.0,1035.9L1606.3,1035.6L1607.6,1034.1L1609.9,1025.6L1610.5,1018.1L1610.1,1014.9L1607.8,1013.3L1598.9,1013.4Z"/><path d="M1591.9,1038.5L1587.0,1053.8L1587.5,1056.1L1588.6,1057.0L1596.5,1060.2L1599.1,1059.8L1600.2,1058.5L1603.2,1050.1L1605.4,1042.2L1604.9,1040.0L1603.5,1038.9L1595.5,1036.7L1593.5,1036.9Z"/><path d="M1584.5,1060.6L1577.5,1075.7L1577.4,1077.5L1578.5,1079.1L1585.7,1083.4L1587.9,1083.7L1589.4,1082.8L1591.0,1080.2L1596.8,1066.8L1597.0,1065.1L1595.4,1063.0L1586.9,1059.7Z"/><path d="M1569.3,1089.3L1564.7,1095.2L1564.3,1097.7L1571.1,1104.7L1573.9,1105.2L1576.3,1103.1L1581.0,1097.0L1585.3,1089.8L1585.5,1087.8L1584.1,1086.0L1577.0,1081.7L1575.6,1081.5L1573.3,1082.7Z"/><path d="M1558.1,1101.9L1557.3,1103.5L1557.6,1105.4L1564.1,1111.9L1566.6,1112.5L1569.1,1110.7L1569.7,1108.8L1569.2,1107.1L1562.8,1100.9L1560.3,1100.3Z"/><path d="M1534.0,875.2L1546.3,868.6L1547.4,867.5L1549.4,857.9L1548.9,856.2L1547.8,855.2L1544.2,854.5L1541.4,855.1L1527.3,863.7L1527.1,866.5L1531.7,874.2Z"/><path d="M1550.8,869.9L1558.3,873.3L1564.8,877.4L1566.8,877.7L1568.7,876.4L1573.2,869.5L1573.5,867.5L1572.4,865.7L1565.0,861.0L1558.2,858.0L1555.0,857.3L1552.8,859.1L1550.0,867.5Z"/><path d="M1571.2,881.4L1586.8,890.2L1588.5,890.5L1590.7,889.1L1594.5,881.5L1594.7,880.0L1593.3,877.9L1579.5,870.3L1577.7,870.0L1575.7,871.1L1570.8,878.9Z"/><path d="M1593.2,893.3L1606.2,902.2L1609.9,903.5L1612.3,902.0L1615.9,893.0L1614.6,890.7L1601.4,882.3L1599.5,881.9L1597.5,883.1L1592.8,891.0Z"/><path d="M1617.1,906.8L1633.2,912.7L1635.5,911.5L1638.9,903.0L1638.6,900.7L1637.0,899.4L1622.1,893.7L1619.5,893.9L1618.3,895.2L1615.4,902.9L1615.6,905.5Z"/><path d="M1554.6,1096.3L1553.8,1098.1L1554.3,1100.1L1561.5,1106.6L1564.3,1106.4L1568.1,1102.1L1568.3,1100.4L1567.7,1099.0L1560.6,1092.7L1558.1,1092.9Z"/><path d="M1543.0,1083.6L1541.9,1085.4L1542.3,1087.4L1548.9,1094.5L1551.7,1094.6L1555.9,1090.6L1556.2,1089.2L1555.8,1087.6L1549.3,1080.7L1546.8,1080.6Z"/><path d="M1532.6,1069.9L1531.4,1071.6L1531.6,1073.7L1537.4,1081.4L1540.3,1081.7L1544.7,1078.1L1545.0,1075.1L1539.1,1067.6L1536.7,1067.3Z"/><path d="M1523.5,1055.4L1522.2,1057.0L1522.2,1059.0L1527.3,1067.2L1530.1,1067.8L1534.9,1064.6L1535.5,1063.1L1535.4,1061.6L1530.3,1053.6L1527.8,1053.1Z"/><path d="M1515.8,1040.0L1514.3,1041.5L1514.1,1043.5L1518.5,1052.1L1521.2,1053.0L1526.2,1050.3L1527.0,1049.1L1527.0,1047.4L1522.7,1038.9L1520.3,1038.1Z"/><path d="M1509.5,1024.0L1507.9,1025.3L1507.5,1027.4L1511.0,1036.4L1513.7,1037.5L1519.0,1035.2L1519.9,1033.8L1520.0,1032.4L1516.5,1023.6L1514.1,1022.6Z"/><path d="M1504.7,1007.5L1503.0,1008.7L1502.4,1010.7L1505.2,1020.2L1507.7,1021.3L1513.2,1019.5L1514.2,1018.1L1514.4,1016.6L1511.7,1007.7L1509.5,1006.5Z"/><path d="M1501.5,990.7L1499.7,991.7L1498.9,993.6L1500.7,1003.1L1503.1,1004.6L1508.8,1003.4L1509.8,1002.4L1510.3,1000.8L1508.4,991.5L1506.3,990.1Z"/><path d="M1499.8,973.6L1497.9,974.4L1497.0,976.2L1498.0,985.9L1500.2,987.6L1505.9,987.0L1507.0,986.1L1507.7,984.5L1506.7,975.0L1504.7,973.4Z"/><path d="M1496.6,967.6L1497.3,969.5L1499.1,970.5L1504.0,970.4L1505.7,969.5L1506.6,967.7L1506.6,959.6L1505.6,957.3L1504.0,956.6L1499.4,956.4L1497.3,957.4L1496.6,959.1Z"/><path d="M1497.0,950.1L1497.6,952.1L1499.3,953.3L1504.2,953.6L1506.0,952.9L1507.0,951.2L1507.7,943.1L1506.9,940.7L1505.5,939.9L1500.9,939.3L1498.7,940.1L1497.9,941.7Z"/><path d="M1499.1,932.8L1499.5,934.8L1501.1,936.2L1505.9,936.9L1507.8,936.4L1508.9,934.7L1510.5,926.8L1509.9,924.3L1508.4,923.3L1504.0,922.4L1501.7,923.0L1500.7,924.5Z"/><path d="M1502.8,915.8L1503.0,917.8L1504.4,919.2L1509.1,920.5L1511.1,920.1L1512.4,918.6L1514.6,910.8L1514.3,908.3L1512.9,907.2L1508.6,905.8L1506.3,906.2L1505.1,907.8Z"/><path d="M1508.0,899.1L1508.0,901.1L1509.3,902.7L1513.9,904.4L1515.9,904.2L1517.3,902.8L1520.2,895.3L1520.1,892.7L1518.9,891.5L1514.7,889.7L1512.4,889.9L1511.1,891.2Z"/><path d="M1514.7,883.0L1514.5,885.0L1515.7,886.7L1520.1,888.8L1522.1,888.8L1523.6,887.5L1527.2,880.3L1527.3,877.8L1526.3,876.5L1522.3,874.2L1519.9,874.2L1518.5,875.4Z"/><path d="M1522.9,867.6L1522.5,869.6L1523.5,871.4L1527.7,873.8L1529.7,874.0L1531.4,872.9L1535.6,866.0L1536.0,863.5L1535.0,862.1L1531.2,859.6L1528.9,859.4L1527.4,860.4Z"/><path d="M1532.5,853.0L1531.9,854.9L1532.7,856.8L1536.7,859.7L1538.7,860.0L1540.4,859.1L1545.3,852.6L1545.9,850.2L1545.0,848.6L1541.4,845.8L1539.2,845.4L1537.5,846.4Z"/><path d="M1543.4,839.3L1542.6,841.2L1543.2,843.1L1547.2,846.5L1549.1,846.9L1550.7,846.1L1556.1,840.2L1556.9,837.8L1556.2,836.2L1553.0,833.0L1550.7,832.3L1549.1,833.0Z"/><path d="M1555.4,826.7L1554.5,828.5L1555.0,830.6L1558.4,834.1L1560.2,834.8L1562.1,834.2L1568.1,828.7L1569.0,826.5L1568.5,824.8L1565.8,821.5L1563.6,820.4L1561.7,821.0Z"/><path d="M1568.6,815.3L1567.5,817.0L1567.7,818.8L1570.9,822.9L1572.4,823.7L1574.6,823.3L1579.8,819.4L1580.7,817.9L1580.3,815.6L1577.6,811.9L1576.1,811.0L1573.8,811.4Z"/></g>
<circle cx="1190" cy="963" r="8" fill="url(#gdot)"/>
<circle cx="1117" cy="986.75" r="8" fill="url(#gdot)"/>
<circle cx="1250.75" cy="993" r="8" fill="url(#gdot)"/>
<circle cx="1389" cy="859" r="8" fill="url(#gdot)"/>
<circle cx="1463.75" cy="893" r="8" fill="url(#gdot)"/>
<circle cx="1410.5" cy="928" r="8" fill="url(#gdot)"/>
<circle cx="1347" cy="950.75" r="8" fill="url(#gdot)"/>
<circle cx="1454.5" cy="955.5" r="8" fill="url(#gdot)"/>
<circle cx="1415" cy="970.5" r="8" fill="url(#gdot)"/>
<circle cx="1455" cy="985" r="8" fill="url(#gdot)"/>
<circle cx="1425.5" cy="1000.75" r="8" fill="url(#gdot)"/>
<circle cx="1330.75" cy="1009" r="8" fill="url(#gdot)"/>
<circle cx="1391" cy="1008" r="8" fill="url(#gdot)"/>
<circle cx="1466.75" cy="1022.5" r="8" fill="url(#gdot)"/>
<circle cx="1443" cy="1059.5" r="8" fill="url(#gdot)"/>
<circle cx="1384" cy="1083.75" r="8" fill="url(#gdot)"/>
<circle cx="1479" cy="1101.5" r="8" fill="url(#gdot)"/>
<circle cx="1517" cy="919.5" r="8" fill="url(#gdot)"/>
<circle cx="1510.5" cy="991" r="8" fill="url(#gdot)"/>
<circle cx="1561.75" cy="1003" r="8" fill="url(#gdot)"/>
<circle cx="1524" cy="1053" r="8" fill="url(#gdot)"/>
</g>
<circle cx="1328" cy="1000.5" r="302" fill="none" stroke="#111" stroke-width="4.2"/>
<path d="M1092.0,987.5L1002.0,943.3" stroke="#222" stroke-width="5" fill="none"/><path d="M976.0,930.5L1010.4,930.7L997.2,957.6Z" fill="#222"/>
<path d="M1600.0,930.8L1742.5,930.8" stroke="#222" stroke-width="5" fill="none"/><path d="M1771.5,930.8L1740.5,945.8L1740.5,915.8Z" fill="#222"/>
<path d="M1565.0,1053.0L1750.0,1053.0" stroke="#222" stroke-width="5" fill="none"/><path d="M1779.0,1053.0L1748.0,1068.0L1748.0,1038.0Z" fill="#222"/>
<path d="M1322.5,1247.5L1322.5,1393.5" stroke="#222" stroke-width="5" fill="none"/><path d="M1322.5,1422.5L1307.5,1391.5L1337.5,1391.5Z" fill="#222"/>
<path d="M1575.0,1133.0L1672.2,1357.1" stroke="#222" stroke-width="5" fill="none"/><path d="M1683.8,1383.8L1657.7,1361.3L1685.2,1349.3Z" fill="#222"/>
</g>

<!-- transport -->
<g id="transport">
<!-- strips -->
<rect x="1261" y="1474" width="53" height="287" rx="14" fill="#ff9933"/>
<rect x="1737.5" y="1471" width="53" height="288" rx="14" fill="#ff9933"/>
<!-- arrows under boxes -->
<g stroke="#222" stroke-width="5.5" fill="none">
<path d="M1015,1619.5 H1230"/>
<path d="M1395,1620 H1442"/>
<path d="M1501,1616 H1575" stroke-dasharray="13 13.3"/>
<path d="M1618,1615.5 H1655"/>
<path d="M1877,1615 H2020"/>
</g>
<g fill="#222">
<path d="M1438.5,1605 L1469,1620 L1438.5,1635Z"/>
<path d="M1582.5,1601 L1612.5,1616.5 L1582.5,1632Z"/>
<path d="M2017.5,1600 L2048.5,1615 L2017.5,1630Z"/>
</g>
<path d="M1710,1600 L1737.5,1615 L1710,1630Z" fill="#222"/>
<!-- boxes -->
<rect x="1201.5" y="1511.5" width="172" height="211" rx="11" fill="#ffcca3" fill-opacity="0.49" stroke="#8a4513" stroke-opacity="0.5" stroke-width="3"/>
<rect x="1677.5" y="1509" width="173" height="212" rx="11" fill="#ffcca3" fill-opacity="0.49" stroke="#8a4513" stroke-opacity="0.5" stroke-width="3"/>
<path d="M1200,1619.5 H1230" stroke="#222" stroke-width="5.5"/><path d="M1225,1604.5 L1256,1619.5 L1225,1634.5Z" fill="#222"/>
<use href="#ballg" x="1187.5" y="1615"/>
<use href="#ballr" x="1370" y="1615"/>
<use href="#ballg" x="1677.5" y="1615"/>
<use href="#ballr" x="1850" y="1615"/>
</g>

<!-- vessels -->
<g id="vessels">
<path d="M2057.5,113.5V1366M2250.5,113.5V1366" stroke="#18a63d" stroke-width="9.5" fill="none"/>
<path d="M2060,120 L2249,120 C2212,142 2182,147 2155,147 C2128,147 2098,142 2060,120Z" fill="#b5e4b4"/>
<path d="M2086.0,378.5L2107.5,386.0L2130.0,391.0L2136.0,401.0L2130.0,410.0L2107.5,413.8L2086.0,416.5L2086.0,400.0Z" fill="#b5e4b4"/>
<path d="M2223.8,378.5L2202.3,386.0L2179.8,391.0L2173.8,401.0L2179.8,410.0L2202.3,413.8L2223.8,416.5L2223.8,400.0Z" fill="#b5e4b4"/>
<path d="M2084.0,734.8L2102.5,740.0L2122.5,743.8L2127.5,751.2L2122.5,758.8L2102.5,762.5L2084.0,767.5L2084.0,751.0Z" fill="#b5e4b4"/>
<path d="M2225.8,734.8L2207.3,740.0L2187.3,743.8L2182.3,751.2L2187.3,758.8L2207.3,762.5L2225.8,767.5L2225.8,751.0Z" fill="#b5e4b4"/>
<path d="M2084.0,1029.5L2100.0,1037.5L2116.0,1047.5L2118.8,1055.0L2112.5,1062.5L2095.0,1070.0L2085.0,1075.0L2084.0,1052.0Z" fill="#b5e4b4"/>
<path d="M2225.8,1029.5L2209.8,1037.5L2193.8,1047.5L2191.1,1055.0L2197.3,1062.5L2214.8,1070.0L2224.8,1075.0L2225.8,1052.0Z" fill="#b5e4b4"/>
<path d="M2076,1371 C2100,1352 2125,1338 2150,1338 C2178,1338 2205,1356 2231,1377 L2076,1374Z" fill="#b5e4b4"/>
<path d="M2083.8,134.0C2083.6,145.0 2083.2,168.2 2083.0,200.0C2082.8,231.8 2083.7,298.8 2082.5,325.0C2081.3,351.2 2075.6,348.8 2076.0,357.5C2076.4,366.2 2079.8,372.8 2085.0,377.5C2090.2,382.2 2100.0,383.8 2107.5,386.0C2115.0,388.2 2125.2,388.5 2130.0,391.0C2134.8,393.5 2136.5,397.8 2136.5,401.0C2136.5,404.2 2134.8,407.9 2130.0,410.0C2125.2,412.1 2115.0,412.5 2107.5,413.8C2100.0,415.0 2090.6,414.5 2085.0,417.5C2079.4,420.5 2075.4,424.5 2073.8,432.0C2072.1,439.5 2074.0,449.1 2075.0,462.5C2076.0,475.9 2079.0,493.8 2080.0,512.5C2081.0,531.2 2081.0,552.1 2081.0,575.0C2081.0,597.9 2080.4,629.3 2080.0,650.0C2079.6,670.7 2079.2,687.8 2078.8,699.0C2078.3,710.2 2076.8,711.7 2077.5,717.5C2078.2,723.3 2078.8,730.0 2083.0,733.8C2087.2,737.5 2095.9,738.3 2102.5,740.0C2109.1,741.7 2118.2,741.9 2122.5,743.8C2126.8,745.6 2128.0,748.8 2128.0,751.2C2128.0,753.8 2126.8,756.9 2122.5,758.8C2118.2,760.6 2109.4,760.8 2102.5,762.5C2095.6,764.2 2086.0,765.5 2081.0,768.8C2076.0,772.0 2073.7,773.9 2072.5,782.0C2071.3,790.1 2073.1,801.2 2073.8,817.5C2074.4,833.8 2076.2,857.1 2076.2,880.0C2076.2,902.9 2074.2,934.2 2073.8,955.0C2073.3,975.8 2072.3,992.9 2073.8,1005.0C2075.2,1017.1 2078.1,1022.1 2082.5,1027.5C2086.9,1032.9 2094.4,1034.2 2100.0,1037.5C2105.6,1040.8 2112.8,1044.6 2116.0,1047.5C2119.2,1050.4 2120.1,1052.5 2119.5,1055.0C2118.9,1057.5 2116.6,1060.0 2112.5,1062.5C2108.4,1065.0 2099.9,1067.6 2095.0,1070.0C2090.1,1072.4 2085.9,1073.3 2083.0,1077.0C2080.1,1080.7 2079.0,1081.5 2077.5,1092.0C2076.0,1102.5 2074.4,1115.3 2073.8,1140.0C2073.1,1164.7 2073.5,1210.8 2073.8,1240.0C2074.0,1269.2 2074.6,1293.2 2075.0,1315.0C2075.4,1336.8 2076.0,1361.7 2076.2,1371.0" stroke="#18a63d" stroke-width="9.5" fill="none" stroke-linejoin="round"/>
<path d="M2226.1,134.0C2226.2,145.0 2226.6,168.2 2226.8,200.0C2227.0,231.8 2226.1,298.8 2227.3,325.0C2228.5,351.2 2234.2,348.8 2233.8,357.5C2233.4,366.2 2230.1,372.8 2224.8,377.5C2219.6,382.2 2209.8,383.8 2202.3,386.0C2194.8,388.2 2184.6,388.5 2179.8,391.0C2175.0,393.5 2173.3,397.8 2173.3,401.0C2173.3,404.2 2175.0,407.9 2179.8,410.0C2184.6,412.1 2194.8,412.5 2202.3,413.8C2209.8,415.0 2219.2,414.5 2224.8,417.5C2230.4,420.5 2234.4,424.5 2236.1,432.0C2237.7,439.5 2235.8,449.1 2234.8,462.5C2233.8,475.9 2230.8,493.8 2229.8,512.5C2228.8,531.2 2228.8,552.1 2228.8,575.0C2228.8,597.9 2229.4,629.3 2229.8,650.0C2230.2,670.7 2230.6,687.8 2231.1,699.0C2231.5,710.2 2233.0,711.7 2232.3,717.5C2231.6,723.3 2231.0,730.0 2226.8,733.8C2222.6,737.5 2213.9,738.3 2207.3,740.0C2200.7,741.7 2191.6,741.9 2187.3,743.8C2183.1,745.6 2181.8,748.8 2181.8,751.2C2181.8,753.8 2183.1,756.9 2187.3,758.8C2191.6,760.6 2200.4,760.8 2207.3,762.5C2214.2,764.2 2223.8,765.5 2228.8,768.8C2233.8,772.0 2236.1,773.9 2237.3,782.0C2238.5,790.1 2236.7,801.2 2236.1,817.5C2235.4,833.8 2233.6,857.1 2233.6,880.0C2233.6,902.9 2235.6,934.2 2236.1,955.0C2236.5,975.8 2237.5,992.9 2236.1,1005.0C2234.6,1017.1 2231.7,1022.1 2227.3,1027.5C2222.9,1032.9 2215.4,1034.2 2209.8,1037.5C2204.2,1040.8 2197.1,1044.6 2193.8,1047.5C2190.6,1050.4 2189.7,1052.5 2190.3,1055.0C2190.9,1057.5 2193.2,1060.0 2197.3,1062.5C2201.4,1065.0 2209.9,1067.6 2214.8,1070.0C2219.7,1072.4 2223.9,1073.3 2226.8,1077.0C2229.7,1080.7 2230.8,1081.5 2232.3,1092.0C2233.8,1102.5 2235.4,1115.3 2236.1,1140.0C2236.7,1164.7 2236.3,1210.8 2236.1,1240.0C2235.8,1269.2 2235.2,1293.2 2234.8,1315.0C2234.4,1336.8 2233.8,1361.7 2233.6,1371.0" stroke="#18a63d" stroke-width="9.5" fill="none" stroke-linejoin="round"/>
<path d="M2057.5,116 C2098,142 2128,147 2155,147 C2182,147 2212,142 2250.5,116" stroke="#18a63d" stroke-width="9.5" fill="none"/>
<path d="M2076,1372 C2100,1352 2125,1338 2150,1338 C2178,1338 2205,1356 2230,1377" stroke="#18a63d" stroke-width="9.5" fill="none"/>
<path d="M2360,419 C2390.4,369.32 2481.6,369.32 2512,419 C2481.6,468.68 2390.4,468.68 2360,419Z" fill="#b5e4b4" stroke="#b4651e" stroke-width="3"/>
<g fill="none" stroke="#b4651e" stroke-width="2.6"><ellipse cx="2395" cy="410" rx="4.6" ry="5.6"/><ellipse cx="2422.5" cy="405" rx="4.6" ry="5.6"/><ellipse cx="2455" cy="398.75" rx="4.6" ry="5.6"/><ellipse cx="2383.75" cy="431" rx="4.6" ry="5.6"/><ellipse cx="2406.25" cy="426.25" rx="4.6" ry="5.6"/><ellipse cx="2436.25" cy="421.25" rx="4.6" ry="5.6"/><ellipse cx="2462" cy="421.25" rx="4.6" ry="5.6"/><ellipse cx="2480" cy="410" rx="4.6" ry="5.6"/><ellipse cx="2496.25" cy="425" rx="4.6" ry="5.6"/><ellipse cx="2418.75" cy="442" rx="4.6" ry="5.6"/><ellipse cx="2443" cy="442" rx="4.6" ry="5.6"/><ellipse cx="2473.75" cy="436" rx="4.6" ry="5.6"/></g>
<path d="M2380,754 C2409.2,702.94 2496.8,702.94 2526,754 C2496.8,805.06 2409.2,805.06 2380,754Z" fill="#b5e4b4" stroke="#b4651e" stroke-width="3"/>
<g fill="none" stroke="#b4651e" stroke-width="2.6"><ellipse cx="2408.75" cy="742.5" rx="4.6" ry="5.6"/><ellipse cx="2436.25" cy="736.25" rx="4.6" ry="5.6"/><ellipse cx="2468" cy="732" rx="4.6" ry="5.6"/><ellipse cx="2496.25" cy="742.5" rx="4.6" ry="5.6"/><ellipse cx="2397" cy="763.75" rx="4.6" ry="5.6"/><ellipse cx="2418.75" cy="760" rx="4.6" ry="5.6"/><ellipse cx="2448.75" cy="754.5" rx="4.6" ry="5.6"/><ellipse cx="2475" cy="754.5" rx="4.6" ry="5.6"/><ellipse cx="2508.75" cy="758" rx="4.6" ry="5.6"/><ellipse cx="2456.25" cy="775" rx="4.6" ry="5.6"/><ellipse cx="2491.25" cy="767.5" rx="4.6" ry="5.6"/><ellipse cx="2428" cy="776" rx="4.6" ry="5.6"/></g>
<path d="M2370,1076 C2400.0,1027.7 2490.0,1027.7 2520,1076 C2490.0,1124.3 2400.0,1124.3 2370,1076Z" fill="#b5e4b4" stroke="#b4651e" stroke-width="3"/>
<g fill="none" stroke="#b4651e" stroke-width="2.6"><ellipse cx="2412" cy="1058.75" rx="4.6" ry="5.6"/><ellipse cx="2440.75" cy="1058.75" rx="4.6" ry="5.6"/><ellipse cx="2472.5" cy="1058.75" rx="4.6" ry="5.6"/><ellipse cx="2395.75" cy="1076.75" rx="4.6" ry="5.6"/><ellipse cx="2418.75" cy="1076.75" rx="4.6" ry="5.6"/><ellipse cx="2448.75" cy="1076.75" rx="4.6" ry="5.6"/><ellipse cx="2474.25" cy="1081.25" rx="4.6" ry="5.6"/><ellipse cx="2498" cy="1075" rx="4.6" ry="5.6"/><ellipse cx="2451.25" cy="1098.75" rx="4.6" ry="5.6"/><ellipse cx="2496" cy="1088" rx="4.6" ry="5.6"/><ellipse cx="2426" cy="1093.75" rx="4.6" ry="5.6"/><ellipse cx="2480" cy="1098.75" rx="4.6" ry="5.6"/></g>
<path d="M2377.5,100 L2497.5,100 Q2437.5,149 2377.5,100Z" fill="#b5e4b4"/>
<path d="M2365,1391 L2380,1378 C2400,1362 2420,1351 2437,1351 C2460,1351 2485,1375 2507,1399 L2507.5,1406Z" fill="#b5e4b4"/>
<path d="M2370.0,95.0C2376.7,90.8 2381.5,101.2 2385.0,110.0C2388.5,118.8 2391.4,132.9 2391.0,147.5C2390.6,162.1 2385.6,180.8 2382.5,197.5C2379.4,214.2 2374.8,230.8 2372.5,247.5C2370.2,264.2 2369.2,280.8 2368.8,297.5C2368.3,314.2 2370.2,332.9 2370.0,347.5C2369.8,362.1 2370.3,372.8 2367.5,385.0C2364.7,397.2 2358.0,421.0 2353.0,421.0C2348.0,421.0 2342.2,399.3 2337.5,385.0C2332.8,370.7 2327.3,355.8 2325.0,335.0C2322.7,314.2 2322.9,285.0 2323.8,260.0C2324.6,235.0 2326.5,205.8 2330.0,185.0C2333.5,164.2 2338.3,150.0 2345.0,135.0C2351.7,120.0 2363.3,99.2 2370.0,95.0Z" fill="#b5e4b4" stroke="#18a63d" stroke-width="9" stroke-linejoin="round"/>
<path d="M2352.5,423.8C2356.7,420.8 2363.3,436.5 2367.5,445.0C2371.7,453.5 2376.2,463.8 2377.5,475.0C2378.8,486.2 2376.7,497.9 2375.0,512.5C2373.3,527.1 2368.8,545.8 2367.5,562.5C2366.2,579.2 2366.2,597.9 2367.5,612.5C2368.8,627.1 2372.1,637.5 2375.0,650.0C2377.9,662.5 2383.3,675.8 2385.0,687.5C2386.7,699.2 2386.1,710.8 2385.0,720.0C2383.9,729.2 2380.7,737.3 2378.5,742.5C2376.3,747.7 2374.7,753.1 2372.0,751.0C2369.3,748.9 2366.6,740.6 2362.5,730.0C2358.4,719.4 2352.1,702.9 2347.5,687.5C2342.9,672.1 2338.8,654.2 2335.0,637.5C2331.2,620.8 2327.5,604.2 2325.0,587.5C2322.5,570.8 2320.0,552.1 2320.0,537.5C2320.0,522.9 2321.2,512.5 2325.0,500.0C2328.8,487.5 2337.9,475.2 2342.5,462.5C2347.1,449.8 2348.3,426.7 2352.5,423.8Z" fill="#b5e4b4" stroke="#18a63d" stroke-width="9" stroke-linejoin="round"/>
<path d="M2371.0,751.0C2375.6,749.3 2376.8,761.8 2380.0,770.0C2383.2,778.2 2388.5,790.0 2390.0,800.0C2391.5,810.0 2390.4,818.8 2388.8,830.0C2387.1,841.2 2382.7,855.0 2380.0,867.5C2377.3,880.0 2374.4,890.4 2372.5,905.0C2370.6,919.6 2369.2,938.3 2368.8,955.0C2368.3,971.7 2369.8,990.4 2370.0,1005.0C2370.2,1019.6 2370.8,1032.0 2370.0,1042.5C2369.2,1053.0 2367.0,1062.8 2365.0,1068.0C2363.0,1073.2 2360.5,1074.9 2358.0,1074.0C2355.5,1073.1 2353.4,1069.8 2350.0,1062.5C2346.6,1055.2 2341.0,1043.8 2337.5,1030.0C2334.0,1016.2 2330.6,996.7 2328.8,980.0C2326.9,963.3 2326.2,948.8 2326.2,930.0C2326.2,911.2 2326.9,886.2 2328.8,867.5C2330.6,848.8 2333.5,832.1 2337.5,817.5C2341.5,802.9 2346.9,791.1 2352.5,780.0C2358.1,768.9 2366.4,752.7 2371.0,751.0Z" fill="#b5e4b4" stroke="#18a63d" stroke-width="9" stroke-linejoin="round"/>
<path d="M2356.2,1070.0C2360.8,1070.0 2366.0,1080.4 2370.0,1090.0C2374.0,1099.6 2378.8,1115.0 2380.0,1127.5C2381.2,1140.0 2379.2,1150.4 2377.5,1165.0C2375.8,1179.6 2371.5,1198.3 2370.0,1215.0C2368.5,1231.7 2367.9,1248.3 2368.8,1265.0C2369.6,1281.7 2373.1,1298.3 2375.0,1315.0C2376.9,1331.7 2379.6,1353.3 2380.0,1365.0C2380.4,1376.7 2380.0,1380.2 2377.5,1385.0C2375.0,1389.8 2369.2,1394.0 2365.0,1394.0C2360.8,1394.0 2356.7,1391.9 2352.5,1385.0C2348.3,1378.1 2343.8,1366.2 2340.0,1352.5C2336.2,1338.8 2332.7,1321.2 2330.0,1302.5C2327.3,1283.8 2324.8,1260.8 2323.8,1240.0C2322.7,1219.2 2322.7,1196.2 2323.8,1177.5C2324.8,1158.8 2326.9,1142.1 2330.0,1127.5C2333.1,1112.9 2338.1,1099.6 2342.5,1090.0C2346.9,1080.4 2351.7,1070.0 2356.2,1070.0Z" fill="#b5e4b4" stroke="#18a63d" stroke-width="9" stroke-linejoin="round"/>
<path d="M2505.0,95.0C2510.4,92.9 2515.4,101.2 2520.0,110.0C2524.6,118.8 2528.8,132.9 2532.5,147.5C2536.2,162.1 2539.8,180.8 2542.5,197.5C2545.2,214.2 2547.5,230.8 2548.8,247.5C2550.0,264.2 2550.2,280.8 2550.0,297.5C2549.8,314.2 2549.2,332.9 2547.5,347.5C2545.8,362.1 2542.9,374.2 2540.0,385.0C2537.1,395.8 2532.9,406.8 2530.0,412.5C2527.1,418.2 2525.4,421.5 2522.5,419.0C2519.6,416.5 2515.0,407.3 2512.5,397.5C2510.0,387.7 2507.9,374.6 2507.5,360.0C2507.1,345.4 2509.8,324.6 2510.0,310.0C2510.2,295.4 2510.0,285.0 2508.8,272.5C2507.5,260.0 2505.2,247.5 2502.5,235.0C2499.8,222.5 2495.4,210.0 2492.5,197.5C2489.6,185.0 2485.8,172.5 2485.0,160.0C2484.2,147.5 2484.2,133.3 2487.5,122.5C2490.8,111.7 2499.6,97.1 2505.0,95.0Z" fill="#b5e4b4" stroke="#18a63d" stroke-width="9" stroke-linejoin="round"/>
<path d="M2520.0,427.5C2525.4,426.7 2532.5,435.0 2537.5,445.0C2542.5,455.0 2546.2,472.1 2550.0,487.5C2553.8,502.9 2557.5,518.8 2560.0,537.5C2562.5,556.2 2564.2,581.2 2565.0,600.0C2565.8,618.8 2565.8,633.3 2565.0,650.0C2564.2,666.7 2562.5,685.4 2560.0,700.0C2557.5,714.6 2554.0,729.0 2550.0,737.5C2546.0,746.0 2540.4,751.0 2536.2,751.0C2532.1,751.0 2528.1,743.9 2525.0,737.5C2521.9,731.1 2518.3,725.0 2517.5,712.5C2516.7,700.0 2519.4,679.2 2520.0,662.5C2520.6,645.8 2522.1,629.2 2521.2,612.5C2520.4,595.8 2518.1,579.2 2515.0,562.5C2511.9,545.8 2505.4,527.1 2502.5,512.5C2499.6,497.9 2497.1,485.4 2497.5,475.0C2497.9,464.6 2501.2,457.9 2505.0,450.0C2508.8,442.1 2514.6,428.3 2520.0,427.5Z" fill="#b5e4b4" stroke="#18a63d" stroke-width="9" stroke-linejoin="round"/>
<path d="M2537.5,751.0C2542.9,750.2 2550.4,761.0 2555.0,770.0C2559.6,779.0 2562.5,790.8 2565.0,805.0C2567.5,819.2 2569.0,838.3 2570.0,855.0C2571.0,871.7 2571.5,888.3 2571.2,905.0C2571.0,921.7 2570.2,938.3 2568.8,955.0C2567.3,971.7 2565.6,990.4 2562.5,1005.0C2559.4,1019.6 2554.6,1031.7 2550.0,1042.5C2545.4,1053.3 2538.8,1064.4 2535.0,1070.0C2531.2,1075.6 2530.4,1078.5 2527.5,1076.0C2524.6,1073.5 2519.4,1062.7 2517.5,1055.0C2515.6,1047.3 2515.4,1042.5 2516.2,1030.0C2517.1,1017.5 2521.0,996.7 2522.5,980.0C2524.0,963.3 2525.4,946.7 2525.0,930.0C2524.6,913.3 2521.9,894.6 2520.0,880.0C2518.1,865.4 2514.8,855.0 2513.8,842.5C2512.7,830.0 2512.3,816.2 2513.8,805.0C2515.2,793.8 2518.5,784.0 2522.5,775.0C2526.5,766.0 2532.1,751.8 2537.5,751.0Z" fill="#b5e4b4" stroke="#18a63d" stroke-width="9" stroke-linejoin="round"/>
<path d="M2528.8,1077.5C2533.3,1075.4 2540.2,1076.7 2545.0,1085.0C2549.8,1093.3 2554.4,1112.1 2557.5,1127.5C2560.6,1142.9 2562.7,1158.8 2563.8,1177.5C2564.8,1196.2 2564.8,1219.2 2563.8,1240.0C2562.7,1260.8 2560.2,1283.8 2557.5,1302.5C2554.8,1321.2 2551.2,1337.9 2547.5,1352.5C2543.8,1367.1 2539.6,1381.4 2535.0,1390.0C2530.4,1398.6 2524.6,1402.8 2520.0,1404.0C2515.4,1405.2 2509.2,1404.0 2507.5,1397.5C2505.8,1391.0 2508.5,1378.8 2510.0,1365.0C2511.5,1351.2 2514.2,1331.7 2516.2,1315.0C2518.3,1298.3 2521.9,1279.6 2522.5,1265.0C2523.1,1250.4 2521.9,1242.1 2520.0,1227.5C2518.1,1212.9 2513.1,1192.9 2511.2,1177.5C2509.4,1162.1 2507.7,1148.3 2508.8,1135.0C2509.8,1121.7 2514.2,1107.1 2517.5,1097.5C2520.8,1087.9 2524.2,1079.6 2528.8,1077.5Z" fill="#b5e4b4" stroke="#18a63d" stroke-width="9" stroke-linejoin="round"/>
<path d="M2377.5,101 Q2437.5,149 2497.5,101" stroke="#18a63d" stroke-width="9" fill="none"/>
<path d="M2380,1378 C2400,1362 2420,1351 2437,1351 C2460,1351 2485,1375 2507,1399" stroke="#18a63d" stroke-width="9" fill="none"/>
<path d="M2555.0,260.0C2555.2,240.0 2553.5,209.2 2556.0,190.0C2558.5,170.8 2562.7,155.7 2570.0,145.0C2577.3,134.3 2588.3,129.5 2600.0,126.0C2611.7,122.5 2623.3,119.6 2640.0,124.0C2656.7,128.4 2681.7,138.2 2700.0,152.5C2718.3,166.8 2738.8,190.0 2750.0,210.0C2761.2,230.0 2766.7,251.7 2767.5,272.5C2768.3,293.3 2764.2,315.0 2755.0,335.0C2745.8,355.0 2727.9,379.2 2712.5,392.5C2697.1,405.8 2681.2,411.2 2662.5,415.0C2643.8,418.8 2615.4,417.9 2600.0,415.0C2584.6,412.1 2577.1,406.7 2570.0,397.5C2562.9,388.3 2560.0,374.6 2557.5,360.0C2555.0,345.4 2555.4,326.7 2555.0,310.0C2554.6,293.3 2554.8,280.0 2555.0,260.0Z" fill="#bde8bc" stroke="#18a63d" stroke-width="10" stroke-linejoin="round"/>
<path d="M2572.6,215.5L2573.3,328.9L2575.3,357.1L2579.3,375.6L2583.0,384.6L2589.5,392.0L2595.9,395.4L2615.2,398.8L2645.7,399.0L2665.2,396.0L2676.6,392.7L2686.6,388.5L2696.0,382.6L2705.7,374.2L2721.6,355.5L2735.3,334.2L2743.8,314.2L2748.5,293.7L2749.6,280.0L2749.0,266.4L2746.9,252.6L2743.2,238.8L2734.3,218.8L2725.4,205.2L2714.1,191.0L2701.5,177.7L2689.0,166.7L2669.2,154.4L2654.8,147.9L2641.3,143.1L2630.9,140.4L2623.2,139.8L2609.1,142.1L2592.5,148.4L2586.4,153.2L2583.1,158.0L2577.1,174.5L2573.9,192.2Z" fill="#fff" stroke="#86ca87" stroke-width="6.5" stroke-linejoin="round"/>
<path d="M2580.0,1240.0C2581.7,1225.8 2581.2,1219.2 2582.5,1205.0C2583.8,1190.8 2585.0,1168.8 2587.5,1155.0C2590.0,1141.2 2592.1,1129.7 2597.5,1122.0C2602.9,1114.3 2611.2,1109.9 2620.0,1108.8C2628.8,1107.6 2640.8,1112.5 2650.0,1115.0C2659.2,1117.5 2665.8,1121.2 2675.0,1123.8C2684.2,1126.2 2695.8,1126.9 2705.0,1130.0C2714.2,1133.1 2723.8,1137.1 2730.0,1142.5C2736.2,1147.9 2739.6,1152.1 2742.5,1162.5C2745.4,1172.9 2747.1,1191.7 2747.5,1205.0C2747.9,1218.3 2746.2,1230.2 2745.0,1242.5C2743.8,1254.8 2743.3,1265.7 2740.0,1279.0C2736.7,1292.3 2730.8,1309.4 2725.0,1322.5C2719.2,1335.6 2712.5,1347.9 2705.0,1357.5C2697.5,1367.1 2689.2,1374.6 2680.0,1380.0C2670.8,1385.4 2660.0,1388.8 2650.0,1390.0C2640.0,1391.2 2630.0,1390.8 2620.0,1387.5C2610.0,1384.2 2597.5,1377.9 2590.0,1370.0C2582.5,1362.1 2577.9,1353.3 2575.0,1340.0C2572.1,1326.7 2571.7,1306.7 2572.5,1290.0C2573.3,1273.3 2578.3,1254.2 2580.0,1240.0Z" fill="#bde8bc" stroke="#18a63d" stroke-width="10" stroke-linejoin="round"/>
<path d="M2597.8,1242.5L2591.6,1279.6L2590.1,1303.1L2591.8,1331.9L2594.6,1343.4L2598.1,1351.2L2603.0,1357.5L2609.8,1363.0L2619.4,1368.0L2631.0,1371.8L2639.1,1372.6L2650.7,1371.7L2662.7,1368.4L2670.9,1364.5L2678.6,1359.1L2686.0,1352.1L2693.1,1343.3L2699.9,1332.5L2712.6,1305.5L2722.5,1274.7L2725.4,1258.3L2729.6,1209.9L2727.4,1179.4L2725.1,1167.3L2722.4,1160.5L2718.4,1156.3L2713.2,1152.8L2696.8,1146.3L2669.9,1141.0L2647.8,1133.1L2627.3,1127.2L2622.1,1126.7L2615.2,1129.3L2612.3,1132.3L2609.7,1137.9L2604.4,1163.1Z" fill="#fff" stroke="#86ca87" stroke-width="6.5" stroke-linejoin="round"/>
<g fill="url(#gdot)"><circle cx="2467" cy="183.5" r="7.6"/><circle cx="2484.25" cy="219.25" r="7.6"/><circle cx="2467" cy="235" r="7.6"/><circle cx="2402.5" cy="236.25" r="7.6"/><circle cx="2419" cy="271.5" r="7.6"/><circle cx="2463.75" cy="272" r="7.6"/><circle cx="2402.5" cy="287" r="7.6"/><circle cx="2451.25" cy="296.25" r="7.6"/><circle cx="2480" cy="311.25" r="7.6"/><circle cx="2402.5" cy="325.5" r="7.6"/><circle cx="2386.75" cy="348.75" r="7.6"/><circle cx="2417.5" cy="364.25" r="7.6"/><circle cx="2525.75" cy="323.75" r="7.6"/><circle cx="2552" cy="184" r="7.6"/><circle cx="2402.5" cy="501.25" r="7.6"/><circle cx="2419" cy="536.75" r="7.6"/><circle cx="2402.5" cy="552.5" r="7.6"/><circle cx="2467" cy="545.5" r="7.6"/><circle cx="2483.75" cy="580.5" r="7.6"/><circle cx="2402.5" cy="591.25" r="7.6"/><circle cx="2467" cy="596.75" r="7.6"/><circle cx="2386.75" cy="613.75" r="7.6"/><circle cx="2418" cy="629.25" r="7.6"/><circle cx="2467" cy="635" r="7.6"/><circle cx="2451.25" cy="658" r="7.6"/><circle cx="2482.5" cy="673" r="7.6"/><circle cx="2402.5" cy="862" r="7.6"/><circle cx="2418.75" cy="897.5" r="7.6"/><circle cx="2402.5" cy="913.75" r="7.6"/><circle cx="2477.5" cy="893.75" r="7.6"/><circle cx="2498" cy="929.25" r="7.6"/><circle cx="2477.5" cy="945" r="7.6"/><circle cx="2402.5" cy="952" r="7.6"/><circle cx="2386.75" cy="975" r="7.6"/><circle cx="2418" cy="990.75" r="7.6"/><circle cx="2477.5" cy="983.75" r="7.6"/><circle cx="2465.5" cy="1006.25" r="7.6"/><circle cx="2496.75" cy="1022.5" r="7.6"/><circle cx="2395" cy="1189.5" r="7.6"/><circle cx="2411.75" cy="1225" r="7.6"/><circle cx="2395" cy="1240.75" r="7.6"/><circle cx="2395" cy="1278.75" r="7.6"/><circle cx="2380" cy="1302.5" r="7.6"/><circle cx="2410.5" cy="1317.5" r="7.6"/><circle cx="2477.5" cy="1173.75" r="7.6"/><circle cx="2498" cy="1210" r="7.6"/><circle cx="2477.5" cy="1225.5" r="7.6"/><circle cx="2477.5" cy="1263.75" r="7.6"/><circle cx="2465.5" cy="1287" r="7.6"/><circle cx="2496.75" cy="1302.5" r="7.6"/><circle cx="2552.5" cy="1191.75" r="7.6"/><circle cx="2537" cy="1245.5" r="7.6"/><circle cx="2574.25" cy="1290" r="7.6"/><circle cx="2525.5" cy="1331.75" r="7.6"/><circle cx="2628.25" cy="152" r="7.6"/><circle cx="2708.25" cy="183.75" r="7.6"/><circle cx="2660" cy="198.75" r="7.6"/><circle cx="2597.5" cy="213" r="7.6"/><circle cx="2660" cy="238" r="7.6"/><circle cx="2718.25" cy="241.75" r="7.6"/><circle cx="2597.5" cy="252.5" r="7.6"/><circle cx="2635" cy="260.75" r="7.6"/><circle cx="2619.5" cy="238" r="7.6"/><circle cx="2573.75" cy="281.75" r="7.6"/><circle cx="2619.5" cy="281.75" r="7.6"/><circle cx="2679.25" cy="281.75" r="7.6"/><circle cx="2722.5" cy="297" r="7.6"/><circle cx="2597.5" cy="333.75" r="7.6"/><circle cx="2649.25" cy="338.75" r="7.6"/><circle cx="2628.25" cy="1160" r="7.6"/><circle cx="2708.25" cy="1191.75" r="7.6"/><circle cx="2660" cy="1206.75" r="7.6"/><circle cx="2596.75" cy="1220" r="7.6"/><circle cx="2660" cy="1245.75" r="7.6"/><circle cx="2718.25" cy="1249.5" r="7.6"/><circle cx="2596.75" cy="1261" r="7.6"/><circle cx="2635" cy="1268.5" r="7.6"/><circle cx="2619.5" cy="1288.75" r="7.6"/><circle cx="2679.25" cy="1290" r="7.6"/><circle cx="2722.5" cy="1305" r="7.6"/><circle cx="2597.5" cy="1341.25" r="7.6"/><circle cx="2649.25" cy="1347" r="7.6"/></g>
<path d="M2151.5,1245.0L2151.7,321.2" stroke="#ff8a1f" stroke-width="12.5" fill="none"/><path d="M2151.8,263.8L2180.5,322.3L2123.0,322.2Z" fill="#ff8a1f"/>
<path d="M2150.0,232.0L2347.3,231.6" stroke="#ff8a1f" stroke-width="13.5" fill="none"/><path d="M2403.8,231.5L2346.3,260.6L2346.2,202.6Z" fill="#ff8a1f"/>
<path d="M2375.0,1297.5L2219.0,1297.5" stroke="#ff8a1f" stroke-width="12.5" fill="none"/><path d="M2162.5,1297.5L2220.0,1268.5L2220.0,1326.5Z" fill="#ff8a1f"/>
<path d="M2485.0,1288.8L2484.5,282.5" stroke="#f7e01e" stroke-width="10" fill="none"/><path d="M2484.5,236.0L2507.0,283.5L2462.0,283.5Z" fill="#f7e01e"/>
<path d="M2431.5,243.0L2431.3,1253.5" stroke="#ff8a1f" stroke-width="11.5" fill="none"/><path d="M2431.2,1310.0L2402.5,1252.5L2460.0,1252.5Z" fill="#ff8a1f"/>
<path d="M2648.8,232.0L2554.0,232.0" stroke="#ff8a1f" stroke-width="10.5" fill="none"/><path d="M2510.0,232.0L2555.0,208.0L2555.0,256.0Z" fill="#ff8a1f"/>
<path d="M2648.8,300.0L2554.0,300.0" stroke="#f6e83d" stroke-width="10" fill="none"/><path d="M2509.0,300.0L2555.0,277.5L2555.0,322.5Z" fill="#f6e83d"/>
<path d="M2507.5,1239.0L2603.5,1238.8" stroke="#ff8a1f" stroke-width="9.5" fill="none"/><path d="M2647.5,1238.8L2602.5,1262.8L2602.5,1214.8Z" fill="#ff8a1f"/>
<path d="M2507.5,1307.5L2603.5,1307.2" stroke="#f6e83d" stroke-width="10" fill="none"/><path d="M2647.5,1307.0L2602.6,1329.7L2602.4,1284.7Z" fill="#f6e83d"/>
<path d="M2687.0,364.0L2691.8,448.5" stroke="#222" stroke-width="5" fill="none"/><path d="M2693.5,478.5L2676.8,448.4L2706.7,446.7Z" fill="#222"/>
<path d="M2675.0,1197.5L2698.5,1109.0" stroke="#222" stroke-width="5" fill="none"/><path d="M2706.2,1080.0L2712.3,1113.7L2684.3,1106.2Z" fill="#222"/>
<path d="M2530.0,1372.5L2633.0,1493.4" stroke="#222" stroke-width="5" fill="none"/><path d="M2652.5,1516.2L2621.0,1502.4L2643.8,1482.9Z" fill="#222"/>
</g>

<!-- text -->
<g id="labels" font-size="60">
<text x="577" y="147">Foliar application</text>
<text x="15.5" y="1667">Soil application</text>
<text x="186" y="1809">Silica nanoparticles</text>
<text x="188" y="1887">Lsi1</text>
<text x="188" y="1964">Lsi2</text>
<text x="737" y="936">Root hair</text>
<text x="789" y="1632.5">Si(OH)4</text>
<text x="1161" y="1458">Exdermis</text>
<text x="1647" y="1447">Endodermis</text>
<text x="1064" y="1580.5">Lsi1</text>
<text x="1394" y="1580.5">Lsi2</text>
<text x="1551" y="1580">Lsi1</text>
<text x="1893.5" y="1580.5">Lsi2</text>
<text x="1103" y="1815">Casparian strips</text>
<text x="1584" y="1815">Casparian strips</text>
<text x="1790" y="947.5">Xylem</text>
<text x="1806" y="1068">Phloem</text>
<text x="2055" y="64.5">Xylem</text>
<text x="2354.5" y="64.5">Phloem</text>
<text x="2600" y="538">Source cell</text>
<text x="2601" y="607">(leaf)</text>
<text x="2600" y="981">Sink cell</text>
<text x="2601" y="1050">(root)</text>
<text x="2436" y="1624">Companion cell</text>
<text transform="translate(1731,162) rotate(11)" x="0" y="0" font-size="58">Stomata</text>
</g>
<g id="legend">
<circle cx="101" cy="1794.5" r="14.3" fill="url(#gdot)"/>
<use href="#ballg" x="101" y="1872"/>
<use href="#ballr" x="101" y="1948.8"/>
</g>


</svg>
</body></html>
